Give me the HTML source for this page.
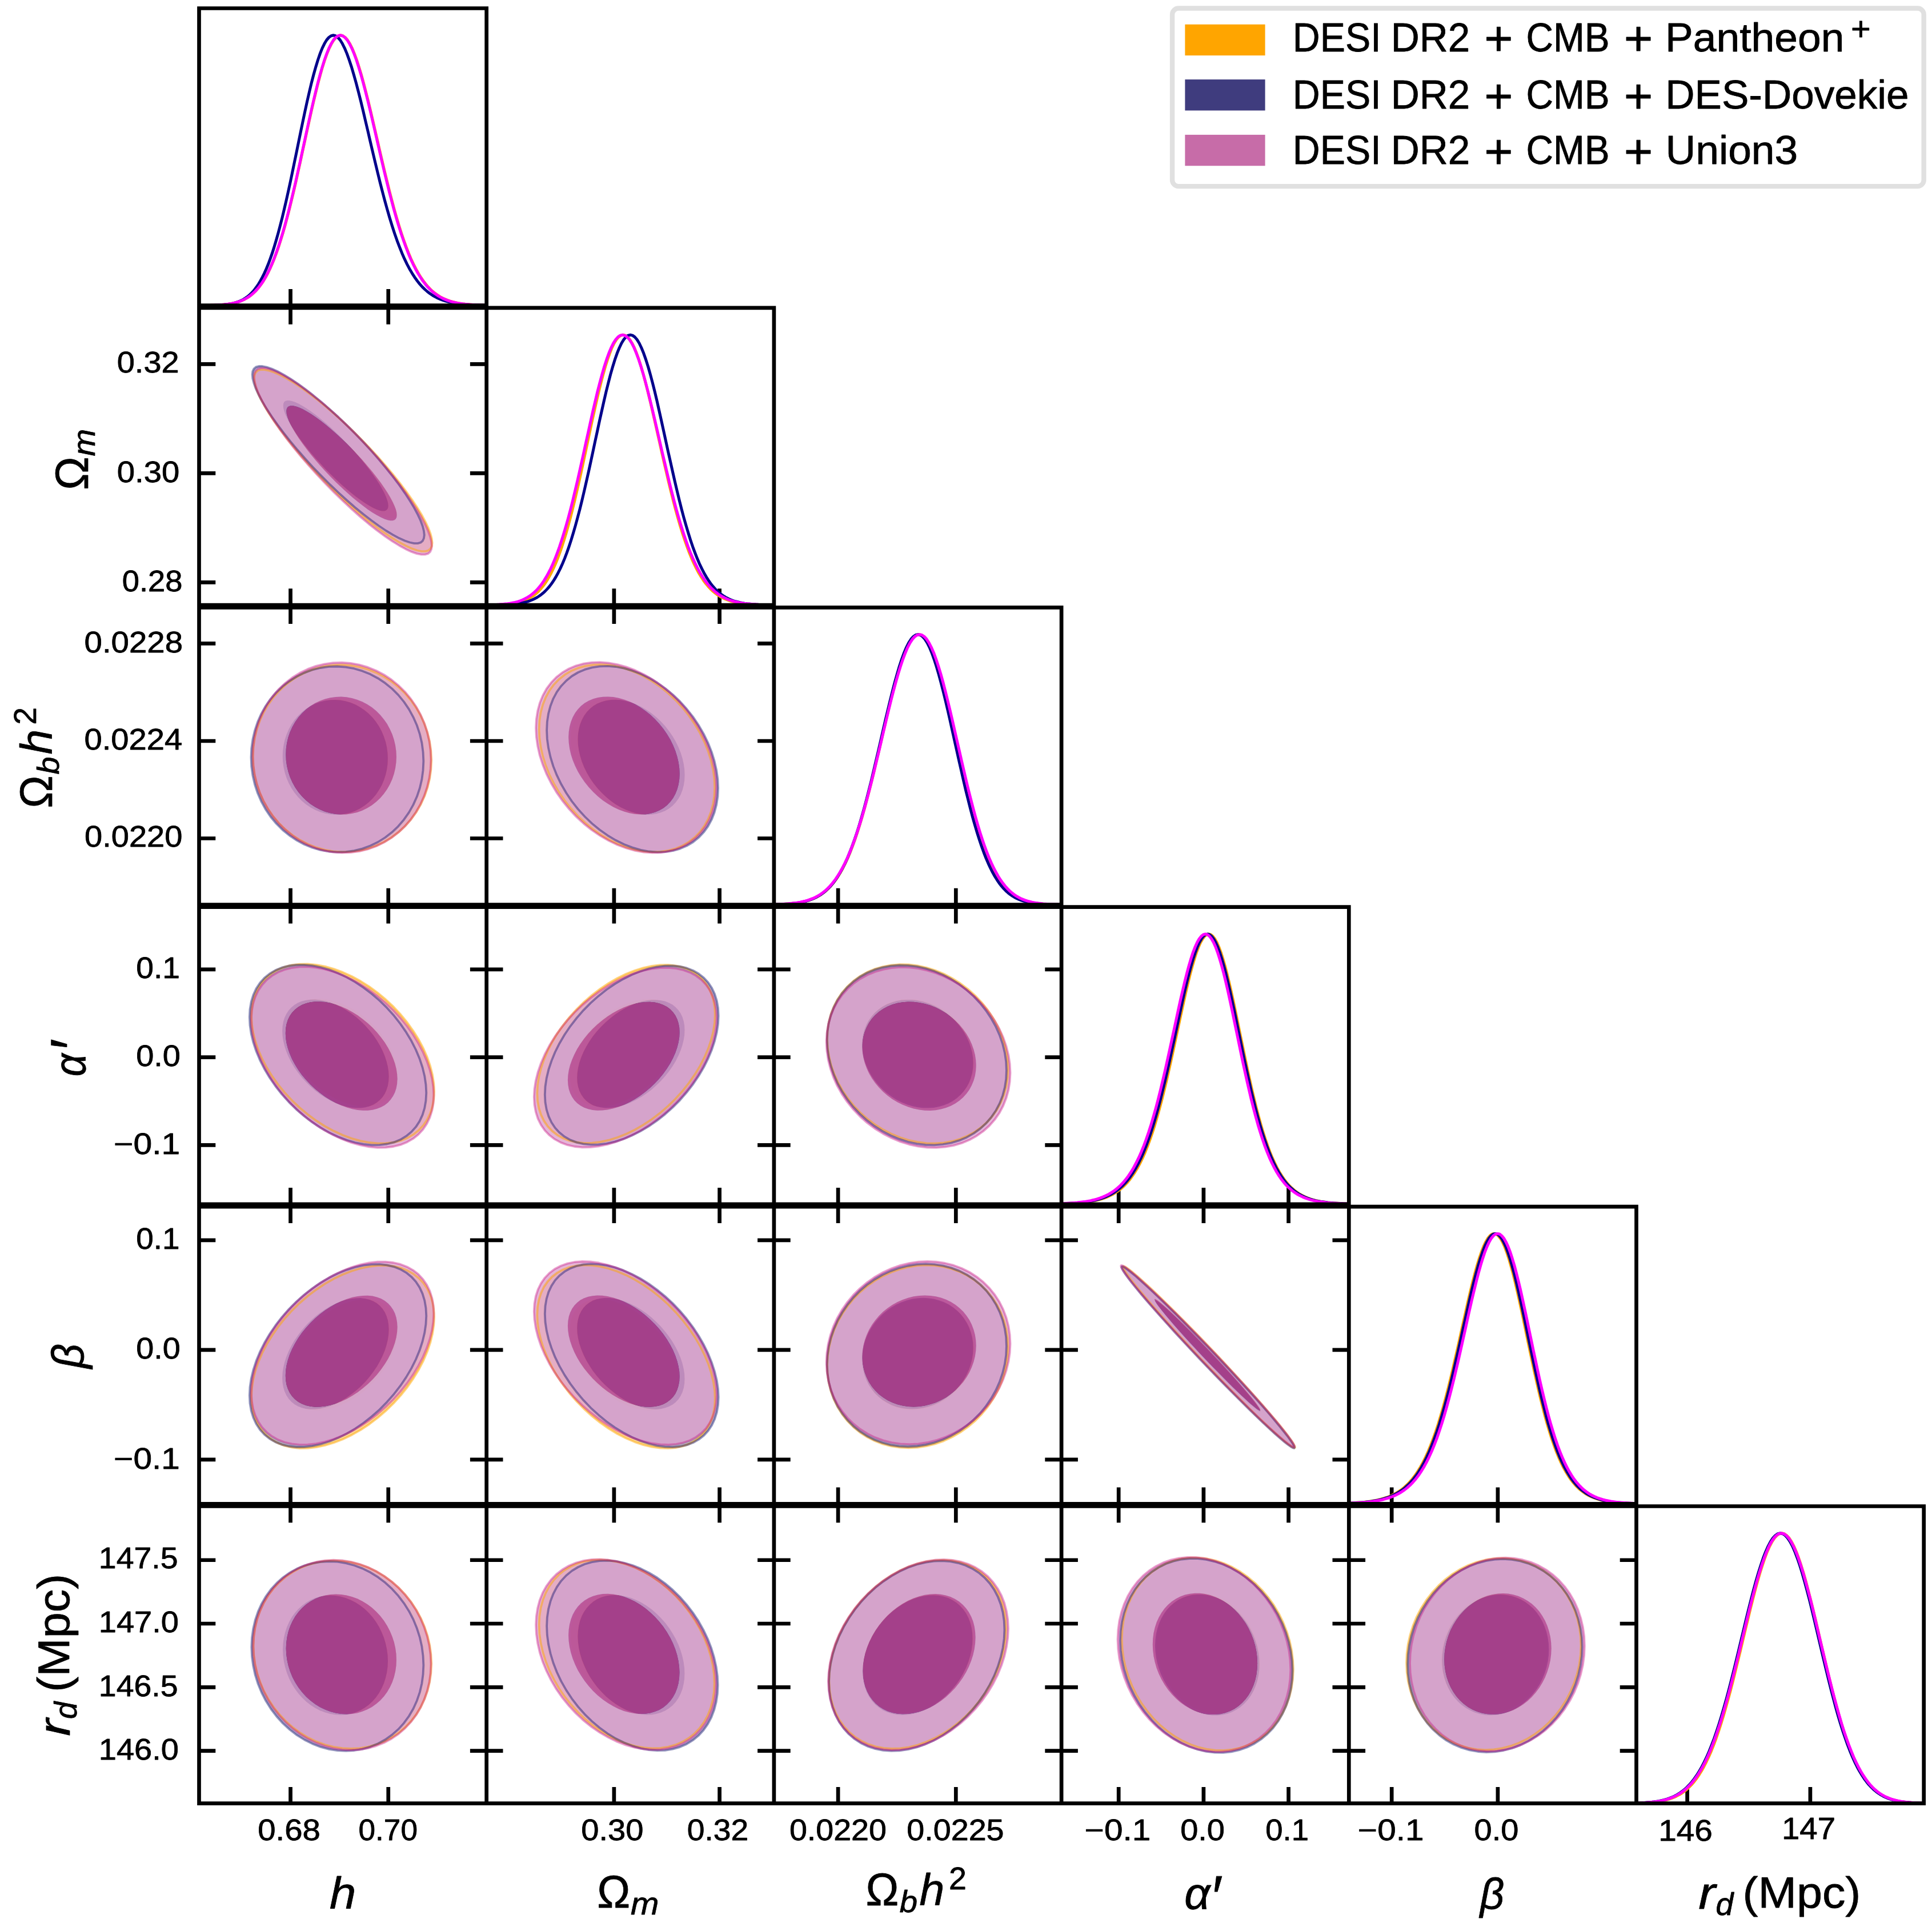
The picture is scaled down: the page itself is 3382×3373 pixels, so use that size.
<!DOCTYPE html>
<html><head><meta charset="utf-8"><title>Triangle plot</title>
<style>html,body{margin:0;padding:0;background:#fff}svg{display:block}</style></head>
<body>
<svg width="3382" height="3373" viewBox="0 0 3382 3373" font-family="Liberation Sans, sans-serif" fill="#000" stroke="#000" stroke-width="0.8" stroke-linejoin="round">
<rect width="3382" height="3373" fill="#fff" stroke="none"/>
<defs>
<clipPath id="c00"><rect x="348.5" y="14.5" width="503.2" height="520.2"/></clipPath>
<clipPath id="c10"><rect x="348.5" y="538.9" width="503.2" height="520.2"/></clipPath>
<clipPath id="c11"><rect x="851.7" y="538.9" width="503.2" height="520.2"/></clipPath>
<clipPath id="c20"><rect x="348.5" y="1063.3" width="503.2" height="520.2"/></clipPath>
<clipPath id="c21"><rect x="851.7" y="1063.3" width="503.2" height="520.2"/></clipPath>
<clipPath id="c22"><rect x="1354.9" y="1063.3" width="503.2" height="520.2"/></clipPath>
<clipPath id="c30"><rect x="348.5" y="1587.7" width="503.2" height="520.2"/></clipPath>
<clipPath id="c31"><rect x="851.7" y="1587.7" width="503.2" height="520.2"/></clipPath>
<clipPath id="c32"><rect x="1354.9" y="1587.7" width="503.2" height="520.2"/></clipPath>
<clipPath id="c33"><rect x="1858.1" y="1587.7" width="503.2" height="520.2"/></clipPath>
<clipPath id="c40"><rect x="348.5" y="2112.1" width="503.2" height="520.2"/></clipPath>
<clipPath id="c41"><rect x="851.7" y="2112.1" width="503.2" height="520.2"/></clipPath>
<clipPath id="c42"><rect x="1354.9" y="2112.1" width="503.2" height="520.2"/></clipPath>
<clipPath id="c43"><rect x="1858.1" y="2112.1" width="503.2" height="520.2"/></clipPath>
<clipPath id="c44"><rect x="2361.3" y="2112.1" width="503.2" height="520.2"/></clipPath>
<clipPath id="c50"><rect x="348.5" y="2636.5" width="503.2" height="520.2"/></clipPath>
<clipPath id="c51"><rect x="851.7" y="2636.5" width="503.2" height="520.2"/></clipPath>
<clipPath id="c52"><rect x="1354.9" y="2636.5" width="503.2" height="520.2"/></clipPath>
<clipPath id="c53"><rect x="1858.1" y="2636.5" width="503.2" height="520.2"/></clipPath>
<clipPath id="c54"><rect x="2361.3" y="2636.5" width="503.2" height="520.2"/></clipPath>
<clipPath id="c55"><rect x="2864.5" y="2636.5" width="503.2" height="520.2"/></clipPath>
</defs>
<g clip-path="url(#c10)">
<path d="M756.6,950.2 755.8,956.1 753.6,960.6 749.9,963.6 744.7,965.1 738.2,965.1 730.3,963.5 721.2,960.4 710.9,955.8 699.6,949.8 687.3,942.4 674.2,933.7 660.4,923.8 645.9,912.7 631.1,900.6 616.0,887.6 600.7,873.8 585.4,859.4 570.3,844.4 555.5,829.1 541.1,813.5 527.2,797.9 514.1,782.3 501.8,767.0 490.5,752.1 480.2,737.7 471.1,723.9 463.2,710.9 456.7,698.9 451.5,687.9 447.8,678.0 445.6,669.3 444.8,662.0 445.6,656.1 447.8,651.6 451.5,648.5 456.7,647.0 463.2,647.1 471.1,648.7 480.2,651.7 490.5,656.3 501.8,662.3 514.1,669.7 527.2,678.4 541.1,688.4 555.5,699.4 570.3,711.5 585.4,724.6 600.7,738.3 616.0,752.8 631.1,767.8 645.9,783.1 660.4,798.6 674.2,814.3 687.3,829.8 699.6,845.1 710.9,860.1 721.2,874.5 730.3,888.2 738.2,901.2 744.7,913.3 749.9,924.3 753.6,934.2 755.8,942.8Z M695.2,898.3 694.8,901.9 693.4,904.7 691.1,906.5 687.9,907.5 683.8,907.4 678.9,906.5 673.3,904.6 666.9,901.8 659.8,898.1 652.2,893.5 644.1,888.1 635.5,882.0 626.5,875.2 617.3,867.8 607.9,859.8 598.4,851.3 589.0,842.4 579.6,833.2 570.4,823.8 561.4,814.2 552.8,804.6 544.7,795.0 537.0,785.6 530.0,776.4 523.6,767.5 518.0,759.1 513.1,751.1 509.0,743.7 505.8,736.9 503.5,730.8 502.1,725.5 501.7,721.0 502.1,717.3 503.5,714.6 505.8,712.7 509.0,711.8 513.1,711.8 518.0,712.8 523.6,714.7 530.0,717.5 537.0,721.2 544.7,725.7 552.8,731.1 561.4,737.2 570.4,744.0 579.6,751.5 589.0,759.5 598.4,768.0 607.9,776.8 617.3,786.0 626.5,795.5 635.5,805.0 644.1,814.7 652.2,824.2 659.8,833.6 666.9,842.8 673.3,851.7 678.9,860.2 683.8,868.1 687.9,875.6 691.1,882.3 693.4,888.4 694.8,893.7Z" fill-rule="evenodd" stroke="none" fill="#FFDB99" fill-opacity="1.0"/>
<path d="M695.2,898.3 694.8,901.9 693.4,904.7 691.1,906.5 687.9,907.5 683.8,907.4 678.9,906.5 673.3,904.6 666.9,901.8 659.8,898.1 652.2,893.5 644.1,888.1 635.5,882.0 626.5,875.2 617.3,867.8 607.9,859.8 598.4,851.3 589.0,842.4 579.6,833.2 570.4,823.8 561.4,814.2 552.8,804.6 544.7,795.0 537.0,785.6 530.0,776.4 523.6,767.5 518.0,759.1 513.1,751.1 509.0,743.7 505.8,736.9 503.5,730.8 502.1,725.5 501.7,721.0 502.1,717.3 503.5,714.6 505.8,712.7 509.0,711.8 513.1,711.8 518.0,712.8 523.6,714.7 530.0,717.5 537.0,721.2 544.7,725.7 552.8,731.1 561.4,737.2 570.4,744.0 579.6,751.5 589.0,759.5 598.4,768.0 607.9,776.8 617.3,786.0 626.5,795.5 635.5,805.0 644.1,814.7 652.2,824.2 659.8,833.6 666.9,842.8 673.3,851.7 678.9,860.2 683.8,868.1 687.9,875.6 691.1,882.3 693.4,888.4 694.8,893.7Z" stroke="none" fill="#FFA500" fill-opacity="1.0"/>
<path d="M742.8,936.5 742.0,942.3 739.9,946.7 736.3,949.7 731.3,951.1 725.0,951.1 717.4,949.5 708.6,946.5 698.7,942.1 687.7,936.2 675.8,929.0 663.2,920.5 649.8,910.8 635.9,900.0 621.5,888.2 606.9,875.5 592.2,862.1 577.4,848.0 562.8,833.4 548.4,818.5 534.5,803.3 521.2,788.1 508.5,772.9 496.6,758.0 485.7,743.4 475.7,729.3 466.9,715.9 459.3,703.3 453.0,691.5 448.0,680.8 444.5,671.1 442.3,662.7 441.6,655.6 442.3,649.8 444.5,645.4 448.0,642.4 453.0,641.0 459.3,641.0 466.9,642.5 475.7,645.6 485.7,650.0 496.6,655.9 508.5,663.1 521.2,671.6 534.5,681.3 548.4,692.1 562.8,703.9 577.4,716.6 592.2,730.0 606.9,744.1 621.5,758.7 635.9,773.6 649.8,788.8 663.2,804.0 675.8,819.2 687.7,834.1 698.7,848.7 708.6,862.8 717.4,876.2 725.0,888.8 731.3,900.6 736.3,911.3 739.9,921.0 742.0,929.4Z M679.7,885.3 679.3,888.9 677.9,891.6 675.7,893.5 672.7,894.4 668.8,894.4 664.2,893.4 658.8,891.5 652.7,888.7 646.1,885.1 638.8,880.6 631.1,875.3 622.9,869.2 614.4,862.5 605.6,855.1 596.7,847.2 587.7,838.8 578.7,830.0 569.7,820.9 561.0,811.6 552.5,802.2 544.3,792.7 536.6,783.2 529.3,773.9 522.6,764.8 516.6,756.0 511.2,747.6 506.5,739.8 502.7,732.4 499.6,725.7 497.4,719.7 496.1,714.4 495.7,710.0 496.1,706.4 497.4,703.6 499.6,701.8 502.7,700.9 506.5,700.9 511.2,701.9 516.6,703.7 522.6,706.5 529.3,710.2 536.6,714.7 544.3,720.0 552.5,726.0 561.0,732.8 569.7,740.1 578.7,748.0 587.7,756.4 596.7,765.2 605.6,774.3 614.4,783.6 622.9,793.1 631.1,802.6 638.8,812.1 646.1,821.4 652.7,830.5 658.8,839.2 664.2,847.6 668.8,855.5 672.7,862.8 675.7,869.5 677.9,875.6 679.3,880.8Z" fill-rule="evenodd" stroke="none" fill="#A3A3C6" fill-opacity="0.85"/>
<path d="M679.7,885.3 679.3,888.9 677.9,891.6 675.7,893.5 672.7,894.4 668.8,894.4 664.2,893.4 658.8,891.5 652.7,888.7 646.1,885.1 638.8,880.6 631.1,875.3 622.9,869.2 614.4,862.5 605.6,855.1 596.7,847.2 587.7,838.8 578.7,830.0 569.7,820.9 561.0,811.6 552.5,802.2 544.3,792.7 536.6,783.2 529.3,773.9 522.6,764.8 516.6,756.0 511.2,747.6 506.5,739.8 502.7,732.4 499.6,725.7 497.4,719.7 496.1,714.4 495.7,710.0 496.1,706.4 497.4,703.6 499.6,701.8 502.7,700.9 506.5,700.9 511.2,701.9 516.6,703.7 522.6,706.5 529.3,710.2 536.6,714.7 544.3,720.0 552.5,726.0 561.0,732.8 569.7,740.1 578.7,748.0 587.7,756.4 596.7,765.2 605.6,774.3 614.4,783.6 622.9,793.1 631.1,802.6 638.8,812.1 646.1,821.4 652.7,830.5 658.8,839.2 664.2,847.6 668.8,855.5 672.7,862.8 675.7,869.5 677.9,875.6 679.3,880.8Z" stroke="none" fill="#191970" fill-opacity="0.85"/>
<path d="M755.9,955.4 755.1,961.5 752.9,966.1 749.2,969.2 744.0,970.7 737.5,970.7 729.6,969.1 720.5,965.9 710.3,961.2 699.0,955.0 686.7,947.4 673.6,938.5 659.8,928.3 645.4,916.9 630.6,904.5 615.5,891.1 600.3,876.9 585.0,862.1 569.9,846.7 555.1,831.0 540.7,815.0 526.9,799.0 513.8,783.0 501.5,767.3 490.2,751.9 480.0,737.1 470.9,723.0 463.0,709.7 456.5,697.3 451.3,686.0 447.6,675.8 445.4,667.0 444.6,659.4 445.4,653.3 447.6,648.7 451.3,645.6 456.5,644.1 463.0,644.1 470.9,645.7 480.0,648.9 490.2,653.6 501.5,659.8 513.8,667.4 526.9,676.3 540.7,686.5 555.1,697.9 569.9,710.3 585.0,723.7 600.3,737.8 615.5,752.7 630.6,768.0 645.4,783.8 659.8,799.8 673.6,815.8 686.7,831.8 699.0,847.5 710.3,862.8 720.5,877.7 729.6,891.8 737.5,905.1 744.0,917.5 749.2,928.8 752.9,939.0 755.1,947.8Z M694.6,901.7 694.2,905.5 692.8,908.3 690.5,910.2 687.3,911.2 683.2,911.2 678.3,910.2 672.7,908.2 666.3,905.3 659.3,901.5 651.7,896.9 643.5,891.4 635.0,885.1 626.0,878.1 616.8,870.4 607.5,862.2 598.0,853.5 588.5,844.4 579.1,834.9 569.9,825.2 561.0,815.4 552.4,805.5 544.3,795.7 536.7,786.0 529.7,776.6 523.3,767.5 517.7,758.8 512.8,750.6 508.7,743.0 505.5,736.0 503.2,729.8 501.8,724.3 501.4,719.7 501.8,715.9 503.2,713.1 505.5,711.2 508.7,710.2 512.8,710.2 517.7,711.2 523.3,713.2 529.7,716.1 536.7,719.9 544.3,724.5 552.4,730.1 561.0,736.3 569.9,743.3 579.1,751.0 588.5,759.2 598.0,767.9 607.5,777.0 616.8,786.5 626.0,796.2 635.0,806.0 643.5,815.9 651.7,825.7 659.3,835.4 666.3,844.8 672.7,853.9 678.3,862.6 683.2,870.8 687.3,878.4 690.5,885.4 692.8,891.6 694.2,897.1Z" fill-rule="evenodd" stroke="none" fill="#DFA1CE" fill-opacity="0.8"/>
<path d="M694.6,901.7 694.2,905.5 692.8,908.3 690.5,910.2 687.3,911.2 683.2,911.2 678.3,910.2 672.7,908.2 666.3,905.3 659.3,901.5 651.7,896.9 643.5,891.4 635.0,885.1 626.0,878.1 616.8,870.4 607.5,862.2 598.0,853.5 588.5,844.4 579.1,834.9 569.9,825.2 561.0,815.4 552.4,805.5 544.3,795.7 536.7,786.0 529.7,776.6 523.3,767.5 517.7,758.8 512.8,750.6 508.7,743.0 505.5,736.0 503.2,729.8 501.8,724.3 501.4,719.7 501.8,715.9 503.2,713.1 505.5,711.2 508.7,710.2 512.8,710.2 517.7,711.2 523.3,713.2 529.7,716.1 536.7,719.9 544.3,724.5 552.4,730.1 561.0,736.3 569.9,743.3 579.1,751.0 588.5,759.2 598.0,767.9 607.5,777.0 616.8,786.5 626.0,796.2 635.0,806.0 643.5,815.9 651.7,825.7 659.3,835.4 666.3,844.8 672.7,853.9 678.3,862.6 683.2,870.8 687.3,878.4 690.5,885.4 692.8,891.6 694.2,897.1Z" stroke="none" fill="#BF4595" fill-opacity="0.8"/>
<path d="M756.6,950.2 755.8,956.1 753.6,960.6 749.9,963.6 744.7,965.1 738.2,965.1 730.3,963.5 721.2,960.4 710.9,955.8 699.6,949.8 687.3,942.4 674.2,933.7 660.4,923.8 645.9,912.7 631.1,900.6 616.0,887.6 600.7,873.8 585.4,859.4 570.3,844.4 555.5,829.1 541.1,813.5 527.2,797.9 514.1,782.3 501.8,767.0 490.5,752.1 480.2,737.7 471.1,723.9 463.2,710.9 456.7,698.9 451.5,687.9 447.8,678.0 445.6,669.3 444.8,662.0 445.6,656.1 447.8,651.6 451.5,648.5 456.7,647.0 463.2,647.1 471.1,648.7 480.2,651.7 490.5,656.3 501.8,662.3 514.1,669.7 527.2,678.4 541.1,688.4 555.5,699.4 570.3,711.5 585.4,724.6 600.7,738.3 616.0,752.8 631.1,767.8 645.9,783.1 660.4,798.6 674.2,814.3 687.3,829.8 699.6,845.1 710.9,860.1 721.2,874.5 730.3,888.2 738.2,901.2 744.7,913.3 749.9,924.3 753.6,934.2 755.8,942.8Z" fill="none" stroke="#FFA500" stroke-opacity="0.5" stroke-width="3.8"/>
<path d="M742.8,936.5 742.0,942.3 739.9,946.7 736.3,949.7 731.3,951.1 725.0,951.1 717.4,949.5 708.6,946.5 698.7,942.1 687.7,936.2 675.8,929.0 663.2,920.5 649.8,910.8 635.9,900.0 621.5,888.2 606.9,875.5 592.2,862.1 577.4,848.0 562.8,833.4 548.4,818.5 534.5,803.3 521.2,788.1 508.5,772.9 496.6,758.0 485.7,743.4 475.7,729.3 466.9,715.9 459.3,703.3 453.0,691.5 448.0,680.8 444.5,671.1 442.3,662.7 441.6,655.6 442.3,649.8 444.5,645.4 448.0,642.4 453.0,641.0 459.3,641.0 466.9,642.5 475.7,645.6 485.7,650.0 496.6,655.9 508.5,663.1 521.2,671.6 534.5,681.3 548.4,692.1 562.8,703.9 577.4,716.6 592.2,730.0 606.9,744.1 621.5,758.7 635.9,773.6 649.8,788.8 663.2,804.0 675.8,819.2 687.7,834.1 698.7,848.7 708.6,862.8 717.4,876.2 725.0,888.8 731.3,900.6 736.3,911.3 739.9,921.0 742.0,929.4Z" fill="none" stroke="#191970" stroke-opacity="0.45" stroke-width="3.8"/>
<path d="M755.9,955.4 755.1,961.5 752.9,966.1 749.2,969.2 744.0,970.7 737.5,970.7 729.6,969.1 720.5,965.9 710.3,961.2 699.0,955.0 686.7,947.4 673.6,938.5 659.8,928.3 645.4,916.9 630.6,904.5 615.5,891.1 600.3,876.9 585.0,862.1 569.9,846.7 555.1,831.0 540.7,815.0 526.9,799.0 513.8,783.0 501.5,767.3 490.2,751.9 480.0,737.1 470.9,723.0 463.0,709.7 456.5,697.3 451.3,686.0 447.6,675.8 445.4,667.0 444.6,659.4 445.4,653.3 447.6,648.7 451.3,645.6 456.5,644.1 463.0,644.1 470.9,645.7 480.0,648.9 490.2,653.6 501.5,659.8 513.8,667.4 526.9,676.3 540.7,686.5 555.1,697.9 569.9,710.3 585.0,723.7 600.3,737.8 615.5,752.7 630.6,768.0 645.4,783.8 659.8,799.8 673.6,815.8 686.7,831.8 699.0,847.5 710.3,862.8 720.5,877.7 729.6,891.8 737.5,905.1 744.0,917.5 749.2,928.8 752.9,939.0 755.1,947.8Z" fill="none" stroke="#C71585" stroke-opacity="0.4" stroke-width="3.8"/>
</g>
<g clip-path="url(#c20)">
<path d="M755.2,1330.8 754.4,1346.9 752.2,1362.7 748.4,1378.3 743.3,1393.3 736.7,1407.7 728.8,1421.3 719.7,1434.0 709.4,1445.7 698.1,1456.3 685.7,1465.6 672.6,1473.6 658.7,1480.2 644.3,1485.3 629.4,1488.9 614.3,1490.9 599.0,1491.4 583.6,1490.3 568.5,1487.6 553.6,1483.4 539.2,1477.7 525.3,1470.5 512.2,1462.0 499.8,1452.1 488.5,1441.1 478.2,1429.0 469.1,1415.9 461.2,1401.9 454.6,1387.2 449.5,1372.0 445.7,1356.3 443.5,1340.4 442.7,1324.3 443.5,1308.2 445.7,1292.4 449.5,1276.9 454.6,1261.8 461.2,1247.4 469.1,1233.8 478.2,1221.1 488.5,1209.4 499.8,1198.8 512.2,1189.5 525.3,1181.5 539.2,1174.9 553.6,1169.8 568.5,1166.2 583.6,1164.2 599.0,1163.7 614.3,1164.8 629.4,1167.5 644.3,1171.7 658.7,1177.4 672.6,1184.6 685.7,1193.1 698.1,1203.0 709.4,1214.0 719.7,1226.2 728.8,1239.3 736.7,1253.2 743.3,1267.9 748.4,1283.1 752.2,1298.8 754.4,1314.8Z M694.5,1326.0 694.0,1336.0 692.6,1345.8 690.3,1355.4 687.1,1364.7 683.0,1373.6 678.1,1382.0 672.5,1389.9 666.1,1397.1 659.0,1403.7 651.4,1409.4 643.2,1414.4 634.6,1418.5 625.7,1421.6 616.5,1423.9 607.1,1425.1 597.6,1425.4 588.1,1424.7 578.7,1423.1 569.4,1420.5 560.5,1416.9 551.9,1412.5 543.7,1407.2 536.1,1401.1 529.1,1394.3 522.7,1386.8 517.0,1378.7 512.1,1370.0 508.1,1360.9 504.9,1351.5 502.5,1341.8 501.1,1331.9 500.7,1322.0 501.1,1312.1 502.5,1302.2 504.9,1292.6 508.1,1283.3 512.1,1274.4 517.0,1266.0 522.7,1258.1 529.1,1250.9 536.1,1244.4 543.7,1238.6 551.9,1233.6 560.5,1229.6 569.4,1226.4 578.7,1224.2 588.1,1222.9 597.6,1222.6 607.1,1223.3 616.5,1225.0 625.7,1227.6 634.6,1231.1 643.2,1235.6 651.4,1240.8 659.0,1246.9 666.1,1253.8 672.5,1261.3 678.1,1269.4 683.0,1278.0 687.1,1287.1 690.3,1296.5 692.6,1306.2 694.0,1316.1Z" fill-rule="evenodd" stroke="none" fill="#FFDB99" fill-opacity="1.0"/>
<path d="M694.5,1326.0 694.0,1336.0 692.6,1345.8 690.3,1355.4 687.1,1364.7 683.0,1373.6 678.1,1382.0 672.5,1389.9 666.1,1397.1 659.0,1403.7 651.4,1409.4 643.2,1414.4 634.6,1418.5 625.7,1421.6 616.5,1423.9 607.1,1425.1 597.6,1425.4 588.1,1424.7 578.7,1423.1 569.4,1420.5 560.5,1416.9 551.9,1412.5 543.7,1407.2 536.1,1401.1 529.1,1394.3 522.7,1386.8 517.0,1378.7 512.1,1370.0 508.1,1360.9 504.9,1351.5 502.5,1341.8 501.1,1331.9 500.7,1322.0 501.1,1312.1 502.5,1302.2 504.9,1292.6 508.1,1283.3 512.1,1274.4 517.0,1266.0 522.7,1258.1 529.1,1250.9 536.1,1244.4 543.7,1238.6 551.9,1233.6 560.5,1229.6 569.4,1226.4 578.7,1224.2 588.1,1222.9 597.6,1222.6 607.1,1223.3 616.5,1225.0 625.7,1227.6 634.6,1231.1 643.2,1235.6 651.4,1240.8 659.0,1246.9 666.1,1253.8 672.5,1261.3 678.1,1269.4 683.0,1278.0 687.1,1287.1 690.3,1296.5 692.6,1306.2 694.0,1316.1Z" stroke="none" fill="#FFA500" fill-opacity="1.0"/>
<path d="M741.4,1332.3 740.6,1348.2 738.5,1364.0 734.9,1379.4 729.9,1394.3 723.5,1408.6 715.9,1422.1 707.1,1434.7 697.2,1446.3 686.2,1456.8 674.3,1466.0 661.6,1474.0 648.2,1480.5 634.2,1485.6 619.9,1489.2 605.2,1491.2 590.4,1491.6 575.6,1490.5 561.0,1487.9 546.6,1483.7 532.6,1478.0 519.3,1470.9 506.6,1462.4 494.7,1452.7 483.7,1441.7 473.7,1429.7 464.9,1416.7 457.3,1402.8 451.0,1388.3 446.0,1373.1 442.4,1357.6 440.2,1341.8 439.5,1325.8 440.2,1309.9 442.4,1294.2 446.0,1278.8 451.0,1263.8 457.3,1249.6 464.9,1236.0 473.7,1223.4 483.7,1211.8 494.7,1201.3 506.6,1192.1 519.3,1184.1 532.6,1177.6 546.6,1172.5 561.0,1169.0 575.6,1166.9 590.4,1166.5 605.2,1167.6 619.9,1170.2 634.2,1174.4 648.2,1180.1 661.6,1187.2 674.3,1195.7 686.2,1205.4 697.2,1216.4 707.1,1228.4 715.9,1241.4 723.5,1255.3 729.9,1269.8 734.9,1285.0 738.5,1300.5 740.6,1316.4Z M678.9,1327.5 678.5,1337.4 677.2,1347.1 675.0,1356.6 671.9,1365.9 668.1,1374.7 663.4,1383.1 658.0,1390.9 652.0,1398.1 645.3,1404.6 638.0,1410.3 630.2,1415.2 622.1,1419.2 613.6,1422.4 604.8,1424.6 595.8,1425.8 586.8,1426.1 577.8,1425.4 568.8,1423.8 560.1,1421.2 551.6,1417.7 543.4,1413.3 535.6,1408.1 528.4,1402.0 521.7,1395.2 515.6,1387.8 510.2,1379.7 505.6,1371.2 501.7,1362.2 498.6,1352.8 496.5,1343.2 495.1,1333.4 494.7,1323.5 495.1,1313.7 496.5,1303.9 498.6,1294.4 501.7,1285.2 505.6,1276.3 510.2,1267.9 515.6,1260.1 521.7,1252.9 528.4,1246.5 535.6,1240.7 543.4,1235.8 551.6,1231.8 560.1,1228.6 568.8,1226.4 577.8,1225.2 586.8,1224.9 595.8,1225.6 604.8,1227.2 613.6,1229.8 622.1,1233.3 630.2,1237.7 638.0,1243.0 645.3,1249.0 652.0,1255.8 658.0,1263.2 663.4,1271.3 668.1,1279.9 671.9,1288.9 675.0,1298.2 677.2,1307.9 678.5,1317.7Z" fill-rule="evenodd" stroke="none" fill="#A3A3C6" fill-opacity="0.85"/>
<path d="M678.9,1327.5 678.5,1337.4 677.2,1347.1 675.0,1356.6 671.9,1365.9 668.1,1374.7 663.4,1383.1 658.0,1390.9 652.0,1398.1 645.3,1404.6 638.0,1410.3 630.2,1415.2 622.1,1419.2 613.6,1422.4 604.8,1424.6 595.8,1425.8 586.8,1426.1 577.8,1425.4 568.8,1423.8 560.1,1421.2 551.6,1417.7 543.4,1413.3 535.6,1408.1 528.4,1402.0 521.7,1395.2 515.6,1387.8 510.2,1379.7 505.6,1371.2 501.7,1362.2 498.6,1352.8 496.5,1343.2 495.1,1333.4 494.7,1323.5 495.1,1313.7 496.5,1303.9 498.6,1294.4 501.7,1285.2 505.6,1276.3 510.2,1267.9 515.6,1260.1 521.7,1252.9 528.4,1246.5 535.6,1240.7 543.4,1235.8 551.6,1231.8 560.1,1228.6 568.8,1226.4 577.8,1225.2 586.8,1224.9 595.8,1225.6 604.8,1227.2 613.6,1229.8 622.1,1233.3 630.2,1237.7 638.0,1243.0 645.3,1249.0 652.0,1255.8 658.0,1263.2 663.4,1271.3 668.1,1279.9 671.9,1288.9 675.0,1298.2 677.2,1307.9 678.5,1317.7Z" stroke="none" fill="#191970" fill-opacity="0.85"/>
<path d="M754.5,1329.5 753.7,1345.9 751.5,1362.0 747.8,1377.7 742.6,1393.0 736.1,1407.6 728.2,1421.5 719.1,1434.4 708.8,1446.3 697.4,1457.0 685.2,1466.5 672.0,1474.6 658.2,1481.3 643.8,1486.5 628.9,1490.2 613.8,1492.2 598.5,1492.7 583.2,1491.6 568.1,1488.9 553.2,1484.6 538.8,1478.8 525.0,1471.5 511.8,1462.8 499.6,1452.8 488.2,1441.6 477.9,1429.3 468.8,1416.0 460.9,1401.8 454.4,1386.9 449.2,1371.4 445.5,1355.4 443.3,1339.2 442.5,1322.9 443.3,1306.6 445.5,1290.5 449.2,1274.7 454.4,1259.4 460.9,1244.8 468.8,1230.9 477.9,1218.0 488.2,1206.1 499.6,1195.4 511.8,1185.9 525.0,1177.8 538.8,1171.1 553.2,1165.9 568.1,1162.3 583.2,1160.2 598.5,1159.7 613.8,1160.8 628.9,1163.6 643.8,1167.9 658.2,1173.7 672.0,1180.9 685.2,1189.6 697.4,1199.6 708.8,1210.8 719.1,1223.2 728.2,1236.5 736.1,1250.7 742.6,1265.6 747.8,1281.1 751.5,1297.0 753.7,1313.2Z M693.9,1324.7 693.4,1334.8 692.0,1344.8 689.7,1354.6 686.5,1364.0 682.4,1373.1 677.6,1381.6 671.9,1389.6 665.5,1397.0 658.5,1403.6 650.9,1409.5 642.7,1414.5 634.1,1418.7 625.2,1421.9 616.0,1424.1 606.6,1425.4 597.1,1425.7 587.6,1425.0 578.2,1423.3 569.0,1420.7 560.1,1417.1 551.5,1412.6 543.4,1407.2 535.8,1401.0 528.7,1394.1 522.3,1386.4 516.7,1378.2 511.8,1369.4 507.7,1360.2 504.5,1350.6 502.2,1340.8 500.8,1330.7 500.4,1320.6 500.8,1310.5 502.2,1300.6 504.5,1290.8 507.7,1281.3 511.8,1272.3 516.7,1263.7 522.3,1255.7 528.7,1248.4 535.8,1241.7 543.4,1235.9 551.5,1230.8 560.1,1226.7 569.0,1223.5 578.2,1221.2 587.6,1219.9 597.1,1219.6 606.6,1220.3 616.0,1222.0 625.2,1224.7 634.1,1228.3 642.7,1232.8 650.9,1238.1 658.5,1244.3 665.5,1251.3 671.9,1258.9 677.6,1267.1 682.4,1275.9 686.5,1285.1 689.7,1294.7 692.0,1304.6 693.4,1314.6Z" fill-rule="evenodd" stroke="none" fill="#DFA1CE" fill-opacity="0.8"/>
<path d="M693.9,1324.7 693.4,1334.8 692.0,1344.8 689.7,1354.6 686.5,1364.0 682.4,1373.1 677.6,1381.6 671.9,1389.6 665.5,1397.0 658.5,1403.6 650.9,1409.5 642.7,1414.5 634.1,1418.7 625.2,1421.9 616.0,1424.1 606.6,1425.4 597.1,1425.7 587.6,1425.0 578.2,1423.3 569.0,1420.7 560.1,1417.1 551.5,1412.6 543.4,1407.2 535.8,1401.0 528.7,1394.1 522.3,1386.4 516.7,1378.2 511.8,1369.4 507.7,1360.2 504.5,1350.6 502.2,1340.8 500.8,1330.7 500.4,1320.6 500.8,1310.5 502.2,1300.6 504.5,1290.8 507.7,1281.3 511.8,1272.3 516.7,1263.7 522.3,1255.7 528.7,1248.4 535.8,1241.7 543.4,1235.9 551.5,1230.8 560.1,1226.7 569.0,1223.5 578.2,1221.2 587.6,1219.9 597.1,1219.6 606.6,1220.3 616.0,1222.0 625.2,1224.7 634.1,1228.3 642.7,1232.8 650.9,1238.1 658.5,1244.3 665.5,1251.3 671.9,1258.9 677.6,1267.1 682.4,1275.9 686.5,1285.1 689.7,1294.7 692.0,1304.6 693.4,1314.6Z" stroke="none" fill="#BF4595" fill-opacity="0.8"/>
<path d="M755.2,1330.8 754.4,1346.9 752.2,1362.7 748.4,1378.3 743.3,1393.3 736.7,1407.7 728.8,1421.3 719.7,1434.0 709.4,1445.7 698.1,1456.3 685.7,1465.6 672.6,1473.6 658.7,1480.2 644.3,1485.3 629.4,1488.9 614.3,1490.9 599.0,1491.4 583.6,1490.3 568.5,1487.6 553.6,1483.4 539.2,1477.7 525.3,1470.5 512.2,1462.0 499.8,1452.1 488.5,1441.1 478.2,1429.0 469.1,1415.9 461.2,1401.9 454.6,1387.2 449.5,1372.0 445.7,1356.3 443.5,1340.4 442.7,1324.3 443.5,1308.2 445.7,1292.4 449.5,1276.9 454.6,1261.8 461.2,1247.4 469.1,1233.8 478.2,1221.1 488.5,1209.4 499.8,1198.8 512.2,1189.5 525.3,1181.5 539.2,1174.9 553.6,1169.8 568.5,1166.2 583.6,1164.2 599.0,1163.7 614.3,1164.8 629.4,1167.5 644.3,1171.7 658.7,1177.4 672.6,1184.6 685.7,1193.1 698.1,1203.0 709.4,1214.0 719.7,1226.2 728.8,1239.3 736.7,1253.2 743.3,1267.9 748.4,1283.1 752.2,1298.8 754.4,1314.8Z" fill="none" stroke="#FFA500" stroke-opacity="0.5" stroke-width="3.8"/>
<path d="M741.4,1332.3 740.6,1348.2 738.5,1364.0 734.9,1379.4 729.9,1394.3 723.5,1408.6 715.9,1422.1 707.1,1434.7 697.2,1446.3 686.2,1456.8 674.3,1466.0 661.6,1474.0 648.2,1480.5 634.2,1485.6 619.9,1489.2 605.2,1491.2 590.4,1491.6 575.6,1490.5 561.0,1487.9 546.6,1483.7 532.6,1478.0 519.3,1470.9 506.6,1462.4 494.7,1452.7 483.7,1441.7 473.7,1429.7 464.9,1416.7 457.3,1402.8 451.0,1388.3 446.0,1373.1 442.4,1357.6 440.2,1341.8 439.5,1325.8 440.2,1309.9 442.4,1294.2 446.0,1278.8 451.0,1263.8 457.3,1249.6 464.9,1236.0 473.7,1223.4 483.7,1211.8 494.7,1201.3 506.6,1192.1 519.3,1184.1 532.6,1177.6 546.6,1172.5 561.0,1169.0 575.6,1166.9 590.4,1166.5 605.2,1167.6 619.9,1170.2 634.2,1174.4 648.2,1180.1 661.6,1187.2 674.3,1195.7 686.2,1205.4 697.2,1216.4 707.1,1228.4 715.9,1241.4 723.5,1255.3 729.9,1269.8 734.9,1285.0 738.5,1300.5 740.6,1316.4Z" fill="none" stroke="#191970" stroke-opacity="0.45" stroke-width="3.8"/>
<path d="M754.5,1329.5 753.7,1345.9 751.5,1362.0 747.8,1377.7 742.6,1393.0 736.1,1407.6 728.2,1421.5 719.1,1434.4 708.8,1446.3 697.4,1457.0 685.2,1466.5 672.0,1474.6 658.2,1481.3 643.8,1486.5 628.9,1490.2 613.8,1492.2 598.5,1492.7 583.2,1491.6 568.1,1488.9 553.2,1484.6 538.8,1478.8 525.0,1471.5 511.8,1462.8 499.6,1452.8 488.2,1441.6 477.9,1429.3 468.8,1416.0 460.9,1401.8 454.4,1386.9 449.2,1371.4 445.5,1355.4 443.3,1339.2 442.5,1322.9 443.3,1306.6 445.5,1290.5 449.2,1274.7 454.4,1259.4 460.9,1244.8 468.8,1230.9 477.9,1218.0 488.2,1206.1 499.6,1195.4 511.8,1185.9 525.0,1177.8 538.8,1171.1 553.2,1165.9 568.1,1162.3 583.2,1160.2 598.5,1159.7 613.8,1160.8 628.9,1163.6 643.8,1167.9 658.2,1173.7 672.0,1180.9 685.2,1189.6 697.4,1199.6 708.8,1210.8 719.1,1223.2 728.2,1236.5 736.1,1250.7 742.6,1265.6 747.8,1281.1 751.5,1297.0 753.7,1313.2Z" fill="none" stroke="#C71585" stroke-opacity="0.4" stroke-width="3.8"/>
</g>
<g clip-path="url(#c21)">
<path d="M1251.2,1378.2 1250.5,1393.2 1248.3,1407.6 1244.6,1421.3 1239.5,1434.0 1233.1,1445.7 1225.3,1456.3 1216.3,1465.6 1206.2,1473.6 1195.0,1480.2 1182.9,1485.3 1169.9,1488.9 1156.3,1490.9 1142.0,1491.4 1127.4,1490.3 1112.5,1487.6 1097.4,1483.4 1082.3,1477.6 1067.4,1470.4 1052.7,1461.9 1038.5,1452.0 1024.9,1440.9 1011.9,1428.8 999.8,1415.6 988.6,1401.6 978.5,1386.9 969.5,1371.7 961.7,1356.0 955.3,1340.0 950.2,1323.9 946.5,1307.8 944.3,1291.9 943.6,1276.4 944.3,1261.3 946.5,1246.9 950.2,1233.2 955.3,1220.5 961.7,1208.8 969.5,1198.2 978.5,1188.9 988.6,1180.9 999.8,1174.3 1011.9,1169.2 1024.9,1165.6 1038.5,1163.6 1052.7,1163.1 1067.4,1164.2 1082.3,1166.9 1097.4,1171.2 1112.5,1176.9 1127.4,1184.1 1142.0,1192.7 1156.3,1202.5 1169.9,1213.6 1182.9,1225.8 1195.0,1238.9 1206.2,1252.9 1216.3,1267.6 1225.3,1282.9 1233.1,1298.6 1239.5,1314.5 1244.6,1330.7 1248.3,1346.7 1250.5,1362.6Z M1188.2,1355.3 1187.7,1364.6 1186.4,1373.6 1184.1,1382.0 1181.0,1389.9 1177.0,1397.1 1172.2,1403.6 1166.7,1409.4 1160.5,1414.4 1153.6,1418.4 1146.1,1421.6 1138.1,1423.8 1129.7,1425.1 1121.0,1425.4 1112.0,1424.7 1102.8,1423.0 1093.5,1420.4 1084.2,1416.8 1075.0,1412.4 1066.0,1407.1 1057.3,1401.0 1048.9,1394.1 1040.9,1386.6 1033.4,1378.5 1026.5,1369.9 1020.3,1360.8 1014.8,1351.3 1010.0,1341.6 1006.0,1331.7 1002.9,1321.8 1000.6,1311.8 999.3,1302.0 998.8,1292.4 999.3,1283.1 1000.6,1274.2 1002.9,1265.7 1006.0,1257.9 1010.0,1250.6 1014.8,1244.1 1020.3,1238.3 1026.5,1233.4 1033.4,1229.3 1040.9,1226.1 1048.9,1223.9 1057.3,1222.7 1066.0,1222.4 1075.0,1223.1 1084.2,1224.7 1093.5,1227.4 1102.8,1230.9 1112.0,1235.4 1121.0,1240.6 1129.7,1246.7 1138.1,1253.6 1146.1,1261.1 1153.6,1269.2 1160.5,1277.9 1166.7,1287.0 1172.2,1296.4 1177.0,1306.1 1181.0,1316.0 1184.1,1326.0 1186.4,1335.9 1187.7,1345.7Z" fill-rule="evenodd" stroke="none" fill="#FFDB99" fill-opacity="1.0"/>
<path d="M1188.2,1355.3 1187.7,1364.6 1186.4,1373.6 1184.1,1382.0 1181.0,1389.9 1177.0,1397.1 1172.2,1403.6 1166.7,1409.4 1160.5,1414.4 1153.6,1418.4 1146.1,1421.6 1138.1,1423.8 1129.7,1425.1 1121.0,1425.4 1112.0,1424.7 1102.8,1423.0 1093.5,1420.4 1084.2,1416.8 1075.0,1412.4 1066.0,1407.1 1057.3,1401.0 1048.9,1394.1 1040.9,1386.6 1033.4,1378.5 1026.5,1369.9 1020.3,1360.8 1014.8,1351.3 1010.0,1341.6 1006.0,1331.7 1002.9,1321.8 1000.6,1311.8 999.3,1302.0 998.8,1292.4 999.3,1283.1 1000.6,1274.2 1002.9,1265.7 1006.0,1257.9 1010.0,1250.6 1014.8,1244.1 1020.3,1238.3 1026.5,1233.4 1033.4,1229.3 1040.9,1226.1 1048.9,1223.9 1057.3,1222.7 1066.0,1222.4 1075.0,1223.1 1084.2,1224.7 1093.5,1227.4 1102.8,1230.9 1112.0,1235.4 1121.0,1240.6 1129.7,1246.7 1138.1,1253.6 1146.1,1261.1 1153.6,1269.2 1160.5,1277.9 1166.7,1287.0 1172.2,1296.4 1177.0,1306.1 1181.0,1316.0 1184.1,1326.0 1186.4,1335.9 1187.7,1345.7Z" stroke="none" fill="#FFA500" fill-opacity="1.0"/>
<path d="M1257.1,1379.3 1256.4,1394.2 1254.2,1408.5 1250.6,1422.0 1245.7,1434.7 1239.4,1446.3 1231.8,1456.8 1223.0,1466.1 1213.2,1474.0 1202.2,1480.5 1190.4,1485.6 1177.8,1489.2 1164.5,1491.2 1150.6,1491.6 1136.4,1490.5 1121.8,1487.9 1107.1,1483.6 1092.4,1478.0 1077.8,1470.8 1063.6,1462.3 1049.7,1452.5 1036.4,1441.6 1023.8,1429.5 1011.9,1416.5 1001.0,1402.6 991.2,1388.0 982.4,1372.8 974.8,1357.2 968.5,1341.4 963.6,1325.4 960.0,1309.4 957.8,1293.7 957.1,1278.3 957.8,1263.3 960.0,1249.0 963.6,1235.5 968.5,1222.8 974.8,1211.2 982.4,1200.7 991.2,1191.5 1001.0,1183.5 1011.9,1177.0 1023.8,1171.9 1036.4,1168.4 1049.7,1166.3 1063.6,1165.9 1077.8,1167.0 1092.4,1169.7 1107.1,1173.9 1121.8,1179.6 1136.4,1186.7 1150.6,1195.2 1164.5,1205.0 1177.8,1216.0 1190.4,1228.0 1202.2,1241.1 1213.2,1254.9 1223.0,1269.5 1231.8,1284.7 1239.4,1300.3 1245.7,1316.1 1250.6,1332.1 1254.2,1348.1 1256.4,1363.8Z M1198.7,1356.6 1198.3,1365.8 1196.9,1374.7 1194.7,1383.0 1191.6,1390.9 1187.7,1398.0 1182.9,1404.5 1177.5,1410.3 1171.3,1415.2 1164.5,1419.2 1157.1,1422.3 1149.2,1424.5 1140.9,1425.8 1132.3,1426.1 1123.4,1425.4 1114.3,1423.7 1105.1,1421.1 1095.9,1417.6 1086.8,1413.2 1077.9,1407.9 1069.3,1401.9 1061.0,1395.1 1053.1,1387.6 1045.7,1379.6 1038.9,1371.0 1032.7,1362.0 1027.2,1352.6 1022.5,1343.0 1018.6,1333.2 1015.5,1323.3 1013.3,1313.4 1011.9,1303.7 1011.5,1294.1 1011.9,1284.9 1013.3,1276.1 1015.5,1267.7 1018.6,1259.9 1022.5,1252.7 1027.2,1246.2 1032.7,1240.5 1038.9,1235.6 1045.7,1231.5 1053.1,1228.4 1061.0,1226.2 1069.3,1224.9 1077.9,1224.7 1086.8,1225.3 1095.9,1227.0 1105.1,1229.6 1114.3,1233.1 1123.4,1237.5 1132.3,1242.8 1140.9,1248.8 1149.2,1255.6 1157.1,1263.1 1164.5,1271.1 1171.3,1279.7 1177.5,1288.8 1182.9,1298.1 1187.7,1307.8 1191.6,1317.6 1194.7,1327.4 1196.9,1337.3 1198.3,1347.1Z" fill-rule="evenodd" stroke="none" fill="#A3A3C6" fill-opacity="0.85"/>
<path d="M1198.7,1356.6 1198.3,1365.8 1196.9,1374.7 1194.7,1383.0 1191.6,1390.9 1187.7,1398.0 1182.9,1404.5 1177.5,1410.3 1171.3,1415.2 1164.5,1419.2 1157.1,1422.3 1149.2,1424.5 1140.9,1425.8 1132.3,1426.1 1123.4,1425.4 1114.3,1423.7 1105.1,1421.1 1095.9,1417.6 1086.8,1413.2 1077.9,1407.9 1069.3,1401.9 1061.0,1395.1 1053.1,1387.6 1045.7,1379.6 1038.9,1371.0 1032.7,1362.0 1027.2,1352.6 1022.5,1343.0 1018.6,1333.2 1015.5,1323.3 1013.3,1313.4 1011.9,1303.7 1011.5,1294.1 1011.9,1284.9 1013.3,1276.1 1015.5,1267.7 1018.6,1259.9 1022.5,1252.7 1027.2,1246.2 1032.7,1240.5 1038.9,1235.6 1045.7,1231.5 1053.1,1228.4 1061.0,1226.2 1069.3,1224.9 1077.9,1224.7 1086.8,1225.3 1095.9,1227.0 1105.1,1229.6 1114.3,1233.1 1123.4,1237.5 1132.3,1242.8 1140.9,1248.8 1149.2,1255.6 1157.1,1263.1 1164.5,1271.1 1171.3,1279.7 1177.5,1288.8 1182.9,1298.1 1187.7,1307.8 1191.6,1317.6 1194.7,1327.4 1196.9,1337.3 1198.3,1347.1Z" stroke="none" fill="#191970" fill-opacity="0.85"/>
<path d="M1254.1,1377.6 1253.3,1392.9 1251.1,1407.6 1247.3,1421.5 1242.1,1434.4 1235.4,1446.3 1227.5,1457.0 1218.2,1466.5 1207.8,1474.6 1196.3,1481.3 1183.9,1486.5 1170.6,1490.2 1156.6,1492.3 1142.0,1492.7 1126.9,1491.6 1111.6,1488.8 1096.1,1484.5 1080.6,1478.7 1065.3,1471.4 1050.3,1462.7 1035.7,1452.7 1021.6,1441.4 1008.3,1429.1 995.9,1415.7 984.4,1401.5 974.0,1386.6 964.8,1371.0 956.8,1355.1 950.2,1338.8 944.9,1322.5 941.2,1306.1 938.9,1290.0 938.1,1274.2 938.9,1258.9 941.2,1244.2 944.9,1230.4 950.2,1217.4 956.8,1205.5 964.8,1194.8 974.0,1185.3 984.4,1177.2 995.9,1170.5 1008.3,1165.3 1021.6,1161.6 1035.7,1159.6 1050.3,1159.1 1065.3,1160.3 1080.6,1163.0 1096.1,1167.3 1111.6,1173.1 1126.9,1180.4 1142.0,1189.1 1156.6,1199.2 1170.6,1210.4 1183.9,1222.8 1196.3,1236.1 1207.8,1250.3 1218.2,1265.3 1227.5,1280.8 1235.4,1296.8 1242.1,1313.0 1247.3,1329.4 1251.1,1345.7 1253.3,1361.8Z M1189.7,1354.5 1189.2,1364.0 1187.8,1373.0 1185.5,1381.6 1182.3,1389.6 1178.2,1396.9 1173.3,1403.6 1167.6,1409.5 1161.2,1414.5 1154.1,1418.6 1146.5,1421.8 1138.3,1424.1 1129.7,1425.4 1120.7,1425.6 1111.4,1424.9 1102.0,1423.2 1092.4,1420.6 1082.9,1417.0 1073.5,1412.5 1064.2,1407.1 1055.2,1400.9 1046.6,1393.9 1038.4,1386.3 1030.7,1378.0 1023.7,1369.3 1017.3,1360.0 1011.6,1350.4 1006.7,1340.5 1002.6,1330.5 999.4,1320.4 997.1,1310.3 995.7,1300.3 995.2,1290.5 995.7,1281.1 997.1,1272.0 999.4,1263.5 1002.6,1255.5 1006.7,1248.1 1011.6,1241.5 1017.3,1235.6 1023.7,1230.6 1030.7,1226.4 1038.4,1223.2 1046.6,1221.0 1055.2,1219.7 1064.2,1219.4 1073.5,1220.1 1082.9,1221.8 1092.4,1224.5 1102.0,1228.1 1111.4,1232.6 1120.7,1238.0 1129.7,1244.2 1138.3,1251.1 1146.5,1258.7 1154.1,1267.0 1161.2,1275.8 1167.6,1285.0 1173.3,1294.6 1178.2,1304.5 1182.3,1314.5 1185.5,1324.7 1187.8,1334.8 1189.2,1344.7Z" fill-rule="evenodd" stroke="none" fill="#DFA1CE" fill-opacity="0.8"/>
<path d="M1189.7,1354.5 1189.2,1364.0 1187.8,1373.0 1185.5,1381.6 1182.3,1389.6 1178.2,1396.9 1173.3,1403.6 1167.6,1409.5 1161.2,1414.5 1154.1,1418.6 1146.5,1421.8 1138.3,1424.1 1129.7,1425.4 1120.7,1425.6 1111.4,1424.9 1102.0,1423.2 1092.4,1420.6 1082.9,1417.0 1073.5,1412.5 1064.2,1407.1 1055.2,1400.9 1046.6,1393.9 1038.4,1386.3 1030.7,1378.0 1023.7,1369.3 1017.3,1360.0 1011.6,1350.4 1006.7,1340.5 1002.6,1330.5 999.4,1320.4 997.1,1310.3 995.7,1300.3 995.2,1290.5 995.7,1281.1 997.1,1272.0 999.4,1263.5 1002.6,1255.5 1006.7,1248.1 1011.6,1241.5 1017.3,1235.6 1023.7,1230.6 1030.7,1226.4 1038.4,1223.2 1046.6,1221.0 1055.2,1219.7 1064.2,1219.4 1073.5,1220.1 1082.9,1221.8 1092.4,1224.5 1102.0,1228.1 1111.4,1232.6 1120.7,1238.0 1129.7,1244.2 1138.3,1251.1 1146.5,1258.7 1154.1,1267.0 1161.2,1275.8 1167.6,1285.0 1173.3,1294.6 1178.2,1304.5 1182.3,1314.5 1185.5,1324.7 1187.8,1334.8 1189.2,1344.7Z" stroke="none" fill="#BF4595" fill-opacity="0.8"/>
<path d="M1251.2,1378.2 1250.5,1393.2 1248.3,1407.6 1244.6,1421.3 1239.5,1434.0 1233.1,1445.7 1225.3,1456.3 1216.3,1465.6 1206.2,1473.6 1195.0,1480.2 1182.9,1485.3 1169.9,1488.9 1156.3,1490.9 1142.0,1491.4 1127.4,1490.3 1112.5,1487.6 1097.4,1483.4 1082.3,1477.6 1067.4,1470.4 1052.7,1461.9 1038.5,1452.0 1024.9,1440.9 1011.9,1428.8 999.8,1415.6 988.6,1401.6 978.5,1386.9 969.5,1371.7 961.7,1356.0 955.3,1340.0 950.2,1323.9 946.5,1307.8 944.3,1291.9 943.6,1276.4 944.3,1261.3 946.5,1246.9 950.2,1233.2 955.3,1220.5 961.7,1208.8 969.5,1198.2 978.5,1188.9 988.6,1180.9 999.8,1174.3 1011.9,1169.2 1024.9,1165.6 1038.5,1163.6 1052.7,1163.1 1067.4,1164.2 1082.3,1166.9 1097.4,1171.2 1112.5,1176.9 1127.4,1184.1 1142.0,1192.7 1156.3,1202.5 1169.9,1213.6 1182.9,1225.8 1195.0,1238.9 1206.2,1252.9 1216.3,1267.6 1225.3,1282.9 1233.1,1298.6 1239.5,1314.5 1244.6,1330.7 1248.3,1346.7 1250.5,1362.6Z" fill="none" stroke="#FFA500" stroke-opacity="0.5" stroke-width="3.8"/>
<path d="M1257.1,1379.3 1256.4,1394.2 1254.2,1408.5 1250.6,1422.0 1245.7,1434.7 1239.4,1446.3 1231.8,1456.8 1223.0,1466.1 1213.2,1474.0 1202.2,1480.5 1190.4,1485.6 1177.8,1489.2 1164.5,1491.2 1150.6,1491.6 1136.4,1490.5 1121.8,1487.9 1107.1,1483.6 1092.4,1478.0 1077.8,1470.8 1063.6,1462.3 1049.7,1452.5 1036.4,1441.6 1023.8,1429.5 1011.9,1416.5 1001.0,1402.6 991.2,1388.0 982.4,1372.8 974.8,1357.2 968.5,1341.4 963.6,1325.4 960.0,1309.4 957.8,1293.7 957.1,1278.3 957.8,1263.3 960.0,1249.0 963.6,1235.5 968.5,1222.8 974.8,1211.2 982.4,1200.7 991.2,1191.5 1001.0,1183.5 1011.9,1177.0 1023.8,1171.9 1036.4,1168.4 1049.7,1166.3 1063.6,1165.9 1077.8,1167.0 1092.4,1169.7 1107.1,1173.9 1121.8,1179.6 1136.4,1186.7 1150.6,1195.2 1164.5,1205.0 1177.8,1216.0 1190.4,1228.0 1202.2,1241.1 1213.2,1254.9 1223.0,1269.5 1231.8,1284.7 1239.4,1300.3 1245.7,1316.1 1250.6,1332.1 1254.2,1348.1 1256.4,1363.8Z" fill="none" stroke="#191970" stroke-opacity="0.45" stroke-width="3.8"/>
<path d="M1254.1,1377.6 1253.3,1392.9 1251.1,1407.6 1247.3,1421.5 1242.1,1434.4 1235.4,1446.3 1227.5,1457.0 1218.2,1466.5 1207.8,1474.6 1196.3,1481.3 1183.9,1486.5 1170.6,1490.2 1156.6,1492.3 1142.0,1492.7 1126.9,1491.6 1111.6,1488.8 1096.1,1484.5 1080.6,1478.7 1065.3,1471.4 1050.3,1462.7 1035.7,1452.7 1021.6,1441.4 1008.3,1429.1 995.9,1415.7 984.4,1401.5 974.0,1386.6 964.8,1371.0 956.8,1355.1 950.2,1338.8 944.9,1322.5 941.2,1306.1 938.9,1290.0 938.1,1274.2 938.9,1258.9 941.2,1244.2 944.9,1230.4 950.2,1217.4 956.8,1205.5 964.8,1194.8 974.0,1185.3 984.4,1177.2 995.9,1170.5 1008.3,1165.3 1021.6,1161.6 1035.7,1159.6 1050.3,1159.1 1065.3,1160.3 1080.6,1163.0 1096.1,1167.3 1111.6,1173.1 1126.9,1180.4 1142.0,1189.1 1156.6,1199.2 1170.6,1210.4 1183.9,1222.8 1196.3,1236.1 1207.8,1250.3 1218.2,1265.3 1227.5,1280.8 1235.4,1296.8 1242.1,1313.0 1247.3,1329.4 1251.1,1345.7 1253.3,1361.8Z" fill="none" stroke="#C71585" stroke-opacity="0.4" stroke-width="3.8"/>
</g>
<g clip-path="url(#c30)">
<path d="M760.1,1910.4 759.3,1924.1 757.0,1936.9 753.2,1948.9 747.9,1959.9 741.2,1969.8 733.1,1978.5 723.7,1985.9 713.2,1991.9 701.6,1996.5 689.0,1999.6 675.5,2001.2 661.3,2001.4 646.5,2000.0 631.3,1997.1 615.7,1992.8 600.1,1987.0 584.4,1979.8 568.8,1971.4 553.6,1961.7 538.8,1950.9 524.6,1939.0 511.2,1926.3 498.5,1912.8 486.9,1898.6 476.4,1883.9 467.0,1868.8 458.9,1853.4 452.2,1838.0 446.9,1822.7 443.1,1807.5 440.8,1792.7 440.0,1778.4 440.8,1764.8 443.1,1751.9 446.9,1739.9 452.2,1728.9 458.9,1719.0 467.0,1710.4 476.4,1703.0 486.9,1697.0 498.5,1692.4 511.2,1689.2 524.6,1687.6 538.8,1687.5 553.6,1688.8 568.8,1691.7 584.4,1696.1 600.1,1701.9 615.7,1709.0 631.3,1717.5 646.5,1727.1 661.3,1738.0 675.5,1749.8 689.0,1762.5 701.6,1776.1 713.2,1790.3 723.7,1805.0 733.1,1820.1 741.2,1835.4 747.9,1850.8 753.2,1866.2 757.0,1881.3 759.3,1896.1Z M696.2,1882.1 695.7,1890.4 694.3,1898.1 692.0,1905.3 688.7,1911.9 684.6,1917.9 679.7,1923.1 673.9,1927.5 667.5,1931.2 660.3,1933.9 652.6,1935.8 644.3,1936.8 635.6,1936.9 626.6,1936.1 617.3,1934.3 607.7,1931.7 598.1,1928.2 588.5,1923.9 579.0,1918.8 569.7,1913.0 560.6,1906.5 551.9,1899.4 543.6,1891.7 535.9,1883.6 528.8,1875.0 522.3,1866.2 516.6,1857.1 511.6,1847.9 507.5,1838.6 504.3,1829.3 501.9,1820.2 500.5,1811.3 500.1,1802.7 500.5,1794.5 501.9,1786.7 504.3,1779.5 507.5,1772.9 511.6,1767.0 516.6,1761.7 522.3,1757.3 528.8,1753.7 535.9,1750.9 543.6,1749.0 551.9,1748.0 560.6,1748.0 569.7,1748.8 579.0,1750.5 588.5,1753.2 598.1,1756.6 607.7,1760.9 617.3,1766.0 626.6,1771.8 635.6,1778.4 644.3,1785.5 652.6,1793.1 660.3,1801.3 667.5,1809.8 673.9,1818.7 679.7,1827.8 684.6,1837.0 688.7,1846.3 692.0,1855.5 694.3,1864.6 695.7,1873.5Z" fill-rule="evenodd" stroke="none" fill="#FFDB99" fill-opacity="1.0"/>
<path d="M696.2,1882.1 695.7,1890.4 694.3,1898.1 692.0,1905.3 688.7,1911.9 684.6,1917.9 679.7,1923.1 673.9,1927.5 667.5,1931.2 660.3,1933.9 652.6,1935.8 644.3,1936.8 635.6,1936.9 626.6,1936.1 617.3,1934.3 607.7,1931.7 598.1,1928.2 588.5,1923.9 579.0,1918.8 569.7,1913.0 560.6,1906.5 551.9,1899.4 543.6,1891.7 535.9,1883.6 528.8,1875.0 522.3,1866.2 516.6,1857.1 511.6,1847.9 507.5,1838.6 504.3,1829.3 501.9,1820.2 500.5,1811.3 500.1,1802.7 500.5,1794.5 501.9,1786.7 504.3,1779.5 507.5,1772.9 511.6,1767.0 516.6,1761.7 522.3,1757.3 528.8,1753.7 535.9,1750.9 543.6,1749.0 551.9,1748.0 560.6,1748.0 569.7,1748.8 579.0,1750.5 588.5,1753.2 598.1,1756.6 607.7,1760.9 617.3,1766.0 626.6,1771.8 635.6,1778.4 644.3,1785.5 652.6,1793.1 660.3,1801.3 667.5,1809.8 673.9,1818.7 679.7,1827.8 684.6,1837.0 688.7,1846.3 692.0,1855.5 694.3,1864.6 695.7,1873.5Z" stroke="none" fill="#FFA500" fill-opacity="1.0"/>
<path d="M746.3,1912.9 745.5,1926.6 743.3,1939.5 739.6,1951.6 734.5,1962.6 728.0,1972.6 720.2,1981.3 711.1,1988.7 700.9,1994.8 689.7,1999.4 677.5,2002.5 664.5,2004.2 650.7,2004.3 636.4,2002.9 621.7,2000.0 606.7,1995.6 591.5,1989.8 576.3,1982.6 561.3,1974.1 546.6,1964.4 532.3,1953.5 518.6,1941.7 505.5,1928.8 493.3,1915.2 482.1,1901.0 471.9,1886.2 462.8,1871.0 455.0,1855.6 448.5,1840.1 443.4,1824.7 439.7,1809.5 437.5,1794.6 436.8,1780.2 437.5,1766.5 439.7,1753.5 443.4,1741.5 448.5,1730.4 455.0,1720.5 462.8,1711.8 471.9,1704.4 482.1,1698.3 493.3,1693.7 505.5,1690.5 518.6,1688.9 532.3,1688.8 546.6,1690.2 561.3,1693.1 576.3,1697.4 591.5,1703.2 606.7,1710.4 621.7,1718.9 636.4,1728.7 650.7,1739.5 664.5,1751.4 677.5,1764.2 689.7,1777.8 700.9,1792.1 711.1,1806.9 720.2,1822.1 728.0,1837.5 734.5,1853.0 739.6,1868.4 743.3,1883.6 745.5,1898.5Z M680.7,1884.5 680.2,1892.7 678.9,1900.5 676.6,1907.8 673.6,1914.4 669.6,1920.4 664.9,1925.6 659.5,1930.1 653.3,1933.7 646.5,1936.5 639.2,1938.4 631.3,1939.4 623.1,1939.5 614.4,1938.7 605.6,1936.9 596.5,1934.3 587.4,1930.8 578.2,1926.5 569.2,1921.3 560.3,1915.5 551.7,1908.9 543.4,1901.8 535.5,1894.1 528.2,1885.9 521.4,1877.3 515.2,1868.4 509.8,1859.3 505.1,1850.0 501.2,1840.7 498.1,1831.4 495.9,1822.2 494.5,1813.3 494.1,1804.6 494.5,1796.4 495.9,1788.6 498.1,1781.3 501.2,1774.7 505.1,1768.7 509.8,1763.4 515.2,1759.0 521.4,1755.3 528.2,1752.6 535.5,1750.7 543.4,1749.7 551.7,1749.6 560.3,1750.4 569.2,1752.2 578.2,1754.8 587.4,1758.3 596.5,1762.6 605.6,1767.7 614.4,1773.6 623.1,1780.1 631.3,1787.3 639.2,1795.0 646.5,1803.2 653.3,1811.8 659.5,1820.7 664.9,1829.8 669.6,1839.1 673.6,1848.4 676.6,1857.7 678.9,1866.9 680.2,1875.8Z" fill-rule="evenodd" stroke="none" fill="#A3A3C6" fill-opacity="0.85"/>
<path d="M680.7,1884.5 680.2,1892.7 678.9,1900.5 676.6,1907.8 673.6,1914.4 669.6,1920.4 664.9,1925.6 659.5,1930.1 653.3,1933.7 646.5,1936.5 639.2,1938.4 631.3,1939.4 623.1,1939.5 614.4,1938.7 605.6,1936.9 596.5,1934.3 587.4,1930.8 578.2,1926.5 569.2,1921.3 560.3,1915.5 551.7,1908.9 543.4,1901.8 535.5,1894.1 528.2,1885.9 521.4,1877.3 515.2,1868.4 509.8,1859.3 505.1,1850.0 501.2,1840.7 498.1,1831.4 495.9,1822.2 494.5,1813.3 494.1,1804.6 494.5,1796.4 495.9,1788.6 498.1,1781.3 501.2,1774.7 505.1,1768.7 509.8,1763.4 515.2,1759.0 521.4,1755.3 528.2,1752.6 535.5,1750.7 543.4,1749.7 551.7,1749.6 560.3,1750.4 569.2,1752.2 578.2,1754.8 587.4,1758.3 596.5,1762.6 605.6,1767.7 614.4,1773.6 623.1,1780.1 631.3,1787.3 639.2,1795.0 646.5,1803.2 653.3,1811.8 659.5,1820.7 664.9,1829.8 669.6,1839.1 673.6,1848.4 676.6,1857.7 678.9,1866.9 680.2,1875.8Z" stroke="none" fill="#191970" fill-opacity="0.85"/>
<path d="M759.4,1917.1 758.6,1930.8 756.3,1943.8 752.5,1955.9 747.2,1967.0 740.5,1977.0 732.4,1985.7 723.1,1993.2 712.6,1999.2 701.0,2003.9 688.4,2007.0 674.9,2008.7 660.7,2008.8 646.0,2007.4 630.8,2004.5 615.3,2000.1 599.6,1994.3 583.9,1987.1 568.4,1978.6 553.2,1968.8 538.5,1957.9 524.3,1946.0 510.8,1933.1 498.2,1919.4 486.6,1905.1 476.1,1890.3 466.8,1875.1 458.7,1859.6 452.0,1844.1 446.7,1828.6 442.9,1813.3 440.6,1798.4 439.8,1784.0 440.6,1770.2 442.9,1757.2 446.7,1745.1 452.0,1734.0 458.7,1724.1 466.8,1715.3 476.1,1707.9 486.6,1701.8 498.2,1697.2 510.8,1694.0 524.3,1692.3 538.5,1692.2 553.2,1693.6 568.4,1696.5 583.9,1700.9 599.6,1706.7 615.3,1713.9 630.8,1722.5 646.0,1732.2 660.7,1743.1 674.9,1755.1 688.4,1767.9 701.0,1781.6 712.6,1795.9 723.1,1810.7 732.4,1826.0 740.5,1841.4 747.2,1857.0 752.5,1872.5 756.3,1887.7 758.6,1902.6Z M695.6,1888.6 695.1,1896.9 693.7,1904.7 691.4,1912.0 688.1,1918.6 684.0,1924.6 679.1,1929.9 673.4,1934.4 666.9,1938.0 659.8,1940.8 652.1,1942.7 643.8,1943.7 635.1,1943.8 626.1,1943.0 616.8,1941.2 607.3,1938.6 597.7,1935.1 588.1,1930.7 578.6,1925.6 569.2,1919.7 560.2,1913.1 551.5,1906.0 543.3,1898.2 535.6,1890.0 528.4,1881.4 522.0,1872.5 516.3,1863.3 511.3,1854.0 507.2,1844.6 504.0,1835.3 501.6,1826.1 500.2,1817.2 499.8,1808.5 500.2,1800.2 501.6,1792.4 504.0,1785.1 507.2,1778.4 511.3,1772.4 516.3,1767.2 522.0,1762.7 528.4,1759.0 535.6,1756.2 543.3,1754.3 551.5,1753.3 560.2,1753.3 569.2,1754.1 578.6,1755.8 588.1,1758.5 597.7,1762.0 607.3,1766.3 616.8,1771.5 626.1,1777.3 635.1,1783.9 643.8,1791.1 652.1,1798.8 659.8,1807.0 666.9,1815.7 673.4,1824.6 679.1,1833.7 684.0,1843.1 688.1,1852.4 691.4,1861.7 693.7,1870.9 695.1,1879.9Z" fill-rule="evenodd" stroke="none" fill="#DFA1CE" fill-opacity="0.8"/>
<path d="M695.6,1888.6 695.1,1896.9 693.7,1904.7 691.4,1912.0 688.1,1918.6 684.0,1924.6 679.1,1929.9 673.4,1934.4 666.9,1938.0 659.8,1940.8 652.1,1942.7 643.8,1943.7 635.1,1943.8 626.1,1943.0 616.8,1941.2 607.3,1938.6 597.7,1935.1 588.1,1930.7 578.6,1925.6 569.2,1919.7 560.2,1913.1 551.5,1906.0 543.3,1898.2 535.6,1890.0 528.4,1881.4 522.0,1872.5 516.3,1863.3 511.3,1854.0 507.2,1844.6 504.0,1835.3 501.6,1826.1 500.2,1817.2 499.8,1808.5 500.2,1800.2 501.6,1792.4 504.0,1785.1 507.2,1778.4 511.3,1772.4 516.3,1767.2 522.0,1762.7 528.4,1759.0 535.6,1756.2 543.3,1754.3 551.5,1753.3 560.2,1753.3 569.2,1754.1 578.6,1755.8 588.1,1758.5 597.7,1762.0 607.3,1766.3 616.8,1771.5 626.1,1777.3 635.1,1783.9 643.8,1791.1 652.1,1798.8 659.8,1807.0 666.9,1815.7 673.4,1824.6 679.1,1833.7 684.0,1843.1 688.1,1852.4 691.4,1861.7 693.7,1870.9 695.1,1879.9Z" stroke="none" fill="#BF4595" fill-opacity="0.8"/>
<path d="M760.1,1910.4 759.3,1924.1 757.0,1936.9 753.2,1948.9 747.9,1959.9 741.2,1969.8 733.1,1978.5 723.7,1985.9 713.2,1991.9 701.6,1996.5 689.0,1999.6 675.5,2001.2 661.3,2001.4 646.5,2000.0 631.3,1997.1 615.7,1992.8 600.1,1987.0 584.4,1979.8 568.8,1971.4 553.6,1961.7 538.8,1950.9 524.6,1939.0 511.2,1926.3 498.5,1912.8 486.9,1898.6 476.4,1883.9 467.0,1868.8 458.9,1853.4 452.2,1838.0 446.9,1822.7 443.1,1807.5 440.8,1792.7 440.0,1778.4 440.8,1764.8 443.1,1751.9 446.9,1739.9 452.2,1728.9 458.9,1719.0 467.0,1710.4 476.4,1703.0 486.9,1697.0 498.5,1692.4 511.2,1689.2 524.6,1687.6 538.8,1687.5 553.6,1688.8 568.8,1691.7 584.4,1696.1 600.1,1701.9 615.7,1709.0 631.3,1717.5 646.5,1727.1 661.3,1738.0 675.5,1749.8 689.0,1762.5 701.6,1776.1 713.2,1790.3 723.7,1805.0 733.1,1820.1 741.2,1835.4 747.9,1850.8 753.2,1866.2 757.0,1881.3 759.3,1896.1Z" fill="none" stroke="#FFA500" stroke-opacity="0.5" stroke-width="3.8"/>
<path d="M746.3,1912.9 745.5,1926.6 743.3,1939.5 739.6,1951.6 734.5,1962.6 728.0,1972.6 720.2,1981.3 711.1,1988.7 700.9,1994.8 689.7,1999.4 677.5,2002.5 664.5,2004.2 650.7,2004.3 636.4,2002.9 621.7,2000.0 606.7,1995.6 591.5,1989.8 576.3,1982.6 561.3,1974.1 546.6,1964.4 532.3,1953.5 518.6,1941.7 505.5,1928.8 493.3,1915.2 482.1,1901.0 471.9,1886.2 462.8,1871.0 455.0,1855.6 448.5,1840.1 443.4,1824.7 439.7,1809.5 437.5,1794.6 436.8,1780.2 437.5,1766.5 439.7,1753.5 443.4,1741.5 448.5,1730.4 455.0,1720.5 462.8,1711.8 471.9,1704.4 482.1,1698.3 493.3,1693.7 505.5,1690.5 518.6,1688.9 532.3,1688.8 546.6,1690.2 561.3,1693.1 576.3,1697.4 591.5,1703.2 606.7,1710.4 621.7,1718.9 636.4,1728.7 650.7,1739.5 664.5,1751.4 677.5,1764.2 689.7,1777.8 700.9,1792.1 711.1,1806.9 720.2,1822.1 728.0,1837.5 734.5,1853.0 739.6,1868.4 743.3,1883.6 745.5,1898.5Z" fill="none" stroke="#191970" stroke-opacity="0.45" stroke-width="3.8"/>
<path d="M759.4,1917.1 758.6,1930.8 756.3,1943.8 752.5,1955.9 747.2,1967.0 740.5,1977.0 732.4,1985.7 723.1,1993.2 712.6,1999.2 701.0,2003.9 688.4,2007.0 674.9,2008.7 660.7,2008.8 646.0,2007.4 630.8,2004.5 615.3,2000.1 599.6,1994.3 583.9,1987.1 568.4,1978.6 553.2,1968.8 538.5,1957.9 524.3,1946.0 510.8,1933.1 498.2,1919.4 486.6,1905.1 476.1,1890.3 466.8,1875.1 458.7,1859.6 452.0,1844.1 446.7,1828.6 442.9,1813.3 440.6,1798.4 439.8,1784.0 440.6,1770.2 442.9,1757.2 446.7,1745.1 452.0,1734.0 458.7,1724.1 466.8,1715.3 476.1,1707.9 486.6,1701.8 498.2,1697.2 510.8,1694.0 524.3,1692.3 538.5,1692.2 553.2,1693.6 568.4,1696.5 583.9,1700.9 599.6,1706.7 615.3,1713.9 630.8,1722.5 646.0,1732.2 660.7,1743.1 674.9,1755.1 688.4,1767.9 701.0,1781.6 712.6,1795.9 723.1,1810.7 732.4,1826.0 740.5,1841.4 747.2,1857.0 752.5,1872.5 756.3,1887.7 758.6,1902.6Z" fill="none" stroke="#C71585" stroke-opacity="0.4" stroke-width="3.8"/>
</g>
<g clip-path="url(#c31)">
<path d="M1251.8,1776.3 1251.1,1790.3 1248.8,1804.9 1245.1,1819.9 1240.0,1835.1 1233.4,1850.4 1225.6,1865.7 1216.5,1880.7 1206.2,1895.4 1194.9,1909.7 1182.6,1923.3 1169.5,1936.1 1155.7,1948.1 1141.3,1959.0 1126.4,1968.9 1111.3,1977.6 1096.0,1985.0 1080.8,1991.0 1065.7,1995.7 1050.8,1998.9 1036.4,2000.6 1022.6,2000.8 1009.5,1999.5 997.2,1996.7 985.9,1992.5 975.6,1986.8 966.5,1979.8 958.7,1971.5 952.1,1961.9 947.0,1951.3 943.3,1939.6 941.0,1927.0 940.3,1913.6 941.0,1899.5 943.3,1884.9 947.0,1869.9 952.1,1854.7 958.7,1839.4 966.5,1824.2 975.6,1809.1 985.9,1794.4 997.2,1780.2 1009.5,1766.6 1022.6,1753.7 1036.4,1741.8 1050.8,1730.8 1065.7,1720.9 1080.8,1712.2 1096.0,1704.8 1111.3,1698.8 1126.4,1694.1 1141.3,1690.9 1155.7,1689.2 1169.5,1689.0 1182.6,1690.3 1194.9,1693.1 1206.2,1697.3 1216.5,1703.0 1225.6,1710.0 1233.4,1718.4 1240.0,1727.9 1245.1,1738.6 1248.8,1750.3 1251.1,1762.9Z M1188.1,1801.2 1187.7,1809.7 1186.3,1818.5 1184.0,1827.6 1180.9,1836.8 1176.9,1846.0 1172.1,1855.2 1166.5,1864.3 1160.2,1873.2 1153.3,1881.8 1145.8,1890.0 1137.7,1897.7 1129.3,1905.0 1120.5,1911.6 1111.4,1917.6 1102.2,1922.8 1092.8,1927.3 1083.5,1930.9 1074.2,1933.7 1065.2,1935.7 1056.4,1936.7 1047.9,1936.8 1039.9,1936.0 1032.4,1934.4 1025.4,1931.8 1019.2,1928.4 1013.6,1924.1 1008.8,1919.1 1004.8,1913.3 1001.6,1906.9 999.4,1899.8 998.0,1892.2 997.5,1884.1 998.0,1875.6 999.4,1866.8 1001.6,1857.8 1004.8,1848.6 1008.8,1839.4 1013.6,1830.1 1019.2,1821.1 1025.4,1812.2 1032.4,1803.6 1039.9,1795.4 1047.9,1787.6 1056.4,1780.4 1065.2,1773.8 1074.2,1767.8 1083.5,1762.6 1092.8,1758.1 1102.2,1754.4 1111.4,1751.6 1120.5,1749.7 1129.3,1748.7 1137.7,1748.5 1145.8,1749.3 1153.3,1751.0 1160.2,1753.6 1166.5,1757.0 1172.1,1761.2 1176.9,1766.2 1180.9,1772.0 1184.0,1778.5 1186.3,1785.5 1187.7,1793.1Z" fill-rule="evenodd" stroke="none" fill="#FFDB99" fill-opacity="1.0"/>
<path d="M1188.1,1801.2 1187.7,1809.7 1186.3,1818.5 1184.0,1827.6 1180.9,1836.8 1176.9,1846.0 1172.1,1855.2 1166.5,1864.3 1160.2,1873.2 1153.3,1881.8 1145.8,1890.0 1137.7,1897.7 1129.3,1905.0 1120.5,1911.6 1111.4,1917.6 1102.2,1922.8 1092.8,1927.3 1083.5,1930.9 1074.2,1933.7 1065.2,1935.7 1056.4,1936.7 1047.9,1936.8 1039.9,1936.0 1032.4,1934.4 1025.4,1931.8 1019.2,1928.4 1013.6,1924.1 1008.8,1919.1 1004.8,1913.3 1001.6,1906.9 999.4,1899.8 998.0,1892.2 997.5,1884.1 998.0,1875.6 999.4,1866.8 1001.6,1857.8 1004.8,1848.6 1008.8,1839.4 1013.6,1830.1 1019.2,1821.1 1025.4,1812.2 1032.4,1803.6 1039.9,1795.4 1047.9,1787.6 1056.4,1780.4 1065.2,1773.8 1074.2,1767.8 1083.5,1762.6 1092.8,1758.1 1102.2,1754.4 1111.4,1751.6 1120.5,1749.7 1129.3,1748.7 1137.7,1748.5 1145.8,1749.3 1153.3,1751.0 1160.2,1753.6 1166.5,1757.0 1172.1,1761.2 1176.9,1766.2 1180.9,1772.0 1184.0,1778.5 1186.3,1785.5 1187.7,1793.1Z" stroke="none" fill="#FFA500" fill-opacity="1.0"/>
<path d="M1257.7,1778.0 1257.0,1792.2 1254.8,1806.8 1251.1,1821.9 1246.1,1837.2 1239.7,1852.6 1232.1,1867.9 1223.2,1883.0 1213.2,1897.8 1202.1,1912.1 1190.2,1925.8 1177.4,1938.7 1163.9,1950.7 1149.8,1961.8 1135.4,1971.7 1120.6,1980.4 1105.7,1987.8 1090.9,1993.9 1076.1,1998.6 1061.6,2001.8 1047.6,2003.5 1034.1,2003.7 1021.3,2002.4 1009.4,1999.6 998.3,1995.4 988.3,1989.7 979.4,1982.6 971.7,1974.3 965.4,1964.7 960.3,1953.9 956.7,1942.2 954.5,1929.5 953.8,1916.0 954.5,1901.9 956.7,1887.2 960.3,1872.2 965.4,1856.9 971.7,1841.5 979.4,1826.2 988.3,1811.0 998.3,1796.3 1009.4,1782.0 1021.3,1768.3 1034.1,1755.4 1047.6,1743.4 1061.6,1732.3 1076.1,1722.4 1090.9,1713.7 1105.7,1706.2 1120.6,1700.2 1135.4,1695.5 1149.8,1692.3 1163.9,1690.6 1177.4,1690.3 1190.2,1691.6 1202.1,1694.4 1213.2,1698.7 1223.2,1704.4 1232.1,1711.4 1239.7,1719.8 1246.1,1729.4 1251.1,1740.1 1254.8,1751.9 1257.0,1764.6Z M1198.6,1803.1 1198.2,1811.7 1196.8,1820.5 1194.6,1829.6 1191.5,1838.8 1187.5,1848.1 1182.8,1857.4 1177.3,1866.5 1171.0,1875.5 1164.2,1884.1 1156.8,1892.3 1148.8,1900.1 1140.5,1907.4 1131.8,1914.1 1122.8,1920.1 1113.7,1925.3 1104.4,1929.8 1095.2,1933.5 1086.0,1936.3 1077.1,1938.3 1068.4,1939.3 1060.0,1939.4 1052.1,1938.6 1044.6,1937.0 1037.8,1934.4 1031.6,1930.9 1026.1,1926.7 1021.3,1921.6 1017.4,1915.8 1014.2,1909.3 1012.0,1902.2 1010.6,1894.6 1010.2,1886.5 1010.6,1877.9 1012.0,1869.1 1014.2,1860.0 1017.4,1850.7 1021.3,1841.5 1026.1,1832.2 1031.6,1823.1 1037.8,1814.1 1044.6,1805.5 1052.1,1797.2 1060.0,1789.4 1068.4,1782.2 1077.1,1775.5 1086.0,1769.5 1095.2,1764.3 1104.4,1759.8 1113.7,1756.1 1122.8,1753.3 1131.8,1751.3 1140.5,1750.3 1148.8,1750.2 1156.8,1750.9 1164.2,1752.6 1171.0,1755.2 1177.3,1758.6 1182.8,1762.9 1187.5,1768.0 1191.5,1773.8 1194.6,1780.2 1196.8,1787.3 1198.2,1795.0Z" fill-rule="evenodd" stroke="none" fill="#A3A3C6" fill-opacity="0.85"/>
<path d="M1198.6,1803.1 1198.2,1811.7 1196.8,1820.5 1194.6,1829.6 1191.5,1838.8 1187.5,1848.1 1182.8,1857.4 1177.3,1866.5 1171.0,1875.5 1164.2,1884.1 1156.8,1892.3 1148.8,1900.1 1140.5,1907.4 1131.8,1914.1 1122.8,1920.1 1113.7,1925.3 1104.4,1929.8 1095.2,1933.5 1086.0,1936.3 1077.1,1938.3 1068.4,1939.3 1060.0,1939.4 1052.1,1938.6 1044.6,1937.0 1037.8,1934.4 1031.6,1930.9 1026.1,1926.7 1021.3,1921.6 1017.4,1915.8 1014.2,1909.3 1012.0,1902.2 1010.6,1894.6 1010.2,1886.5 1010.6,1877.9 1012.0,1869.1 1014.2,1860.0 1017.4,1850.7 1021.3,1841.5 1026.1,1832.2 1031.6,1823.1 1037.8,1814.1 1044.6,1805.5 1052.1,1797.2 1060.0,1789.4 1068.4,1782.2 1077.1,1775.5 1086.0,1769.5 1095.2,1764.3 1104.4,1759.8 1113.7,1756.1 1122.8,1753.3 1131.8,1751.3 1140.5,1750.3 1148.8,1750.2 1156.8,1750.9 1164.2,1752.6 1171.0,1755.2 1177.3,1758.6 1182.8,1762.9 1187.5,1768.0 1191.5,1773.8 1194.6,1780.2 1196.8,1787.3 1198.2,1795.0Z" stroke="none" fill="#191970" fill-opacity="0.85"/>
<path d="M1254.7,1781.8 1253.9,1796.0 1251.6,1810.7 1247.8,1825.8 1242.5,1841.1 1235.8,1856.6 1227.7,1872.0 1218.4,1887.1 1207.9,1902.0 1196.2,1916.3 1183.6,1930.0 1170.2,1943.0 1156.0,1955.1 1141.2,1966.1 1126.0,1976.1 1110.4,1984.8 1094.8,1992.3 1079.1,1998.4 1063.6,2003.1 1048.3,2006.3 1033.6,2008.0 1019.4,2008.3 1005.9,2007.0 993.3,2004.2 981.7,1999.9 971.1,1994.2 961.8,1987.1 953.7,1978.7 947.0,1969.0 941.7,1958.3 937.9,1946.5 935.6,1933.8 934.8,1920.2 935.6,1906.1 937.9,1891.4 941.7,1876.3 947.0,1860.9 953.7,1845.5 961.8,1830.1 971.1,1814.9 981.7,1800.1 993.3,1785.7 1005.9,1772.0 1019.4,1759.0 1033.6,1747.0 1048.3,1735.9 1063.6,1726.0 1079.1,1717.2 1094.8,1709.7 1110.4,1703.6 1126.0,1698.9 1141.2,1695.7 1156.0,1694.0 1170.2,1693.8 1183.6,1695.1 1196.2,1697.9 1207.9,1702.2 1218.4,1707.9 1227.7,1715.0 1235.8,1723.4 1242.5,1733.0 1247.8,1743.8 1251.6,1755.6 1253.9,1768.3Z M1189.6,1807.0 1189.2,1815.5 1187.7,1824.4 1185.4,1833.5 1182.2,1842.8 1178.1,1852.1 1173.1,1861.4 1167.4,1870.6 1161.0,1879.5 1153.8,1888.2 1146.1,1896.5 1137.9,1904.3 1129.2,1911.6 1120.2,1918.3 1110.9,1924.3 1101.4,1929.6 1091.8,1934.1 1082.2,1937.8 1072.7,1940.6 1063.4,1942.6 1054.3,1943.6 1045.6,1943.7 1037.4,1942.9 1029.7,1941.2 1022.6,1938.7 1016.1,1935.2 1010.4,1930.9 1005.5,1925.9 1001.4,1920.0 998.1,1913.5 995.8,1906.4 994.4,1898.7 993.9,1890.6 994.4,1882.0 995.8,1873.1 998.1,1864.0 1001.4,1854.7 1005.5,1845.4 1010.4,1836.1 1016.1,1827.0 1022.6,1818.0 1029.7,1809.3 1037.4,1801.1 1045.6,1793.2 1054.3,1785.9 1063.4,1779.3 1072.7,1773.3 1082.2,1768.0 1091.8,1763.5 1101.4,1759.8 1110.9,1756.9 1120.2,1755.0 1129.2,1754.0 1137.9,1753.8 1146.1,1754.6 1153.8,1756.3 1161.0,1758.9 1167.4,1762.3 1173.1,1766.6 1178.1,1771.7 1182.2,1777.5 1185.4,1784.0 1187.7,1791.1 1189.2,1798.8Z" fill-rule="evenodd" stroke="none" fill="#DFA1CE" fill-opacity="0.8"/>
<path d="M1189.6,1807.0 1189.2,1815.5 1187.7,1824.4 1185.4,1833.5 1182.2,1842.8 1178.1,1852.1 1173.1,1861.4 1167.4,1870.6 1161.0,1879.5 1153.8,1888.2 1146.1,1896.5 1137.9,1904.3 1129.2,1911.6 1120.2,1918.3 1110.9,1924.3 1101.4,1929.6 1091.8,1934.1 1082.2,1937.8 1072.7,1940.6 1063.4,1942.6 1054.3,1943.6 1045.6,1943.7 1037.4,1942.9 1029.7,1941.2 1022.6,1938.7 1016.1,1935.2 1010.4,1930.9 1005.5,1925.9 1001.4,1920.0 998.1,1913.5 995.8,1906.4 994.4,1898.7 993.9,1890.6 994.4,1882.0 995.8,1873.1 998.1,1864.0 1001.4,1854.7 1005.5,1845.4 1010.4,1836.1 1016.1,1827.0 1022.6,1818.0 1029.7,1809.3 1037.4,1801.1 1045.6,1793.2 1054.3,1785.9 1063.4,1779.3 1072.7,1773.3 1082.2,1768.0 1091.8,1763.5 1101.4,1759.8 1110.9,1756.9 1120.2,1755.0 1129.2,1754.0 1137.9,1753.8 1146.1,1754.6 1153.8,1756.3 1161.0,1758.9 1167.4,1762.3 1173.1,1766.6 1178.1,1771.7 1182.2,1777.5 1185.4,1784.0 1187.7,1791.1 1189.2,1798.8Z" stroke="none" fill="#BF4595" fill-opacity="0.8"/>
<path d="M1251.8,1776.3 1251.1,1790.3 1248.8,1804.9 1245.1,1819.9 1240.0,1835.1 1233.4,1850.4 1225.6,1865.7 1216.5,1880.7 1206.2,1895.4 1194.9,1909.7 1182.6,1923.3 1169.5,1936.1 1155.7,1948.1 1141.3,1959.0 1126.4,1968.9 1111.3,1977.6 1096.0,1985.0 1080.8,1991.0 1065.7,1995.7 1050.8,1998.9 1036.4,2000.6 1022.6,2000.8 1009.5,1999.5 997.2,1996.7 985.9,1992.5 975.6,1986.8 966.5,1979.8 958.7,1971.5 952.1,1961.9 947.0,1951.3 943.3,1939.6 941.0,1927.0 940.3,1913.6 941.0,1899.5 943.3,1884.9 947.0,1869.9 952.1,1854.7 958.7,1839.4 966.5,1824.2 975.6,1809.1 985.9,1794.4 997.2,1780.2 1009.5,1766.6 1022.6,1753.7 1036.4,1741.8 1050.8,1730.8 1065.7,1720.9 1080.8,1712.2 1096.0,1704.8 1111.3,1698.8 1126.4,1694.1 1141.3,1690.9 1155.7,1689.2 1169.5,1689.0 1182.6,1690.3 1194.9,1693.1 1206.2,1697.3 1216.5,1703.0 1225.6,1710.0 1233.4,1718.4 1240.0,1727.9 1245.1,1738.6 1248.8,1750.3 1251.1,1762.9Z" fill="none" stroke="#FFA500" stroke-opacity="0.5" stroke-width="3.8"/>
<path d="M1257.7,1778.0 1257.0,1792.2 1254.8,1806.8 1251.1,1821.9 1246.1,1837.2 1239.7,1852.6 1232.1,1867.9 1223.2,1883.0 1213.2,1897.8 1202.1,1912.1 1190.2,1925.8 1177.4,1938.7 1163.9,1950.7 1149.8,1961.8 1135.4,1971.7 1120.6,1980.4 1105.7,1987.8 1090.9,1993.9 1076.1,1998.6 1061.6,2001.8 1047.6,2003.5 1034.1,2003.7 1021.3,2002.4 1009.4,1999.6 998.3,1995.4 988.3,1989.7 979.4,1982.6 971.7,1974.3 965.4,1964.7 960.3,1953.9 956.7,1942.2 954.5,1929.5 953.8,1916.0 954.5,1901.9 956.7,1887.2 960.3,1872.2 965.4,1856.9 971.7,1841.5 979.4,1826.2 988.3,1811.0 998.3,1796.3 1009.4,1782.0 1021.3,1768.3 1034.1,1755.4 1047.6,1743.4 1061.6,1732.3 1076.1,1722.4 1090.9,1713.7 1105.7,1706.2 1120.6,1700.2 1135.4,1695.5 1149.8,1692.3 1163.9,1690.6 1177.4,1690.3 1190.2,1691.6 1202.1,1694.4 1213.2,1698.7 1223.2,1704.4 1232.1,1711.4 1239.7,1719.8 1246.1,1729.4 1251.1,1740.1 1254.8,1751.9 1257.0,1764.6Z" fill="none" stroke="#191970" stroke-opacity="0.45" stroke-width="3.8"/>
<path d="M1254.7,1781.8 1253.9,1796.0 1251.6,1810.7 1247.8,1825.8 1242.5,1841.1 1235.8,1856.6 1227.7,1872.0 1218.4,1887.1 1207.9,1902.0 1196.2,1916.3 1183.6,1930.0 1170.2,1943.0 1156.0,1955.1 1141.2,1966.1 1126.0,1976.1 1110.4,1984.8 1094.8,1992.3 1079.1,1998.4 1063.6,2003.1 1048.3,2006.3 1033.6,2008.0 1019.4,2008.3 1005.9,2007.0 993.3,2004.2 981.7,1999.9 971.1,1994.2 961.8,1987.1 953.7,1978.7 947.0,1969.0 941.7,1958.3 937.9,1946.5 935.6,1933.8 934.8,1920.2 935.6,1906.1 937.9,1891.4 941.7,1876.3 947.0,1860.9 953.7,1845.5 961.8,1830.1 971.1,1814.9 981.7,1800.1 993.3,1785.7 1005.9,1772.0 1019.4,1759.0 1033.6,1747.0 1048.3,1735.9 1063.6,1726.0 1079.1,1717.2 1094.8,1709.7 1110.4,1703.6 1126.0,1698.9 1141.2,1695.7 1156.0,1694.0 1170.2,1693.8 1183.6,1695.1 1196.2,1697.9 1207.9,1702.2 1218.4,1707.9 1227.7,1715.0 1235.8,1723.4 1242.5,1733.0 1247.8,1743.8 1251.6,1755.6 1253.9,1768.3Z" fill="none" stroke="#C71585" stroke-opacity="0.4" stroke-width="3.8"/>
</g>
<g clip-path="url(#c32)">
<path d="M1764.6,1871.5 1763.8,1886.5 1761.6,1901.1 1757.8,1915.1 1752.5,1928.5 1745.9,1941.1 1737.9,1952.8 1728.7,1963.4 1718.2,1972.8 1706.7,1981.1 1694.2,1988.0 1680.9,1993.6 1666.8,1997.7 1652.2,2000.3 1637.1,2001.5 1621.8,2001.1 1606.3,1999.2 1590.7,1995.9 1575.4,1991.1 1560.3,1984.8 1545.7,1977.3 1531.6,1968.4 1518.3,1958.4 1505.8,1947.3 1494.3,1935.2 1483.9,1922.2 1474.6,1908.5 1466.6,1894.1 1460.0,1879.3 1454.7,1864.2 1451.0,1848.8 1448.7,1833.4 1447.9,1818.2 1448.7,1803.2 1451.0,1788.6 1454.7,1774.5 1460.0,1761.1 1466.6,1748.5 1474.6,1736.9 1483.9,1726.3 1494.3,1716.8 1505.8,1708.6 1518.3,1701.6 1531.6,1696.1 1545.7,1692.0 1560.3,1689.3 1575.4,1688.2 1590.7,1688.5 1606.3,1690.4 1621.8,1693.8 1637.1,1698.6 1652.2,1704.8 1666.8,1712.4 1680.9,1721.2 1694.2,1731.2 1706.7,1742.4 1718.2,1754.5 1728.7,1767.5 1737.9,1781.2 1745.9,1795.5 1752.5,1810.3 1757.8,1825.5 1761.6,1840.8 1763.8,1856.2Z M1705.8,1858.7 1705.4,1867.7 1704.0,1876.5 1701.6,1885.0 1698.4,1893.1 1694.3,1900.6 1689.3,1907.7 1683.6,1914.1 1677.1,1919.8 1670.0,1924.7 1662.3,1928.9 1654.0,1932.2 1645.3,1934.7 1636.3,1936.3 1626.9,1937.0 1617.4,1936.8 1607.8,1935.7 1598.2,1933.6 1588.7,1930.7 1579.3,1927.0 1570.3,1922.4 1561.6,1917.1 1553.3,1911.1 1545.6,1904.4 1538.5,1897.1 1532.0,1889.2 1526.3,1881.0 1521.3,1872.3 1517.2,1863.4 1514.0,1854.3 1511.6,1845.0 1510.2,1835.8 1509.8,1826.6 1510.2,1817.5 1511.6,1808.7 1514.0,1800.3 1517.2,1792.2 1521.3,1784.6 1526.3,1777.6 1532.0,1771.2 1538.5,1765.5 1545.6,1760.5 1553.3,1756.3 1561.6,1753.0 1570.3,1750.5 1579.3,1748.9 1588.7,1748.2 1598.2,1748.5 1607.8,1749.6 1617.4,1751.6 1626.9,1754.5 1636.3,1758.2 1645.3,1762.8 1654.0,1768.1 1662.3,1774.2 1670.0,1780.9 1677.1,1788.2 1683.6,1796.0 1689.3,1804.3 1694.3,1812.9 1698.4,1821.8 1701.6,1831.0 1704.0,1840.2 1705.4,1849.5Z" fill-rule="evenodd" stroke="none" fill="#FFDB99" fill-opacity="1.0"/>
<path d="M1705.8,1858.7 1705.4,1867.7 1704.0,1876.5 1701.6,1885.0 1698.4,1893.1 1694.3,1900.6 1689.3,1907.7 1683.6,1914.1 1677.1,1919.8 1670.0,1924.7 1662.3,1928.9 1654.0,1932.2 1645.3,1934.7 1636.3,1936.3 1626.9,1937.0 1617.4,1936.8 1607.8,1935.7 1598.2,1933.6 1588.7,1930.7 1579.3,1927.0 1570.3,1922.4 1561.6,1917.1 1553.3,1911.1 1545.6,1904.4 1538.5,1897.1 1532.0,1889.2 1526.3,1881.0 1521.3,1872.3 1517.2,1863.4 1514.0,1854.3 1511.6,1845.0 1510.2,1835.8 1509.8,1826.6 1510.2,1817.5 1511.6,1808.7 1514.0,1800.3 1517.2,1792.2 1521.3,1784.6 1526.3,1777.6 1532.0,1771.2 1538.5,1765.5 1545.6,1760.5 1553.3,1756.3 1561.6,1753.0 1570.3,1750.5 1579.3,1748.9 1588.7,1748.2 1598.2,1748.5 1607.8,1749.6 1617.4,1751.6 1626.9,1754.5 1636.3,1758.2 1645.3,1762.8 1654.0,1768.1 1662.3,1774.2 1670.0,1780.9 1677.1,1788.2 1683.6,1796.0 1689.3,1804.3 1694.3,1812.9 1698.4,1821.8 1701.6,1831.0 1704.0,1840.2 1705.4,1849.5Z" stroke="none" fill="#FFA500" fill-opacity="1.0"/>
<path d="M1761.9,1873.7 1761.2,1888.8 1758.9,1903.5 1755.2,1917.6 1750.0,1931.1 1743.4,1943.7 1735.4,1955.4 1726.3,1966.1 1715.9,1975.6 1704.5,1983.9 1692.1,1990.9 1678.9,1996.4 1664.9,2000.6 1650.4,2003.2 1635.5,2004.4 1620.2,2004.0 1604.8,2002.1 1589.4,1998.8 1574.2,1993.9 1559.2,1987.7 1544.7,1980.1 1530.7,1971.2 1517.5,1961.1 1505.1,1949.9 1493.7,1937.8 1483.4,1924.7 1474.2,1910.9 1466.2,1896.5 1459.7,1881.6 1454.5,1866.4 1450.7,1851.0 1448.5,1835.5 1447.7,1820.2 1448.5,1805.1 1450.7,1790.4 1454.5,1776.3 1459.7,1762.8 1466.2,1750.2 1474.2,1738.4 1483.4,1727.8 1493.7,1718.3 1505.1,1710.0 1517.5,1703.0 1530.7,1697.4 1544.7,1693.3 1559.2,1690.6 1574.2,1689.5 1589.4,1689.9 1604.8,1691.7 1620.2,1695.1 1635.5,1699.9 1650.4,1706.2 1664.9,1713.8 1678.9,1722.7 1692.1,1732.8 1704.5,1743.9 1715.9,1756.1 1726.3,1769.2 1735.4,1783.0 1743.4,1797.4 1750.0,1812.3 1755.2,1827.5 1758.9,1842.9 1761.2,1858.4Z M1703.6,1860.9 1703.2,1870.0 1701.8,1878.8 1699.4,1887.3 1696.2,1895.4 1692.1,1903.1 1687.2,1910.1 1681.5,1916.5 1675.1,1922.3 1668.1,1927.3 1660.4,1931.5 1652.2,1934.8 1643.6,1937.3 1634.6,1938.9 1625.3,1939.6 1615.9,1939.4 1606.3,1938.3 1596.8,1936.2 1587.4,1933.3 1578.1,1929.6 1569.1,1925.0 1560.5,1919.6 1552.3,1913.5 1544.6,1906.8 1537.6,1899.5 1531.1,1891.6 1525.5,1883.3 1520.5,1874.6 1516.5,1865.6 1513.2,1856.5 1510.9,1847.2 1509.5,1837.9 1509.1,1828.6 1509.5,1819.5 1510.9,1810.7 1513.2,1802.2 1516.5,1794.1 1520.5,1786.4 1525.5,1779.4 1531.1,1772.9 1537.6,1767.2 1544.6,1762.2 1552.3,1758.0 1560.5,1754.7 1569.1,1752.2 1578.1,1750.6 1587.4,1749.9 1596.8,1750.1 1606.3,1751.2 1615.9,1753.3 1625.3,1756.2 1634.6,1759.9 1643.6,1764.5 1652.2,1769.9 1660.4,1775.9 1668.1,1782.7 1675.1,1790.0 1681.5,1797.9 1687.2,1806.2 1692.1,1814.9 1696.2,1823.9 1699.4,1833.0 1701.8,1842.3 1703.2,1851.6Z" fill-rule="evenodd" stroke="none" fill="#A3A3C6" fill-opacity="0.85"/>
<path d="M1703.6,1860.9 1703.2,1870.0 1701.8,1878.8 1699.4,1887.3 1696.2,1895.4 1692.1,1903.1 1687.2,1910.1 1681.5,1916.5 1675.1,1922.3 1668.1,1927.3 1660.4,1931.5 1652.2,1934.8 1643.6,1937.3 1634.6,1938.9 1625.3,1939.6 1615.9,1939.4 1606.3,1938.3 1596.8,1936.2 1587.4,1933.3 1578.1,1929.6 1569.1,1925.0 1560.5,1919.6 1552.3,1913.5 1544.6,1906.8 1537.6,1899.5 1531.1,1891.6 1525.5,1883.3 1520.5,1874.6 1516.5,1865.6 1513.2,1856.5 1510.9,1847.2 1509.5,1837.9 1509.1,1828.6 1509.5,1819.5 1510.9,1810.7 1513.2,1802.2 1516.5,1794.1 1520.5,1786.4 1525.5,1779.4 1531.1,1772.9 1537.6,1767.2 1544.6,1762.2 1552.3,1758.0 1560.5,1754.7 1569.1,1752.2 1578.1,1750.6 1587.4,1749.9 1596.8,1750.1 1606.3,1751.2 1615.9,1753.3 1625.3,1756.2 1634.6,1759.9 1643.6,1764.5 1652.2,1769.9 1660.4,1775.9 1668.1,1782.7 1675.1,1790.0 1681.5,1797.9 1687.2,1806.2 1692.1,1814.9 1696.2,1823.9 1699.4,1833.0 1701.8,1842.3 1703.2,1851.6Z" stroke="none" fill="#191970" fill-opacity="0.85"/>
<path d="M1768.5,1877.8 1767.7,1892.9 1765.4,1907.7 1761.5,1921.8 1756.2,1935.3 1749.5,1948.0 1741.3,1959.8 1731.9,1970.5 1721.3,1980.0 1709.6,1988.3 1697.0,1995.3 1683.4,2000.9 1669.1,2005.1 1654.3,2007.7 1638.9,2008.9 1623.3,2008.5 1607.6,2006.7 1591.8,2003.3 1576.2,1998.4 1560.8,1992.1 1546.0,1984.5 1531.7,1975.6 1518.2,1965.5 1505.5,1954.3 1493.8,1942.0 1483.2,1928.9 1473.8,1915.1 1465.6,1900.6 1458.9,1885.7 1453.6,1870.4 1449.7,1855.0 1447.4,1839.4 1446.6,1824.1 1447.4,1808.9 1449.7,1794.2 1453.6,1780.0 1458.9,1766.5 1465.6,1753.8 1473.8,1742.1 1483.2,1731.4 1493.8,1721.8 1505.5,1713.5 1518.2,1706.5 1531.7,1700.9 1546.0,1696.8 1560.8,1694.1 1576.2,1692.9 1591.8,1693.3 1607.6,1695.2 1623.3,1698.6 1638.9,1703.4 1654.3,1709.7 1669.1,1717.3 1683.4,1726.2 1697.0,1736.4 1709.6,1747.6 1721.3,1759.8 1731.9,1772.9 1741.3,1786.7 1749.5,1801.2 1756.2,1816.1 1761.5,1831.4 1765.4,1846.9 1767.7,1862.4Z M1708.7,1864.9 1708.2,1874.0 1706.8,1882.9 1704.4,1891.5 1701.1,1899.6 1697.0,1907.2 1691.9,1914.3 1686.1,1920.8 1679.5,1926.5 1672.3,1931.5 1664.4,1935.7 1656.1,1939.1 1647.2,1941.6 1638.0,1943.2 1628.5,1943.9 1618.9,1943.7 1609.1,1942.6 1599.3,1940.5 1589.7,1937.6 1580.2,1933.8 1571.0,1929.2 1562.1,1923.9 1553.7,1917.8 1545.9,1911.0 1538.6,1903.6 1532.1,1895.7 1526.3,1887.4 1521.2,1878.7 1517.1,1869.7 1513.8,1860.5 1511.4,1851.2 1509.9,1841.8 1509.5,1832.5 1509.9,1823.4 1511.4,1814.5 1513.8,1806.0 1517.1,1797.9 1521.2,1790.2 1526.3,1783.1 1532.1,1776.7 1538.6,1770.9 1545.9,1765.9 1553.7,1761.7 1562.1,1758.3 1571.0,1755.8 1580.2,1754.2 1589.7,1753.5 1599.3,1753.7 1609.1,1754.9 1618.9,1756.9 1628.5,1759.8 1638.0,1763.6 1647.2,1768.2 1656.1,1773.6 1664.4,1779.7 1672.3,1786.5 1679.5,1793.8 1686.1,1801.7 1691.9,1810.1 1697.0,1818.8 1701.1,1827.8 1704.4,1837.0 1706.8,1846.3 1708.2,1855.6Z" fill-rule="evenodd" stroke="none" fill="#DFA1CE" fill-opacity="0.8"/>
<path d="M1708.7,1864.9 1708.2,1874.0 1706.8,1882.9 1704.4,1891.5 1701.1,1899.6 1697.0,1907.2 1691.9,1914.3 1686.1,1920.8 1679.5,1926.5 1672.3,1931.5 1664.4,1935.7 1656.1,1939.1 1647.2,1941.6 1638.0,1943.2 1628.5,1943.9 1618.9,1943.7 1609.1,1942.6 1599.3,1940.5 1589.7,1937.6 1580.2,1933.8 1571.0,1929.2 1562.1,1923.9 1553.7,1917.8 1545.9,1911.0 1538.6,1903.6 1532.1,1895.7 1526.3,1887.4 1521.2,1878.7 1517.1,1869.7 1513.8,1860.5 1511.4,1851.2 1509.9,1841.8 1509.5,1832.5 1509.9,1823.4 1511.4,1814.5 1513.8,1806.0 1517.1,1797.9 1521.2,1790.2 1526.3,1783.1 1532.1,1776.7 1538.6,1770.9 1545.9,1765.9 1553.7,1761.7 1562.1,1758.3 1571.0,1755.8 1580.2,1754.2 1589.7,1753.5 1599.3,1753.7 1609.1,1754.9 1618.9,1756.9 1628.5,1759.8 1638.0,1763.6 1647.2,1768.2 1656.1,1773.6 1664.4,1779.7 1672.3,1786.5 1679.5,1793.8 1686.1,1801.7 1691.9,1810.1 1697.0,1818.8 1701.1,1827.8 1704.4,1837.0 1706.8,1846.3 1708.2,1855.6Z" stroke="none" fill="#BF4595" fill-opacity="0.8"/>
<path d="M1764.6,1871.5 1763.8,1886.5 1761.6,1901.1 1757.8,1915.1 1752.5,1928.5 1745.9,1941.1 1737.9,1952.8 1728.7,1963.4 1718.2,1972.8 1706.7,1981.1 1694.2,1988.0 1680.9,1993.6 1666.8,1997.7 1652.2,2000.3 1637.1,2001.5 1621.8,2001.1 1606.3,1999.2 1590.7,1995.9 1575.4,1991.1 1560.3,1984.8 1545.7,1977.3 1531.6,1968.4 1518.3,1958.4 1505.8,1947.3 1494.3,1935.2 1483.9,1922.2 1474.6,1908.5 1466.6,1894.1 1460.0,1879.3 1454.7,1864.2 1451.0,1848.8 1448.7,1833.4 1447.9,1818.2 1448.7,1803.2 1451.0,1788.6 1454.7,1774.5 1460.0,1761.1 1466.6,1748.5 1474.6,1736.9 1483.9,1726.3 1494.3,1716.8 1505.8,1708.6 1518.3,1701.6 1531.6,1696.1 1545.7,1692.0 1560.3,1689.3 1575.4,1688.2 1590.7,1688.5 1606.3,1690.4 1621.8,1693.8 1637.1,1698.6 1652.2,1704.8 1666.8,1712.4 1680.9,1721.2 1694.2,1731.2 1706.7,1742.4 1718.2,1754.5 1728.7,1767.5 1737.9,1781.2 1745.9,1795.5 1752.5,1810.3 1757.8,1825.5 1761.6,1840.8 1763.8,1856.2Z" fill="none" stroke="#FFA500" stroke-opacity="0.5" stroke-width="3.8"/>
<path d="M1761.9,1873.7 1761.2,1888.8 1758.9,1903.5 1755.2,1917.6 1750.0,1931.1 1743.4,1943.7 1735.4,1955.4 1726.3,1966.1 1715.9,1975.6 1704.5,1983.9 1692.1,1990.9 1678.9,1996.4 1664.9,2000.6 1650.4,2003.2 1635.5,2004.4 1620.2,2004.0 1604.8,2002.1 1589.4,1998.8 1574.2,1993.9 1559.2,1987.7 1544.7,1980.1 1530.7,1971.2 1517.5,1961.1 1505.1,1949.9 1493.7,1937.8 1483.4,1924.7 1474.2,1910.9 1466.2,1896.5 1459.7,1881.6 1454.5,1866.4 1450.7,1851.0 1448.5,1835.5 1447.7,1820.2 1448.5,1805.1 1450.7,1790.4 1454.5,1776.3 1459.7,1762.8 1466.2,1750.2 1474.2,1738.4 1483.4,1727.8 1493.7,1718.3 1505.1,1710.0 1517.5,1703.0 1530.7,1697.4 1544.7,1693.3 1559.2,1690.6 1574.2,1689.5 1589.4,1689.9 1604.8,1691.7 1620.2,1695.1 1635.5,1699.9 1650.4,1706.2 1664.9,1713.8 1678.9,1722.7 1692.1,1732.8 1704.5,1743.9 1715.9,1756.1 1726.3,1769.2 1735.4,1783.0 1743.4,1797.4 1750.0,1812.3 1755.2,1827.5 1758.9,1842.9 1761.2,1858.4Z" fill="none" stroke="#191970" stroke-opacity="0.45" stroke-width="3.8"/>
<path d="M1768.5,1877.8 1767.7,1892.9 1765.4,1907.7 1761.5,1921.8 1756.2,1935.3 1749.5,1948.0 1741.3,1959.8 1731.9,1970.5 1721.3,1980.0 1709.6,1988.3 1697.0,1995.3 1683.4,2000.9 1669.1,2005.1 1654.3,2007.7 1638.9,2008.9 1623.3,2008.5 1607.6,2006.7 1591.8,2003.3 1576.2,1998.4 1560.8,1992.1 1546.0,1984.5 1531.7,1975.6 1518.2,1965.5 1505.5,1954.3 1493.8,1942.0 1483.2,1928.9 1473.8,1915.1 1465.6,1900.6 1458.9,1885.7 1453.6,1870.4 1449.7,1855.0 1447.4,1839.4 1446.6,1824.1 1447.4,1808.9 1449.7,1794.2 1453.6,1780.0 1458.9,1766.5 1465.6,1753.8 1473.8,1742.1 1483.2,1731.4 1493.8,1721.8 1505.5,1713.5 1518.2,1706.5 1531.7,1700.9 1546.0,1696.8 1560.8,1694.1 1576.2,1692.9 1591.8,1693.3 1607.6,1695.2 1623.3,1698.6 1638.9,1703.4 1654.3,1709.7 1669.1,1717.3 1683.4,1726.2 1697.0,1736.4 1709.6,1747.6 1721.3,1759.8 1731.9,1772.9 1741.3,1786.7 1749.5,1801.2 1756.2,1816.1 1761.5,1831.4 1765.4,1846.9 1767.7,1862.4Z" fill="none" stroke="#C71585" stroke-opacity="0.4" stroke-width="3.8"/>
</g>
<g clip-path="url(#c40)">
<path d="M760.1,2305.4 759.3,2319.8 757.0,2334.8 753.2,2350.2 747.9,2365.8 741.2,2381.6 733.1,2397.2 723.7,2412.6 713.2,2427.7 701.6,2442.3 689.0,2456.2 675.5,2469.3 661.3,2481.6 646.5,2492.8 631.3,2502.9 615.7,2511.7 600.1,2519.2 584.4,2525.3 568.8,2530.0 553.6,2533.2 538.8,2534.9 524.6,2535.0 511.2,2533.6 498.5,2530.7 486.9,2526.2 476.4,2520.3 467.0,2513.0 458.9,2504.4 452.2,2494.6 446.9,2483.5 443.1,2471.5 440.8,2458.5 440.0,2444.7 440.8,2430.2 443.1,2415.2 446.9,2399.8 452.2,2384.2 458.9,2368.5 467.0,2352.8 476.4,2337.4 486.9,2322.3 498.5,2307.7 511.2,2293.8 524.6,2280.7 538.8,2268.5 553.6,2257.3 568.8,2247.2 584.4,2238.3 600.1,2230.8 615.7,2224.7 631.3,2220.0 646.5,2216.8 661.3,2215.1 675.5,2215.0 689.0,2216.4 701.6,2219.4 713.2,2223.8 723.7,2229.7 733.1,2237.0 741.2,2245.6 747.9,2255.5 753.2,2266.5 757.0,2278.6 759.3,2291.6Z M696.2,2329.1 695.7,2337.9 694.3,2347.1 692.0,2356.4 688.7,2365.9 684.6,2375.5 679.7,2385.0 673.9,2394.4 667.5,2403.6 660.3,2412.5 652.6,2420.9 644.3,2428.9 635.6,2436.4 626.6,2443.2 617.3,2449.3 607.7,2454.7 598.1,2459.3 588.5,2463.0 579.0,2465.9 569.7,2467.8 560.6,2468.8 551.9,2468.9 543.6,2468.0 535.9,2466.3 528.8,2463.6 522.3,2460.0 516.6,2455.5 511.6,2450.3 507.5,2444.3 504.3,2437.6 501.9,2430.2 500.5,2422.3 500.1,2413.9 500.5,2405.1 501.9,2396.0 504.3,2386.6 507.5,2377.1 511.6,2367.6 516.6,2358.0 522.3,2348.6 528.8,2339.5 535.9,2330.6 543.6,2322.1 551.9,2314.1 560.6,2306.7 569.7,2299.9 579.0,2293.7 588.5,2288.4 598.1,2283.8 607.7,2280.0 617.3,2277.2 626.6,2275.3 635.6,2274.2 644.3,2274.2 652.6,2275.0 660.3,2276.8 667.5,2279.5 673.9,2283.1 679.7,2287.5 684.6,2292.8 688.7,2298.8 692.0,2305.5 694.3,2312.8 695.7,2320.7Z" fill-rule="evenodd" stroke="none" fill="#FFDB99" fill-opacity="1.0"/>
<path d="M696.2,2329.1 695.7,2337.9 694.3,2347.1 692.0,2356.4 688.7,2365.9 684.6,2375.5 679.7,2385.0 673.9,2394.4 667.5,2403.6 660.3,2412.5 652.6,2420.9 644.3,2428.9 635.6,2436.4 626.6,2443.2 617.3,2449.3 607.7,2454.7 598.1,2459.3 588.5,2463.0 579.0,2465.9 569.7,2467.8 560.6,2468.8 551.9,2468.9 543.6,2468.0 535.9,2466.3 528.8,2463.6 522.3,2460.0 516.6,2455.5 511.6,2450.3 507.5,2444.3 504.3,2437.6 501.9,2430.2 500.5,2422.3 500.1,2413.9 500.5,2405.1 501.9,2396.0 504.3,2386.6 507.5,2377.1 511.6,2367.6 516.6,2358.0 522.3,2348.6 528.8,2339.5 535.9,2330.6 543.6,2322.1 551.9,2314.1 560.6,2306.7 569.7,2299.9 579.0,2293.7 588.5,2288.4 598.1,2283.8 607.7,2280.0 617.3,2277.2 626.6,2275.3 635.6,2274.2 644.3,2274.2 652.6,2275.0 660.3,2276.8 667.5,2279.5 673.9,2283.1 679.7,2287.5 684.6,2292.8 688.7,2298.8 692.0,2305.5 694.3,2312.8 695.7,2320.7Z" stroke="none" fill="#FFA500" fill-opacity="1.0"/>
<path d="M746.3,2303.3 745.5,2317.8 743.3,2332.8 739.6,2348.1 734.5,2363.8 728.0,2379.5 720.2,2395.1 711.1,2410.6 700.9,2425.7 689.7,2440.2 677.5,2454.1 664.5,2467.3 650.7,2479.5 636.4,2490.7 621.7,2500.8 606.7,2509.6 591.5,2517.1 576.3,2523.3 561.3,2528.0 546.6,2531.2 532.3,2532.8 518.6,2533.0 505.5,2531.5 493.3,2528.6 482.1,2524.2 471.9,2518.3 462.8,2511.0 455.0,2502.4 448.5,2492.5 443.4,2481.5 439.7,2469.4 437.5,2456.4 436.8,2442.6 437.5,2428.1 439.7,2413.1 443.4,2397.8 448.5,2382.1 455.0,2366.4 462.8,2350.8 471.9,2335.3 482.1,2320.2 493.3,2305.7 505.5,2291.8 518.6,2278.6 532.3,2266.4 546.6,2255.2 561.3,2245.1 576.3,2236.3 591.5,2228.8 606.7,2222.6 621.7,2217.9 636.4,2214.7 650.7,2213.1 664.5,2212.9 677.5,2214.4 689.7,2217.3 700.9,2221.7 711.1,2227.6 720.2,2234.9 728.0,2243.5 734.5,2253.4 739.6,2264.4 743.3,2276.5 745.5,2289.5Z M680.7,2327.1 680.2,2335.9 678.9,2345.0 676.6,2354.4 673.6,2363.9 669.6,2373.4 664.9,2383.0 659.5,2392.4 653.3,2401.5 646.5,2410.4 639.2,2418.9 631.3,2426.9 623.1,2434.3 614.4,2441.1 605.6,2447.3 596.5,2452.6 587.4,2457.2 578.2,2460.9 569.2,2463.8 560.3,2465.7 551.7,2466.8 543.4,2466.8 535.5,2466.0 528.2,2464.2 521.4,2461.5 515.2,2457.9 509.8,2453.5 505.1,2448.2 501.2,2442.2 498.1,2435.5 495.9,2428.2 494.5,2420.3 494.1,2411.9 494.5,2403.1 495.9,2393.9 498.1,2384.6 501.2,2375.0 505.1,2365.5 509.8,2356.0 515.2,2346.6 521.4,2337.4 528.2,2328.5 535.5,2320.1 543.4,2312.1 551.7,2304.6 560.3,2297.8 569.2,2291.7 578.2,2286.3 587.4,2281.7 596.5,2278.0 605.6,2275.1 614.4,2273.2 623.1,2272.2 631.3,2272.1 639.2,2273.0 646.5,2274.7 653.3,2277.4 659.5,2281.0 664.9,2285.5 669.6,2290.7 673.6,2296.7 676.6,2303.4 678.9,2310.8 680.2,2318.7Z" fill-rule="evenodd" stroke="none" fill="#A3A3C6" fill-opacity="0.85"/>
<path d="M680.7,2327.1 680.2,2335.9 678.9,2345.0 676.6,2354.4 673.6,2363.9 669.6,2373.4 664.9,2383.0 659.5,2392.4 653.3,2401.5 646.5,2410.4 639.2,2418.9 631.3,2426.9 623.1,2434.3 614.4,2441.1 605.6,2447.3 596.5,2452.6 587.4,2457.2 578.2,2460.9 569.2,2463.8 560.3,2465.7 551.7,2466.8 543.4,2466.8 535.5,2466.0 528.2,2464.2 521.4,2461.5 515.2,2457.9 509.8,2453.5 505.1,2448.2 501.2,2442.2 498.1,2435.5 495.9,2428.2 494.5,2420.3 494.1,2411.9 494.5,2403.1 495.9,2393.9 498.1,2384.6 501.2,2375.0 505.1,2365.5 509.8,2356.0 515.2,2346.6 521.4,2337.4 528.2,2328.5 535.5,2320.1 543.4,2312.1 551.7,2304.6 560.3,2297.8 569.2,2291.7 578.2,2286.3 587.4,2281.7 596.5,2278.0 605.6,2275.1 614.4,2273.2 623.1,2272.2 631.3,2272.1 639.2,2273.0 646.5,2274.7 653.3,2277.4 659.5,2281.0 664.9,2285.5 669.6,2290.7 673.6,2296.7 676.6,2303.4 678.9,2310.8 680.2,2318.7Z" stroke="none" fill="#191970" fill-opacity="0.85"/>
<path d="M759.4,2299.0 758.6,2313.5 756.3,2328.5 752.5,2343.9 747.2,2359.5 740.5,2375.3 732.4,2390.9 723.1,2406.4 712.6,2421.5 701.0,2436.0 688.4,2450.0 674.9,2463.1 660.7,2475.4 646.0,2486.6 630.8,2496.7 615.3,2505.5 599.6,2513.0 583.9,2519.2 568.4,2523.9 553.2,2527.1 538.5,2528.7 524.3,2528.9 510.8,2527.4 498.2,2524.5 486.6,2520.1 476.1,2514.2 466.8,2506.9 458.7,2498.2 452.0,2488.4 446.7,2477.3 442.9,2465.2 440.6,2452.2 439.8,2438.4 440.6,2424.0 442.9,2408.9 446.7,2393.5 452.0,2377.9 458.7,2362.2 466.8,2346.5 476.1,2331.1 486.6,2316.0 498.2,2301.4 510.8,2287.5 524.3,2274.3 538.5,2262.1 553.2,2250.9 568.4,2240.8 583.9,2231.9 599.6,2224.4 615.3,2218.3 630.8,2213.6 646.0,2210.4 660.7,2208.7 674.9,2208.6 688.4,2210.0 701.0,2212.9 712.6,2217.4 723.1,2223.3 732.4,2230.6 740.5,2239.2 747.2,2249.1 752.5,2260.1 756.3,2272.2 758.6,2285.2Z M695.6,2322.8 695.1,2331.6 693.7,2340.7 691.4,2350.1 688.1,2359.6 684.0,2369.2 679.1,2378.7 673.4,2388.1 666.9,2397.3 659.8,2406.2 652.1,2414.7 643.8,2422.7 635.1,2430.1 626.1,2437.0 616.8,2443.1 607.3,2448.5 597.7,2453.0 588.1,2456.8 578.6,2459.6 569.2,2461.6 560.2,2462.6 551.5,2462.7 543.3,2461.8 535.6,2460.0 528.4,2457.3 522.0,2453.7 516.3,2449.3 511.3,2444.0 507.2,2438.0 504.0,2431.3 501.6,2424.0 500.2,2416.1 499.8,2407.7 500.2,2398.8 501.6,2389.7 504.0,2380.3 507.2,2370.8 511.3,2361.2 516.3,2351.7 522.0,2342.3 528.4,2333.1 535.6,2324.3 543.3,2315.8 551.5,2307.8 560.2,2300.3 569.2,2293.5 578.6,2287.4 588.1,2282.0 597.7,2277.4 607.3,2273.7 616.8,2270.8 626.1,2268.9 635.1,2267.9 643.8,2267.8 652.1,2268.6 659.8,2270.4 666.9,2273.1 673.4,2276.7 679.1,2281.2 684.0,2286.4 688.1,2292.4 691.4,2299.1 693.7,2306.5 695.1,2314.4Z" fill-rule="evenodd" stroke="none" fill="#DFA1CE" fill-opacity="0.8"/>
<path d="M695.6,2322.8 695.1,2331.6 693.7,2340.7 691.4,2350.1 688.1,2359.6 684.0,2369.2 679.1,2378.7 673.4,2388.1 666.9,2397.3 659.8,2406.2 652.1,2414.7 643.8,2422.7 635.1,2430.1 626.1,2437.0 616.8,2443.1 607.3,2448.5 597.7,2453.0 588.1,2456.8 578.6,2459.6 569.2,2461.6 560.2,2462.6 551.5,2462.7 543.3,2461.8 535.6,2460.0 528.4,2457.3 522.0,2453.7 516.3,2449.3 511.3,2444.0 507.2,2438.0 504.0,2431.3 501.6,2424.0 500.2,2416.1 499.8,2407.7 500.2,2398.8 501.6,2389.7 504.0,2380.3 507.2,2370.8 511.3,2361.2 516.3,2351.7 522.0,2342.3 528.4,2333.1 535.6,2324.3 543.3,2315.8 551.5,2307.8 560.2,2300.3 569.2,2293.5 578.6,2287.4 588.1,2282.0 597.7,2277.4 607.3,2273.7 616.8,2270.8 626.1,2268.9 635.1,2267.9 643.8,2267.8 652.1,2268.6 659.8,2270.4 666.9,2273.1 673.4,2276.7 679.1,2281.2 684.0,2286.4 688.1,2292.4 691.4,2299.1 693.7,2306.5 695.1,2314.4Z" stroke="none" fill="#BF4595" fill-opacity="0.8"/>
<path d="M760.1,2305.4 759.3,2319.8 757.0,2334.8 753.2,2350.2 747.9,2365.8 741.2,2381.6 733.1,2397.2 723.7,2412.6 713.2,2427.7 701.6,2442.3 689.0,2456.2 675.5,2469.3 661.3,2481.6 646.5,2492.8 631.3,2502.9 615.7,2511.7 600.1,2519.2 584.4,2525.3 568.8,2530.0 553.6,2533.2 538.8,2534.9 524.6,2535.0 511.2,2533.6 498.5,2530.7 486.9,2526.2 476.4,2520.3 467.0,2513.0 458.9,2504.4 452.2,2494.6 446.9,2483.5 443.1,2471.5 440.8,2458.5 440.0,2444.7 440.8,2430.2 443.1,2415.2 446.9,2399.8 452.2,2384.2 458.9,2368.5 467.0,2352.8 476.4,2337.4 486.9,2322.3 498.5,2307.7 511.2,2293.8 524.6,2280.7 538.8,2268.5 553.6,2257.3 568.8,2247.2 584.4,2238.3 600.1,2230.8 615.7,2224.7 631.3,2220.0 646.5,2216.8 661.3,2215.1 675.5,2215.0 689.0,2216.4 701.6,2219.4 713.2,2223.8 723.7,2229.7 733.1,2237.0 741.2,2245.6 747.9,2255.5 753.2,2266.5 757.0,2278.6 759.3,2291.6Z" fill="none" stroke="#FFA500" stroke-opacity="0.5" stroke-width="3.8"/>
<path d="M746.3,2303.3 745.5,2317.8 743.3,2332.8 739.6,2348.1 734.5,2363.8 728.0,2379.5 720.2,2395.1 711.1,2410.6 700.9,2425.7 689.7,2440.2 677.5,2454.1 664.5,2467.3 650.7,2479.5 636.4,2490.7 621.7,2500.8 606.7,2509.6 591.5,2517.1 576.3,2523.3 561.3,2528.0 546.6,2531.2 532.3,2532.8 518.6,2533.0 505.5,2531.5 493.3,2528.6 482.1,2524.2 471.9,2518.3 462.8,2511.0 455.0,2502.4 448.5,2492.5 443.4,2481.5 439.7,2469.4 437.5,2456.4 436.8,2442.6 437.5,2428.1 439.7,2413.1 443.4,2397.8 448.5,2382.1 455.0,2366.4 462.8,2350.8 471.9,2335.3 482.1,2320.2 493.3,2305.7 505.5,2291.8 518.6,2278.6 532.3,2266.4 546.6,2255.2 561.3,2245.1 576.3,2236.3 591.5,2228.8 606.7,2222.6 621.7,2217.9 636.4,2214.7 650.7,2213.1 664.5,2212.9 677.5,2214.4 689.7,2217.3 700.9,2221.7 711.1,2227.6 720.2,2234.9 728.0,2243.5 734.5,2253.4 739.6,2264.4 743.3,2276.5 745.5,2289.5Z" fill="none" stroke="#191970" stroke-opacity="0.45" stroke-width="3.8"/>
<path d="M759.4,2299.0 758.6,2313.5 756.3,2328.5 752.5,2343.9 747.2,2359.5 740.5,2375.3 732.4,2390.9 723.1,2406.4 712.6,2421.5 701.0,2436.0 688.4,2450.0 674.9,2463.1 660.7,2475.4 646.0,2486.6 630.8,2496.7 615.3,2505.5 599.6,2513.0 583.9,2519.2 568.4,2523.9 553.2,2527.1 538.5,2528.7 524.3,2528.9 510.8,2527.4 498.2,2524.5 486.6,2520.1 476.1,2514.2 466.8,2506.9 458.7,2498.2 452.0,2488.4 446.7,2477.3 442.9,2465.2 440.6,2452.2 439.8,2438.4 440.6,2424.0 442.9,2408.9 446.7,2393.5 452.0,2377.9 458.7,2362.2 466.8,2346.5 476.1,2331.1 486.6,2316.0 498.2,2301.4 510.8,2287.5 524.3,2274.3 538.5,2262.1 553.2,2250.9 568.4,2240.8 583.9,2231.9 599.6,2224.4 615.3,2218.3 630.8,2213.6 646.0,2210.4 660.7,2208.7 674.9,2208.6 688.4,2210.0 701.0,2212.9 712.6,2217.4 723.1,2223.3 732.4,2230.6 740.5,2239.2 747.2,2249.1 752.5,2260.1 756.3,2272.2 758.6,2285.2Z" fill="none" stroke="#C71585" stroke-opacity="0.4" stroke-width="3.8"/>
</g>
<g clip-path="url(#c41)">
<path d="M1251.8,2447.7 1251.1,2461.4 1248.8,2474.2 1245.1,2486.1 1240.0,2496.8 1233.4,2506.5 1225.6,2514.8 1216.5,2521.8 1206.2,2527.4 1194.9,2531.5 1182.6,2534.1 1169.5,2535.1 1155.7,2534.6 1141.3,2532.6 1126.4,2529.1 1111.3,2524.1 1096.0,2517.6 1080.8,2509.8 1065.7,2500.6 1050.8,2490.3 1036.4,2478.8 1022.6,2466.3 1009.5,2453.0 997.2,2438.9 985.9,2424.2 975.6,2409.0 966.5,2393.4 958.7,2377.7 952.1,2362.0 947.0,2346.4 943.3,2331.1 941.0,2316.1 940.3,2301.8 941.0,2288.1 943.3,2275.3 947.0,2263.5 952.1,2252.7 958.7,2243.1 966.5,2234.7 975.6,2227.8 985.9,2222.2 997.2,2218.1 1009.5,2215.5 1022.6,2214.4 1036.4,2214.9 1050.8,2216.9 1065.7,2220.5 1080.8,2225.5 1096.0,2231.9 1111.3,2239.8 1126.4,2248.9 1141.3,2259.3 1155.7,2270.7 1169.5,2283.2 1182.6,2296.6 1194.9,2310.7 1206.2,2325.4 1216.5,2340.6 1225.6,2356.1 1233.4,2371.8 1240.0,2387.5 1245.1,2403.1 1248.8,2418.5 1251.1,2433.4Z M1188.1,2415.8 1187.7,2424.1 1186.3,2431.9 1184.0,2439.1 1180.9,2445.6 1176.9,2451.5 1172.1,2456.6 1166.5,2460.8 1160.2,2464.2 1153.3,2466.7 1145.8,2468.3 1137.7,2468.9 1129.3,2468.6 1120.5,2467.4 1111.4,2465.2 1102.2,2462.2 1092.8,2458.3 1083.5,2453.5 1074.2,2447.9 1065.2,2441.6 1056.4,2434.7 1047.9,2427.1 1039.9,2419.0 1032.4,2410.4 1025.4,2401.4 1019.2,2392.2 1013.6,2382.8 1008.8,2373.2 1004.8,2363.6 1001.6,2354.2 999.4,2344.8 998.0,2335.8 997.5,2327.0 998.0,2318.7 999.4,2310.9 1001.6,2303.7 1004.8,2297.2 1008.8,2291.3 1013.6,2286.3 1019.2,2282.0 1025.4,2278.6 1032.4,2276.1 1039.9,2274.5 1047.9,2273.9 1056.4,2274.2 1065.2,2275.4 1074.2,2277.6 1083.5,2280.6 1092.8,2284.6 1102.2,2289.3 1111.4,2294.9 1120.5,2301.2 1129.3,2308.2 1137.7,2315.7 1145.8,2323.8 1153.3,2332.4 1160.2,2341.4 1166.5,2350.6 1172.1,2360.1 1176.9,2369.6 1180.9,2379.2 1184.0,2388.7 1186.3,2398.0 1187.7,2407.1Z" fill-rule="evenodd" stroke="none" fill="#FFDB99" fill-opacity="1.0"/>
<path d="M1188.1,2415.8 1187.7,2424.1 1186.3,2431.9 1184.0,2439.1 1180.9,2445.6 1176.9,2451.5 1172.1,2456.6 1166.5,2460.8 1160.2,2464.2 1153.3,2466.7 1145.8,2468.3 1137.7,2468.9 1129.3,2468.6 1120.5,2467.4 1111.4,2465.2 1102.2,2462.2 1092.8,2458.3 1083.5,2453.5 1074.2,2447.9 1065.2,2441.6 1056.4,2434.7 1047.9,2427.1 1039.9,2419.0 1032.4,2410.4 1025.4,2401.4 1019.2,2392.2 1013.6,2382.8 1008.8,2373.2 1004.8,2363.6 1001.6,2354.2 999.4,2344.8 998.0,2335.8 997.5,2327.0 998.0,2318.7 999.4,2310.9 1001.6,2303.7 1004.8,2297.2 1008.8,2291.3 1013.6,2286.3 1019.2,2282.0 1025.4,2278.6 1032.4,2276.1 1039.9,2274.5 1047.9,2273.9 1056.4,2274.2 1065.2,2275.4 1074.2,2277.6 1083.5,2280.6 1092.8,2284.6 1102.2,2289.3 1111.4,2294.9 1120.5,2301.2 1129.3,2308.2 1137.7,2315.7 1145.8,2323.8 1153.3,2332.4 1160.2,2341.4 1166.5,2350.6 1172.1,2360.1 1176.9,2369.6 1180.9,2379.2 1184.0,2388.7 1186.3,2398.0 1187.7,2407.1Z" stroke="none" fill="#FFA500" fill-opacity="1.0"/>
<path d="M1257.7,2445.7 1257.0,2459.3 1254.8,2472.1 1251.1,2484.0 1246.1,2494.8 1239.7,2504.4 1232.1,2512.7 1223.2,2519.7 1213.2,2525.3 1202.1,2529.4 1190.2,2532.0 1177.4,2533.1 1163.9,2532.6 1149.8,2530.6 1135.4,2527.0 1120.6,2522.0 1105.7,2515.5 1090.9,2507.7 1076.1,2498.5 1061.6,2488.2 1047.6,2476.7 1034.1,2464.3 1021.3,2450.9 1009.4,2436.8 998.3,2422.1 988.3,2406.9 979.4,2391.4 971.7,2375.7 965.4,2359.9 960.3,2344.3 956.7,2329.0 954.5,2314.1 953.8,2299.7 954.5,2286.1 956.7,2273.3 960.3,2261.4 965.4,2250.6 971.7,2241.0 979.4,2232.7 988.3,2225.7 998.3,2220.1 1009.4,2216.0 1021.3,2213.4 1034.1,2212.3 1047.6,2212.8 1061.6,2214.8 1076.1,2218.4 1090.9,2223.4 1105.7,2229.9 1120.6,2237.7 1135.4,2246.9 1149.8,2257.2 1163.9,2268.7 1177.4,2281.1 1190.2,2294.5 1202.1,2308.6 1213.2,2323.3 1223.2,2338.5 1232.1,2354.0 1239.7,2369.7 1246.1,2385.5 1251.1,2401.1 1254.8,2416.4 1257.0,2431.3Z M1198.6,2413.7 1198.2,2422.0 1196.8,2429.8 1194.6,2437.0 1191.5,2443.6 1187.5,2449.4 1182.8,2454.5 1177.3,2458.7 1171.0,2462.1 1164.2,2464.6 1156.8,2466.2 1148.8,2466.9 1140.5,2466.6 1131.8,2465.3 1122.8,2463.2 1113.7,2460.1 1104.4,2456.2 1095.2,2451.4 1086.0,2445.9 1077.1,2439.6 1068.4,2432.6 1060.0,2425.0 1052.1,2416.9 1044.6,2408.3 1037.8,2399.4 1031.6,2390.1 1026.1,2380.7 1021.3,2371.1 1017.4,2361.6 1014.2,2352.1 1012.0,2342.8 1010.6,2333.7 1010.2,2325.0 1010.6,2316.7 1012.0,2308.9 1014.2,2301.7 1017.4,2295.1 1021.3,2289.3 1026.1,2284.2 1031.6,2279.9 1037.8,2276.5 1044.6,2274.1 1052.1,2272.5 1060.0,2271.8 1068.4,2272.1 1077.1,2273.3 1086.0,2275.5 1095.2,2278.6 1104.4,2282.5 1113.7,2287.3 1122.8,2292.8 1131.8,2299.1 1140.5,2306.1 1148.8,2313.7 1156.8,2321.8 1164.2,2330.4 1171.0,2339.3 1177.3,2348.5 1182.8,2358.0 1187.5,2367.5 1191.5,2377.1 1194.6,2386.6 1196.8,2395.9 1198.2,2405.0Z" fill-rule="evenodd" stroke="none" fill="#A3A3C6" fill-opacity="0.85"/>
<path d="M1198.6,2413.7 1198.2,2422.0 1196.8,2429.8 1194.6,2437.0 1191.5,2443.6 1187.5,2449.4 1182.8,2454.5 1177.3,2458.7 1171.0,2462.1 1164.2,2464.6 1156.8,2466.2 1148.8,2466.9 1140.5,2466.6 1131.8,2465.3 1122.8,2463.2 1113.7,2460.1 1104.4,2456.2 1095.2,2451.4 1086.0,2445.9 1077.1,2439.6 1068.4,2432.6 1060.0,2425.0 1052.1,2416.9 1044.6,2408.3 1037.8,2399.4 1031.6,2390.1 1026.1,2380.7 1021.3,2371.1 1017.4,2361.6 1014.2,2352.1 1012.0,2342.8 1010.6,2333.7 1010.2,2325.0 1010.6,2316.7 1012.0,2308.9 1014.2,2301.7 1017.4,2295.1 1021.3,2289.3 1026.1,2284.2 1031.6,2279.9 1037.8,2276.5 1044.6,2274.1 1052.1,2272.5 1060.0,2271.8 1068.4,2272.1 1077.1,2273.3 1086.0,2275.5 1095.2,2278.6 1104.4,2282.5 1113.7,2287.3 1122.8,2292.8 1131.8,2299.1 1140.5,2306.1 1148.8,2313.7 1156.8,2321.8 1164.2,2330.4 1171.0,2339.3 1177.3,2348.5 1182.8,2358.0 1187.5,2367.5 1191.5,2377.1 1194.6,2386.6 1196.8,2395.9 1198.2,2405.0Z" stroke="none" fill="#191970" fill-opacity="0.85"/>
<path d="M1254.7,2441.5 1253.9,2455.2 1251.6,2468.0 1247.8,2479.9 1242.5,2490.6 1235.8,2500.3 1227.7,2508.6 1218.4,2515.6 1207.9,2521.2 1196.2,2525.3 1183.6,2527.9 1170.2,2529.0 1156.0,2528.5 1141.2,2526.5 1126.0,2522.9 1110.4,2517.9 1094.8,2511.4 1079.1,2503.6 1063.6,2494.4 1048.3,2484.1 1033.6,2472.6 1019.4,2460.1 1005.9,2446.7 993.3,2432.6 981.7,2417.9 971.1,2402.7 961.8,2387.2 953.7,2371.4 947.0,2355.7 941.7,2340.1 937.9,2324.7 935.6,2309.8 934.8,2295.4 935.6,2281.8 937.9,2268.9 941.7,2257.1 947.0,2246.3 953.7,2236.7 961.8,2228.3 971.1,2221.3 981.7,2215.7 993.3,2211.6 1005.9,2209.0 1019.4,2208.0 1033.6,2208.5 1048.3,2210.5 1063.6,2214.0 1079.1,2219.1 1094.8,2225.5 1110.4,2233.4 1126.0,2242.5 1141.2,2252.9 1156.0,2264.4 1170.2,2276.8 1183.6,2290.2 1196.2,2304.3 1207.9,2319.0 1218.4,2334.2 1227.7,2349.8 1235.8,2365.5 1242.5,2381.2 1247.8,2396.9 1251.6,2412.2 1253.9,2427.1Z M1189.6,2409.5 1189.2,2417.8 1187.7,2425.6 1185.4,2432.8 1182.2,2439.4 1178.1,2445.2 1173.1,2450.3 1167.4,2454.6 1161.0,2458.0 1153.8,2460.5 1146.1,2462.0 1137.9,2462.7 1129.2,2462.4 1120.2,2461.2 1110.9,2459.0 1101.4,2456.0 1091.8,2452.0 1082.2,2447.3 1072.7,2441.7 1063.4,2435.4 1054.3,2428.4 1045.6,2420.8 1037.4,2412.7 1029.7,2404.1 1022.6,2395.2 1016.1,2385.9 1010.4,2376.5 1005.5,2366.9 1001.4,2357.3 998.1,2347.8 995.8,2338.5 994.4,2329.4 993.9,2320.7 994.4,2312.4 995.8,2304.6 998.1,2297.4 1001.4,2290.8 1005.5,2285.0 1010.4,2279.9 1016.1,2275.6 1022.6,2272.2 1029.7,2269.7 1037.4,2268.2 1045.6,2267.5 1054.3,2267.8 1063.4,2269.0 1072.7,2271.2 1082.2,2274.2 1091.8,2278.2 1101.4,2283.0 1110.9,2288.5 1120.2,2294.8 1129.2,2301.8 1137.9,2309.4 1146.1,2317.5 1153.8,2326.1 1161.0,2335.0 1167.4,2344.3 1173.1,2353.7 1178.1,2363.3 1182.2,2372.9 1185.4,2382.4 1187.7,2391.7 1189.2,2400.8Z" fill-rule="evenodd" stroke="none" fill="#DFA1CE" fill-opacity="0.8"/>
<path d="M1189.6,2409.5 1189.2,2417.8 1187.7,2425.6 1185.4,2432.8 1182.2,2439.4 1178.1,2445.2 1173.1,2450.3 1167.4,2454.6 1161.0,2458.0 1153.8,2460.5 1146.1,2462.0 1137.9,2462.7 1129.2,2462.4 1120.2,2461.2 1110.9,2459.0 1101.4,2456.0 1091.8,2452.0 1082.2,2447.3 1072.7,2441.7 1063.4,2435.4 1054.3,2428.4 1045.6,2420.8 1037.4,2412.7 1029.7,2404.1 1022.6,2395.2 1016.1,2385.9 1010.4,2376.5 1005.5,2366.9 1001.4,2357.3 998.1,2347.8 995.8,2338.5 994.4,2329.4 993.9,2320.7 994.4,2312.4 995.8,2304.6 998.1,2297.4 1001.4,2290.8 1005.5,2285.0 1010.4,2279.9 1016.1,2275.6 1022.6,2272.2 1029.7,2269.7 1037.4,2268.2 1045.6,2267.5 1054.3,2267.8 1063.4,2269.0 1072.7,2271.2 1082.2,2274.2 1091.8,2278.2 1101.4,2283.0 1110.9,2288.5 1120.2,2294.8 1129.2,2301.8 1137.9,2309.4 1146.1,2317.5 1153.8,2326.1 1161.0,2335.0 1167.4,2344.3 1173.1,2353.7 1178.1,2363.3 1182.2,2372.9 1185.4,2382.4 1187.7,2391.7 1189.2,2400.8Z" stroke="none" fill="#BF4595" fill-opacity="0.8"/>
<path d="M1251.8,2447.7 1251.1,2461.4 1248.8,2474.2 1245.1,2486.1 1240.0,2496.8 1233.4,2506.5 1225.6,2514.8 1216.5,2521.8 1206.2,2527.4 1194.9,2531.5 1182.6,2534.1 1169.5,2535.1 1155.7,2534.6 1141.3,2532.6 1126.4,2529.1 1111.3,2524.1 1096.0,2517.6 1080.8,2509.8 1065.7,2500.6 1050.8,2490.3 1036.4,2478.8 1022.6,2466.3 1009.5,2453.0 997.2,2438.9 985.9,2424.2 975.6,2409.0 966.5,2393.4 958.7,2377.7 952.1,2362.0 947.0,2346.4 943.3,2331.1 941.0,2316.1 940.3,2301.8 941.0,2288.1 943.3,2275.3 947.0,2263.5 952.1,2252.7 958.7,2243.1 966.5,2234.7 975.6,2227.8 985.9,2222.2 997.2,2218.1 1009.5,2215.5 1022.6,2214.4 1036.4,2214.9 1050.8,2216.9 1065.7,2220.5 1080.8,2225.5 1096.0,2231.9 1111.3,2239.8 1126.4,2248.9 1141.3,2259.3 1155.7,2270.7 1169.5,2283.2 1182.6,2296.6 1194.9,2310.7 1206.2,2325.4 1216.5,2340.6 1225.6,2356.1 1233.4,2371.8 1240.0,2387.5 1245.1,2403.1 1248.8,2418.5 1251.1,2433.4Z" fill="none" stroke="#FFA500" stroke-opacity="0.5" stroke-width="3.8"/>
<path d="M1257.7,2445.7 1257.0,2459.3 1254.8,2472.1 1251.1,2484.0 1246.1,2494.8 1239.7,2504.4 1232.1,2512.7 1223.2,2519.7 1213.2,2525.3 1202.1,2529.4 1190.2,2532.0 1177.4,2533.1 1163.9,2532.6 1149.8,2530.6 1135.4,2527.0 1120.6,2522.0 1105.7,2515.5 1090.9,2507.7 1076.1,2498.5 1061.6,2488.2 1047.6,2476.7 1034.1,2464.3 1021.3,2450.9 1009.4,2436.8 998.3,2422.1 988.3,2406.9 979.4,2391.4 971.7,2375.7 965.4,2359.9 960.3,2344.3 956.7,2329.0 954.5,2314.1 953.8,2299.7 954.5,2286.1 956.7,2273.3 960.3,2261.4 965.4,2250.6 971.7,2241.0 979.4,2232.7 988.3,2225.7 998.3,2220.1 1009.4,2216.0 1021.3,2213.4 1034.1,2212.3 1047.6,2212.8 1061.6,2214.8 1076.1,2218.4 1090.9,2223.4 1105.7,2229.9 1120.6,2237.7 1135.4,2246.9 1149.8,2257.2 1163.9,2268.7 1177.4,2281.1 1190.2,2294.5 1202.1,2308.6 1213.2,2323.3 1223.2,2338.5 1232.1,2354.0 1239.7,2369.7 1246.1,2385.5 1251.1,2401.1 1254.8,2416.4 1257.0,2431.3Z" fill="none" stroke="#191970" stroke-opacity="0.45" stroke-width="3.8"/>
<path d="M1254.7,2441.5 1253.9,2455.2 1251.6,2468.0 1247.8,2479.9 1242.5,2490.6 1235.8,2500.3 1227.7,2508.6 1218.4,2515.6 1207.9,2521.2 1196.2,2525.3 1183.6,2527.9 1170.2,2529.0 1156.0,2528.5 1141.2,2526.5 1126.0,2522.9 1110.4,2517.9 1094.8,2511.4 1079.1,2503.6 1063.6,2494.4 1048.3,2484.1 1033.6,2472.6 1019.4,2460.1 1005.9,2446.7 993.3,2432.6 981.7,2417.9 971.1,2402.7 961.8,2387.2 953.7,2371.4 947.0,2355.7 941.7,2340.1 937.9,2324.7 935.6,2309.8 934.8,2295.4 935.6,2281.8 937.9,2268.9 941.7,2257.1 947.0,2246.3 953.7,2236.7 961.8,2228.3 971.1,2221.3 981.7,2215.7 993.3,2211.6 1005.9,2209.0 1019.4,2208.0 1033.6,2208.5 1048.3,2210.5 1063.6,2214.0 1079.1,2219.1 1094.8,2225.5 1110.4,2233.4 1126.0,2242.5 1141.2,2252.9 1156.0,2264.4 1170.2,2276.8 1183.6,2290.2 1196.2,2304.3 1207.9,2319.0 1218.4,2334.2 1227.7,2349.8 1235.8,2365.5 1242.5,2381.2 1247.8,2396.9 1251.6,2412.2 1253.9,2427.1Z" fill="none" stroke="#C71585" stroke-opacity="0.4" stroke-width="3.8"/>
</g>
<g clip-path="url(#c42)">
<path d="M1764.6,2358.4 1763.8,2374.1 1761.6,2389.7 1757.8,2405.3 1752.5,2420.5 1745.9,2435.3 1737.9,2449.5 1728.7,2463.0 1718.2,2475.6 1706.7,2487.3 1694.2,2497.8 1680.9,2507.2 1666.8,2515.3 1652.2,2522.1 1637.1,2527.4 1621.8,2531.2 1606.3,2533.6 1590.7,2534.4 1575.4,2533.6 1560.3,2531.3 1545.7,2527.6 1531.6,2522.3 1518.3,2515.6 1505.8,2507.6 1494.3,2498.2 1483.9,2487.7 1474.6,2476.1 1466.6,2463.5 1460.0,2450.1 1454.7,2435.9 1451.0,2421.1 1448.7,2405.9 1447.9,2390.4 1448.7,2374.7 1451.0,2359.0 1454.7,2343.5 1460.0,2328.2 1466.6,2313.4 1474.6,2299.2 1483.9,2285.8 1494.3,2273.1 1505.8,2261.5 1518.3,2250.9 1531.6,2241.5 1545.7,2233.4 1560.3,2226.7 1575.4,2221.4 1590.7,2217.5 1606.3,2215.2 1621.8,2214.4 1637.1,2215.1 1652.2,2217.4 1666.8,2221.2 1680.9,2226.4 1694.2,2233.1 1706.7,2241.2 1718.2,2250.5 1728.7,2261.0 1737.9,2272.6 1745.9,2285.2 1752.5,2298.7 1757.8,2312.9 1761.6,2327.6 1763.8,2342.8Z M1705.8,2361.5 1705.4,2371.0 1704.0,2380.6 1701.6,2390.0 1698.4,2399.3 1694.3,2408.3 1689.3,2417.0 1683.6,2425.2 1677.1,2432.9 1670.0,2439.9 1662.3,2446.4 1654.0,2452.1 1645.3,2457.0 1636.3,2461.1 1626.9,2464.4 1617.4,2466.7 1607.8,2468.1 1598.2,2468.6 1588.7,2468.2 1579.3,2466.8 1570.3,2464.5 1561.6,2461.3 1553.3,2457.2 1545.6,2452.3 1538.5,2446.6 1532.0,2440.2 1526.3,2433.2 1521.3,2425.5 1517.2,2417.3 1514.0,2408.7 1511.6,2399.7 1510.2,2390.4 1509.8,2380.9 1510.2,2371.4 1511.6,2361.9 1514.0,2352.4 1517.2,2343.1 1521.3,2334.1 1526.3,2325.5 1532.0,2317.3 1538.5,2309.6 1545.6,2302.5 1553.3,2296.0 1561.6,2290.3 1570.3,2285.4 1579.3,2281.3 1588.7,2278.1 1598.2,2275.7 1607.8,2274.3 1617.4,2273.8 1626.9,2274.3 1636.3,2275.6 1645.3,2277.9 1654.0,2281.1 1662.3,2285.2 1670.0,2290.1 1677.1,2295.8 1683.6,2302.2 1689.3,2309.3 1694.3,2316.9 1698.4,2325.1 1701.6,2333.8 1704.0,2342.7 1705.4,2352.0Z" fill-rule="evenodd" stroke="none" fill="#FFDB99" fill-opacity="1.0"/>
<path d="M1705.8,2361.5 1705.4,2371.0 1704.0,2380.6 1701.6,2390.0 1698.4,2399.3 1694.3,2408.3 1689.3,2417.0 1683.6,2425.2 1677.1,2432.9 1670.0,2439.9 1662.3,2446.4 1654.0,2452.1 1645.3,2457.0 1636.3,2461.1 1626.9,2464.4 1617.4,2466.7 1607.8,2468.1 1598.2,2468.6 1588.7,2468.2 1579.3,2466.8 1570.3,2464.5 1561.6,2461.3 1553.3,2457.2 1545.6,2452.3 1538.5,2446.6 1532.0,2440.2 1526.3,2433.2 1521.3,2425.5 1517.2,2417.3 1514.0,2408.7 1511.6,2399.7 1510.2,2390.4 1509.8,2380.9 1510.2,2371.4 1511.6,2361.9 1514.0,2352.4 1517.2,2343.1 1521.3,2334.1 1526.3,2325.5 1532.0,2317.3 1538.5,2309.6 1545.6,2302.5 1553.3,2296.0 1561.6,2290.3 1570.3,2285.4 1579.3,2281.3 1588.7,2278.1 1598.2,2275.7 1607.8,2274.3 1617.4,2273.8 1626.9,2274.3 1636.3,2275.6 1645.3,2277.9 1654.0,2281.1 1662.3,2285.2 1670.0,2290.1 1677.1,2295.8 1683.6,2302.2 1689.3,2309.3 1694.3,2316.9 1698.4,2325.1 1701.6,2333.8 1704.0,2342.7 1705.4,2352.0Z" stroke="none" fill="#FFA500" fill-opacity="1.0"/>
<path d="M1761.9,2356.3 1761.2,2372.0 1758.9,2387.7 1755.2,2403.2 1750.0,2418.4 1743.4,2433.2 1735.4,2447.4 1726.3,2460.9 1715.9,2473.6 1704.5,2485.2 1692.1,2495.8 1678.9,2505.1 1664.9,2513.2 1650.4,2520.0 1635.5,2525.3 1620.2,2529.2 1604.8,2531.5 1589.4,2532.3 1574.2,2531.6 1559.2,2529.3 1544.7,2525.5 1530.7,2520.2 1517.5,2513.5 1505.1,2505.5 1493.7,2496.2 1483.4,2485.7 1474.2,2474.0 1466.2,2461.5 1459.7,2448.0 1454.5,2433.8 1450.7,2419.0 1448.5,2403.8 1447.7,2388.3 1448.5,2372.6 1450.7,2356.9 1454.5,2341.4 1459.7,2326.2 1466.2,2311.4 1474.2,2297.2 1483.4,2283.7 1493.7,2271.1 1505.1,2259.4 1517.5,2248.8 1530.7,2239.5 1544.7,2231.4 1559.2,2224.6 1574.2,2219.3 1589.4,2215.5 1604.8,2213.1 1620.2,2212.3 1635.5,2213.1 1650.4,2215.3 1664.9,2219.1 1678.9,2224.4 1692.1,2231.1 1704.5,2239.1 1715.9,2248.4 1726.3,2258.9 1735.4,2270.6 1743.4,2283.2 1750.0,2296.6 1755.2,2310.8 1758.9,2325.6 1761.2,2340.8Z M1703.6,2359.4 1703.2,2368.9 1701.8,2378.5 1699.4,2388.0 1696.2,2397.2 1692.1,2406.2 1687.2,2414.9 1681.5,2423.1 1675.1,2430.8 1668.1,2437.9 1660.4,2444.3 1652.2,2450.0 1643.6,2455.0 1634.6,2459.1 1625.3,2462.3 1615.9,2464.6 1606.3,2466.1 1596.8,2466.5 1587.4,2466.1 1578.1,2464.7 1569.1,2462.4 1560.5,2459.2 1552.3,2455.1 1544.6,2450.2 1537.6,2444.6 1531.1,2438.2 1525.5,2431.1 1520.5,2423.4 1516.5,2415.2 1513.2,2406.6 1510.9,2397.6 1509.5,2388.3 1509.1,2378.9 1509.5,2369.3 1510.9,2359.8 1513.2,2350.3 1516.5,2341.1 1520.5,2332.0 1525.5,2323.4 1531.1,2315.2 1537.6,2307.5 1544.6,2300.4 1552.3,2294.0 1560.5,2288.3 1569.1,2283.3 1578.1,2279.2 1587.4,2276.0 1596.8,2273.6 1606.3,2272.2 1615.9,2271.7 1625.3,2272.2 1634.6,2273.6 1643.6,2275.9 1652.2,2279.1 1660.4,2283.1 1668.1,2288.0 1675.1,2293.7 1681.5,2300.1 1687.2,2307.2 1692.1,2314.9 1696.2,2323.1 1699.4,2331.7 1701.8,2340.7 1703.2,2349.9Z" fill-rule="evenodd" stroke="none" fill="#A3A3C6" fill-opacity="0.85"/>
<path d="M1703.6,2359.4 1703.2,2368.9 1701.8,2378.5 1699.4,2388.0 1696.2,2397.2 1692.1,2406.2 1687.2,2414.9 1681.5,2423.1 1675.1,2430.8 1668.1,2437.9 1660.4,2444.3 1652.2,2450.0 1643.6,2455.0 1634.6,2459.1 1625.3,2462.3 1615.9,2464.6 1606.3,2466.1 1596.8,2466.5 1587.4,2466.1 1578.1,2464.7 1569.1,2462.4 1560.5,2459.2 1552.3,2455.1 1544.6,2450.2 1537.6,2444.6 1531.1,2438.2 1525.5,2431.1 1520.5,2423.4 1516.5,2415.2 1513.2,2406.6 1510.9,2397.6 1509.5,2388.3 1509.1,2378.9 1509.5,2369.3 1510.9,2359.8 1513.2,2350.3 1516.5,2341.1 1520.5,2332.0 1525.5,2323.4 1531.1,2315.2 1537.6,2307.5 1544.6,2300.4 1552.3,2294.0 1560.5,2288.3 1569.1,2283.3 1578.1,2279.2 1587.4,2276.0 1596.8,2273.6 1606.3,2272.2 1615.9,2271.7 1625.3,2272.2 1634.6,2273.6 1643.6,2275.9 1652.2,2279.1 1660.4,2283.1 1668.1,2288.0 1675.1,2293.7 1681.5,2300.1 1687.2,2307.2 1692.1,2314.9 1696.2,2323.1 1699.4,2331.7 1701.8,2340.7 1703.2,2349.9Z" stroke="none" fill="#191970" fill-opacity="0.85"/>
<path d="M1768.5,2352.1 1767.7,2367.7 1765.4,2383.4 1761.5,2399.0 1756.2,2414.2 1749.5,2429.0 1741.3,2443.3 1731.9,2456.8 1721.3,2469.4 1709.6,2481.1 1697.0,2491.6 1683.4,2501.0 1669.1,2509.1 1654.3,2515.9 1638.9,2521.2 1623.3,2525.0 1607.6,2527.4 1591.8,2528.2 1576.2,2527.4 1560.8,2525.2 1546.0,2521.4 1531.7,2516.1 1518.2,2509.4 1505.5,2501.4 1493.8,2492.0 1483.2,2481.5 1473.8,2469.9 1465.6,2457.3 1458.9,2443.8 1453.6,2429.6 1449.7,2414.8 1447.4,2399.6 1446.6,2384.1 1447.4,2368.4 1449.7,2352.7 1453.6,2337.1 1458.9,2321.9 1465.6,2307.1 1473.8,2292.9 1483.2,2279.4 1493.8,2266.7 1505.5,2255.1 1518.2,2244.5 1531.7,2235.1 1546.0,2227.0 1560.8,2220.3 1576.2,2214.9 1591.8,2211.1 1607.6,2208.7 1623.3,2207.9 1638.9,2208.7 1654.3,2211.0 1669.1,2214.7 1683.4,2220.0 1697.0,2226.7 1709.6,2234.8 1721.3,2244.1 1731.9,2254.6 1741.3,2266.2 1749.5,2278.8 1756.2,2292.3 1761.5,2306.5 1765.4,2321.3 1767.7,2336.5Z M1708.7,2355.2 1708.2,2364.7 1706.8,2374.3 1704.4,2383.7 1701.1,2393.0 1697.0,2402.0 1691.9,2410.7 1686.1,2418.9 1679.5,2426.6 1672.3,2433.7 1664.4,2440.1 1656.1,2445.9 1647.2,2450.8 1638.0,2454.9 1628.5,2458.1 1618.9,2460.5 1609.1,2461.9 1599.3,2462.4 1589.7,2461.9 1580.2,2460.6 1571.0,2458.2 1562.1,2455.0 1553.7,2451.0 1545.9,2446.1 1538.6,2440.4 1532.1,2434.0 1526.3,2426.9 1521.2,2419.2 1517.1,2411.0 1513.8,2402.4 1511.4,2393.4 1509.9,2384.1 1509.5,2374.7 1509.9,2365.1 1511.4,2355.5 1513.8,2346.1 1517.1,2336.8 1521.2,2327.8 1526.3,2319.1 1532.1,2310.9 1538.6,2303.2 1545.9,2296.1 1553.7,2289.7 1562.1,2284.0 1571.0,2279.0 1580.2,2274.9 1589.7,2271.7 1599.3,2269.3 1609.1,2267.9 1618.9,2267.4 1628.5,2267.9 1638.0,2269.2 1647.2,2271.6 1656.1,2274.8 1664.4,2278.8 1672.3,2283.7 1679.5,2289.4 1686.1,2295.8 1691.9,2302.9 1697.0,2310.6 1701.1,2318.8 1704.4,2327.4 1706.8,2336.4 1708.2,2345.7Z" fill-rule="evenodd" stroke="none" fill="#DFA1CE" fill-opacity="0.8"/>
<path d="M1708.7,2355.2 1708.2,2364.7 1706.8,2374.3 1704.4,2383.7 1701.1,2393.0 1697.0,2402.0 1691.9,2410.7 1686.1,2418.9 1679.5,2426.6 1672.3,2433.7 1664.4,2440.1 1656.1,2445.9 1647.2,2450.8 1638.0,2454.9 1628.5,2458.1 1618.9,2460.5 1609.1,2461.9 1599.3,2462.4 1589.7,2461.9 1580.2,2460.6 1571.0,2458.2 1562.1,2455.0 1553.7,2451.0 1545.9,2446.1 1538.6,2440.4 1532.1,2434.0 1526.3,2426.9 1521.2,2419.2 1517.1,2411.0 1513.8,2402.4 1511.4,2393.4 1509.9,2384.1 1509.5,2374.7 1509.9,2365.1 1511.4,2355.5 1513.8,2346.1 1517.1,2336.8 1521.2,2327.8 1526.3,2319.1 1532.1,2310.9 1538.6,2303.2 1545.9,2296.1 1553.7,2289.7 1562.1,2284.0 1571.0,2279.0 1580.2,2274.9 1589.7,2271.7 1599.3,2269.3 1609.1,2267.9 1618.9,2267.4 1628.5,2267.9 1638.0,2269.2 1647.2,2271.6 1656.1,2274.8 1664.4,2278.8 1672.3,2283.7 1679.5,2289.4 1686.1,2295.8 1691.9,2302.9 1697.0,2310.6 1701.1,2318.8 1704.4,2327.4 1706.8,2336.4 1708.2,2345.7Z" stroke="none" fill="#BF4595" fill-opacity="0.8"/>
<path d="M1764.6,2358.4 1763.8,2374.1 1761.6,2389.7 1757.8,2405.3 1752.5,2420.5 1745.9,2435.3 1737.9,2449.5 1728.7,2463.0 1718.2,2475.6 1706.7,2487.3 1694.2,2497.8 1680.9,2507.2 1666.8,2515.3 1652.2,2522.1 1637.1,2527.4 1621.8,2531.2 1606.3,2533.6 1590.7,2534.4 1575.4,2533.6 1560.3,2531.3 1545.7,2527.6 1531.6,2522.3 1518.3,2515.6 1505.8,2507.6 1494.3,2498.2 1483.9,2487.7 1474.6,2476.1 1466.6,2463.5 1460.0,2450.1 1454.7,2435.9 1451.0,2421.1 1448.7,2405.9 1447.9,2390.4 1448.7,2374.7 1451.0,2359.0 1454.7,2343.5 1460.0,2328.2 1466.6,2313.4 1474.6,2299.2 1483.9,2285.8 1494.3,2273.1 1505.8,2261.5 1518.3,2250.9 1531.6,2241.5 1545.7,2233.4 1560.3,2226.7 1575.4,2221.4 1590.7,2217.5 1606.3,2215.2 1621.8,2214.4 1637.1,2215.1 1652.2,2217.4 1666.8,2221.2 1680.9,2226.4 1694.2,2233.1 1706.7,2241.2 1718.2,2250.5 1728.7,2261.0 1737.9,2272.6 1745.9,2285.2 1752.5,2298.7 1757.8,2312.9 1761.6,2327.6 1763.8,2342.8Z" fill="none" stroke="#FFA500" stroke-opacity="0.5" stroke-width="3.8"/>
<path d="M1761.9,2356.3 1761.2,2372.0 1758.9,2387.7 1755.2,2403.2 1750.0,2418.4 1743.4,2433.2 1735.4,2447.4 1726.3,2460.9 1715.9,2473.6 1704.5,2485.2 1692.1,2495.8 1678.9,2505.1 1664.9,2513.2 1650.4,2520.0 1635.5,2525.3 1620.2,2529.2 1604.8,2531.5 1589.4,2532.3 1574.2,2531.6 1559.2,2529.3 1544.7,2525.5 1530.7,2520.2 1517.5,2513.5 1505.1,2505.5 1493.7,2496.2 1483.4,2485.7 1474.2,2474.0 1466.2,2461.5 1459.7,2448.0 1454.5,2433.8 1450.7,2419.0 1448.5,2403.8 1447.7,2388.3 1448.5,2372.6 1450.7,2356.9 1454.5,2341.4 1459.7,2326.2 1466.2,2311.4 1474.2,2297.2 1483.4,2283.7 1493.7,2271.1 1505.1,2259.4 1517.5,2248.8 1530.7,2239.5 1544.7,2231.4 1559.2,2224.6 1574.2,2219.3 1589.4,2215.5 1604.8,2213.1 1620.2,2212.3 1635.5,2213.1 1650.4,2215.3 1664.9,2219.1 1678.9,2224.4 1692.1,2231.1 1704.5,2239.1 1715.9,2248.4 1726.3,2258.9 1735.4,2270.6 1743.4,2283.2 1750.0,2296.6 1755.2,2310.8 1758.9,2325.6 1761.2,2340.8Z" fill="none" stroke="#191970" stroke-opacity="0.45" stroke-width="3.8"/>
<path d="M1768.5,2352.1 1767.7,2367.7 1765.4,2383.4 1761.5,2399.0 1756.2,2414.2 1749.5,2429.0 1741.3,2443.3 1731.9,2456.8 1721.3,2469.4 1709.6,2481.1 1697.0,2491.6 1683.4,2501.0 1669.1,2509.1 1654.3,2515.9 1638.9,2521.2 1623.3,2525.0 1607.6,2527.4 1591.8,2528.2 1576.2,2527.4 1560.8,2525.2 1546.0,2521.4 1531.7,2516.1 1518.2,2509.4 1505.5,2501.4 1493.8,2492.0 1483.2,2481.5 1473.8,2469.9 1465.6,2457.3 1458.9,2443.8 1453.6,2429.6 1449.7,2414.8 1447.4,2399.6 1446.6,2384.1 1447.4,2368.4 1449.7,2352.7 1453.6,2337.1 1458.9,2321.9 1465.6,2307.1 1473.8,2292.9 1483.2,2279.4 1493.8,2266.7 1505.5,2255.1 1518.2,2244.5 1531.7,2235.1 1546.0,2227.0 1560.8,2220.3 1576.2,2214.9 1591.8,2211.1 1607.6,2208.7 1623.3,2207.9 1638.9,2208.7 1654.3,2211.0 1669.1,2214.7 1683.4,2220.0 1697.0,2226.7 1709.6,2234.8 1721.3,2244.1 1731.9,2254.6 1741.3,2266.2 1749.5,2278.8 1756.2,2292.3 1761.5,2306.5 1765.4,2321.3 1767.7,2336.5Z" fill="none" stroke="#C71585" stroke-opacity="0.4" stroke-width="3.8"/>
</g>
<g clip-path="url(#c43)">
<path d="M2267.0,2533.4 2266.2,2534.4 2264.1,2533.9 2260.5,2531.9 2255.5,2528.3 2249.2,2523.3 2241.6,2516.9 2232.8,2509.0 2222.8,2500.0 2211.9,2489.7 2200.0,2478.3 2187.3,2465.9 2174.0,2452.6 2160.0,2438.6 2145.7,2424.0 2131.1,2408.9 2116.3,2393.5 2101.5,2378.0 2086.9,2362.4 2072.6,2346.9 2058.6,2331.7 2045.3,2316.9 2032.6,2302.7 2020.7,2289.2 2009.8,2276.5 1999.8,2264.8 1991.0,2254.1 1983.4,2244.6 1977.1,2236.4 1972.1,2229.5 1968.5,2224.0 1966.4,2220.0 1965.6,2217.5 1966.4,2216.4 1968.5,2217.0 1972.1,2219.0 1977.1,2222.6 1983.4,2227.6 1991.0,2234.0 1999.8,2241.8 2009.8,2250.9 2020.7,2261.2 2032.6,2272.6 2045.3,2285.0 2058.6,2298.3 2072.6,2312.3 2086.9,2326.9 2101.5,2341.9 2116.3,2357.3 2131.1,2372.9 2145.7,2388.5 2160.0,2404.0 2174.0,2419.2 2187.3,2434.0 2200.0,2448.2 2211.9,2461.7 2222.8,2474.4 2232.8,2486.1 2241.6,2496.7 2249.2,2506.2 2255.5,2514.5 2260.5,2521.4 2264.1,2526.9 2266.2,2530.9Z M2207.6,2469.7 2207.2,2470.4 2205.9,2470.0 2203.7,2468.8 2200.6,2466.6 2196.8,2463.5 2192.1,2459.6 2186.8,2454.8 2180.7,2449.2 2174.0,2442.9 2166.8,2435.9 2159.0,2428.3 2150.9,2420.2 2142.4,2411.6 2133.6,2402.6 2124.7,2393.3 2115.7,2383.9 2106.7,2374.3 2097.8,2364.8 2089.0,2355.3 2080.5,2346.0 2072.4,2336.9 2064.6,2328.2 2057.4,2319.9 2050.7,2312.1 2044.6,2304.9 2039.3,2298.4 2034.6,2292.5 2030.8,2287.5 2027.7,2283.2 2025.5,2279.9 2024.2,2277.4 2023.8,2275.9 2024.2,2275.2 2025.5,2275.5 2027.7,2276.8 2030.8,2279.0 2034.6,2282.1 2039.3,2286.0 2044.6,2290.8 2050.7,2296.4 2057.4,2302.7 2064.6,2309.7 2072.4,2317.3 2080.5,2325.4 2089.0,2334.0 2097.8,2343.0 2106.7,2352.2 2115.7,2361.7 2124.7,2371.2 2133.6,2380.8 2142.4,2390.3 2150.9,2399.6 2159.0,2408.7 2166.8,2417.4 2174.0,2425.7 2180.7,2433.5 2186.8,2440.7 2192.1,2447.2 2196.8,2453.1 2200.6,2458.1 2203.7,2462.3 2205.9,2465.7 2207.2,2468.2Z" fill-rule="evenodd" stroke="none" fill="#FFDB99" fill-opacity="1.0"/>
<path d="M2207.6,2469.7 2207.2,2470.4 2205.9,2470.0 2203.7,2468.8 2200.6,2466.6 2196.8,2463.5 2192.1,2459.6 2186.8,2454.8 2180.7,2449.2 2174.0,2442.9 2166.8,2435.9 2159.0,2428.3 2150.9,2420.2 2142.4,2411.6 2133.6,2402.6 2124.7,2393.3 2115.7,2383.9 2106.7,2374.3 2097.8,2364.8 2089.0,2355.3 2080.5,2346.0 2072.4,2336.9 2064.6,2328.2 2057.4,2319.9 2050.7,2312.1 2044.6,2304.9 2039.3,2298.4 2034.6,2292.5 2030.8,2287.5 2027.7,2283.2 2025.5,2279.9 2024.2,2277.4 2023.8,2275.9 2024.2,2275.2 2025.5,2275.5 2027.7,2276.8 2030.8,2279.0 2034.6,2282.1 2039.3,2286.0 2044.6,2290.8 2050.7,2296.4 2057.4,2302.7 2064.6,2309.7 2072.4,2317.3 2080.5,2325.4 2089.0,2334.0 2097.8,2343.0 2106.7,2352.2 2115.7,2361.7 2124.7,2371.2 2133.6,2380.8 2142.4,2390.3 2150.9,2399.6 2159.0,2408.7 2166.8,2417.4 2174.0,2425.7 2180.7,2433.5 2186.8,2440.7 2192.1,2447.2 2196.8,2453.1 2200.6,2458.1 2203.7,2462.3 2205.9,2465.7 2207.2,2468.2Z" stroke="none" fill="#FFA500" fill-opacity="1.0"/>
<path d="M2266.1,2533.8 2265.4,2534.9 2263.2,2534.3 2259.6,2532.3 2254.6,2528.7 2248.2,2523.7 2240.6,2517.3 2231.7,2509.5 2221.8,2500.4 2210.7,2490.1 2198.8,2478.7 2186.1,2466.3 2172.6,2453.0 2158.6,2439.0 2144.2,2424.4 2129.5,2409.4 2114.7,2394.0 2099.8,2378.4 2085.1,2362.8 2070.7,2347.3 2056.7,2332.1 2043.3,2317.3 2030.5,2303.1 2018.6,2289.6 2007.6,2276.9 1997.6,2265.2 1988.8,2254.6 1981.1,2245.1 1974.8,2236.8 1969.8,2229.9 1966.2,2224.4 1964.0,2220.4 1963.2,2217.9 1964.0,2216.9 1966.2,2217.4 1969.8,2219.4 1974.8,2223.0 1981.1,2228.0 1988.8,2234.4 1997.6,2242.3 2007.6,2251.3 2018.6,2261.6 2030.5,2273.0 2043.3,2285.4 2056.7,2298.7 2070.7,2312.7 2085.1,2327.3 2099.8,2342.4 2114.7,2357.8 2129.5,2373.3 2144.2,2388.9 2158.6,2404.4 2172.6,2419.6 2186.1,2434.4 2198.8,2448.6 2210.7,2462.1 2221.8,2474.8 2231.7,2486.5 2240.6,2497.2 2248.2,2506.7 2254.6,2514.9 2259.6,2521.8 2263.2,2527.3 2265.4,2531.3Z M2206.5,2470.1 2206.0,2470.8 2204.7,2470.5 2202.5,2469.2 2199.4,2467.0 2195.6,2463.9 2190.9,2460.0 2185.5,2455.2 2179.4,2449.6 2172.7,2443.3 2165.4,2436.3 2157.6,2428.7 2149.4,2420.6 2140.9,2412.0 2132.1,2403.0 2123.1,2393.8 2114.1,2384.3 2105.0,2374.8 2096.1,2365.2 2087.3,2355.7 2078.7,2346.4 2070.5,2337.3 2062.7,2328.6 2055.5,2320.3 2048.7,2312.5 2042.7,2305.3 2037.3,2298.8 2032.6,2292.9 2028.7,2287.9 2025.7,2283.7 2023.5,2280.3 2022.1,2277.8 2021.7,2276.3 2022.1,2275.6 2023.5,2276.0 2025.7,2277.2 2028.7,2279.4 2032.6,2282.5 2037.3,2286.4 2042.7,2291.2 2048.7,2296.8 2055.5,2303.1 2062.7,2310.1 2070.5,2317.7 2078.7,2325.8 2087.3,2334.4 2096.1,2343.4 2105.0,2352.7 2114.1,2362.1 2123.1,2371.7 2132.1,2381.2 2140.9,2390.7 2149.4,2400.0 2157.6,2409.1 2165.4,2417.8 2172.7,2426.1 2179.4,2433.9 2185.5,2441.1 2190.9,2447.6 2195.6,2453.5 2199.4,2458.5 2202.5,2462.8 2204.7,2466.1 2206.0,2468.6Z" fill-rule="evenodd" stroke="none" fill="#A3A3C6" fill-opacity="0.85"/>
<path d="M2206.5,2470.1 2206.0,2470.8 2204.7,2470.5 2202.5,2469.2 2199.4,2467.0 2195.6,2463.9 2190.9,2460.0 2185.5,2455.2 2179.4,2449.6 2172.7,2443.3 2165.4,2436.3 2157.6,2428.7 2149.4,2420.6 2140.9,2412.0 2132.1,2403.0 2123.1,2393.8 2114.1,2384.3 2105.0,2374.8 2096.1,2365.2 2087.3,2355.7 2078.7,2346.4 2070.5,2337.3 2062.7,2328.6 2055.5,2320.3 2048.7,2312.5 2042.7,2305.3 2037.3,2298.8 2032.6,2292.9 2028.7,2287.9 2025.7,2283.7 2023.5,2280.3 2022.1,2277.8 2021.7,2276.3 2022.1,2275.6 2023.5,2276.0 2025.7,2277.2 2028.7,2279.4 2032.6,2282.5 2037.3,2286.4 2042.7,2291.2 2048.7,2296.8 2055.5,2303.1 2062.7,2310.1 2070.5,2317.7 2078.7,2325.8 2087.3,2334.4 2096.1,2343.4 2105.0,2352.7 2114.1,2362.1 2123.1,2371.7 2132.1,2381.2 2140.9,2390.7 2149.4,2400.0 2157.6,2409.1 2165.4,2417.8 2172.7,2426.1 2179.4,2433.9 2185.5,2441.1 2190.9,2447.6 2195.6,2453.5 2199.4,2458.5 2202.5,2462.8 2204.7,2466.1 2206.0,2468.6Z" stroke="none" fill="#191970" fill-opacity="0.85"/>
<path d="M2266.1,2532.1 2265.3,2533.1 2263.1,2532.6 2259.5,2530.5 2254.5,2527.0 2248.1,2521.9 2240.5,2515.5 2231.6,2507.7 2221.6,2498.6 2210.5,2488.3 2198.5,2476.9 2185.8,2464.5 2172.3,2451.2 2158.2,2437.2 2143.8,2422.6 2129.0,2407.5 2114.1,2392.1 2099.2,2376.5 2084.5,2360.9 2070.0,2345.4 2056.0,2330.2 2042.5,2315.4 2029.7,2301.2 2017.7,2287.7 2006.7,2275.0 1996.7,2263.2 1987.8,2252.6 1980.1,2243.1 1973.7,2234.8 1968.7,2227.9 1965.1,2222.4 1962.9,2218.4 1962.2,2215.8 1962.9,2214.8 1965.1,2215.4 1968.7,2217.4 1973.7,2221.0 1980.1,2226.0 1987.8,2232.4 1996.7,2240.2 2006.7,2249.4 2017.7,2259.7 2029.7,2271.1 2042.5,2283.5 2056.0,2296.7 2070.0,2310.7 2084.5,2325.3 2099.2,2340.4 2114.1,2355.8 2129.0,2371.4 2143.8,2387.0 2158.2,2402.5 2172.3,2417.7 2185.8,2432.5 2198.5,2446.7 2210.5,2460.3 2221.6,2473.0 2231.6,2484.7 2240.5,2495.4 2248.1,2504.9 2254.5,2513.1 2259.5,2520.0 2263.1,2525.5 2265.3,2529.5Z M2206.2,2468.3 2205.8,2469.0 2204.5,2468.6 2202.2,2467.4 2199.2,2465.2 2195.3,2462.1 2190.6,2458.2 2185.2,2453.4 2179.1,2447.8 2172.3,2441.5 2165.0,2434.5 2157.2,2426.9 2149.0,2418.7 2140.4,2410.1 2131.6,2401.1 2122.6,2391.9 2113.5,2382.4 2104.4,2372.9 2095.4,2363.3 2086.6,2353.8 2078.0,2344.5 2069.8,2335.4 2062.0,2326.7 2054.7,2318.4 2048.0,2310.6 2041.9,2303.4 2036.4,2296.8 2031.8,2291.0 2027.9,2285.9 2024.8,2281.7 2022.6,2278.3 2021.3,2275.8 2020.8,2274.3 2021.3,2273.7 2022.6,2274.0 2024.8,2275.2 2027.9,2277.4 2031.8,2280.5 2036.4,2284.5 2041.9,2289.3 2048.0,2294.8 2054.7,2301.2 2062.0,2308.2 2069.8,2315.8 2078.0,2323.9 2086.6,2332.5 2095.4,2341.5 2104.4,2350.7 2113.5,2360.2 2122.6,2369.8 2131.6,2379.3 2140.4,2388.8 2149.0,2398.2 2157.2,2407.2 2165.0,2416.0 2172.3,2424.3 2179.1,2432.1 2185.2,2439.3 2190.6,2445.8 2195.3,2451.6 2199.2,2456.7 2202.2,2460.9 2204.5,2464.3 2205.8,2466.8Z" fill-rule="evenodd" stroke="none" fill="#DFA1CE" fill-opacity="0.8"/>
<path d="M2206.2,2468.3 2205.8,2469.0 2204.5,2468.6 2202.2,2467.4 2199.2,2465.2 2195.3,2462.1 2190.6,2458.2 2185.2,2453.4 2179.1,2447.8 2172.3,2441.5 2165.0,2434.5 2157.2,2426.9 2149.0,2418.7 2140.4,2410.1 2131.6,2401.1 2122.6,2391.9 2113.5,2382.4 2104.4,2372.9 2095.4,2363.3 2086.6,2353.8 2078.0,2344.5 2069.8,2335.4 2062.0,2326.7 2054.7,2318.4 2048.0,2310.6 2041.9,2303.4 2036.4,2296.8 2031.8,2291.0 2027.9,2285.9 2024.8,2281.7 2022.6,2278.3 2021.3,2275.8 2020.8,2274.3 2021.3,2273.7 2022.6,2274.0 2024.8,2275.2 2027.9,2277.4 2031.8,2280.5 2036.4,2284.5 2041.9,2289.3 2048.0,2294.8 2054.7,2301.2 2062.0,2308.2 2069.8,2315.8 2078.0,2323.9 2086.6,2332.5 2095.4,2341.5 2104.4,2350.7 2113.5,2360.2 2122.6,2369.8 2131.6,2379.3 2140.4,2388.8 2149.0,2398.2 2157.2,2407.2 2165.0,2416.0 2172.3,2424.3 2179.1,2432.1 2185.2,2439.3 2190.6,2445.8 2195.3,2451.6 2199.2,2456.7 2202.2,2460.9 2204.5,2464.3 2205.8,2466.8Z" stroke="none" fill="#BF4595" fill-opacity="0.8"/>
<path d="M2267.0,2533.4 2266.2,2534.4 2264.1,2533.9 2260.5,2531.9 2255.5,2528.3 2249.2,2523.3 2241.6,2516.9 2232.8,2509.0 2222.8,2500.0 2211.9,2489.7 2200.0,2478.3 2187.3,2465.9 2174.0,2452.6 2160.0,2438.6 2145.7,2424.0 2131.1,2408.9 2116.3,2393.5 2101.5,2378.0 2086.9,2362.4 2072.6,2346.9 2058.6,2331.7 2045.3,2316.9 2032.6,2302.7 2020.7,2289.2 2009.8,2276.5 1999.8,2264.8 1991.0,2254.1 1983.4,2244.6 1977.1,2236.4 1972.1,2229.5 1968.5,2224.0 1966.4,2220.0 1965.6,2217.5 1966.4,2216.4 1968.5,2217.0 1972.1,2219.0 1977.1,2222.6 1983.4,2227.6 1991.0,2234.0 1999.8,2241.8 2009.8,2250.9 2020.7,2261.2 2032.6,2272.6 2045.3,2285.0 2058.6,2298.3 2072.6,2312.3 2086.9,2326.9 2101.5,2341.9 2116.3,2357.3 2131.1,2372.9 2145.7,2388.5 2160.0,2404.0 2174.0,2419.2 2187.3,2434.0 2200.0,2448.2 2211.9,2461.7 2222.8,2474.4 2232.8,2486.1 2241.6,2496.7 2249.2,2506.2 2255.5,2514.5 2260.5,2521.4 2264.1,2526.9 2266.2,2530.9Z" fill="none" stroke="#FFA500" stroke-opacity="0.5" stroke-width="3.8"/>
<path d="M2266.1,2533.8 2265.4,2534.9 2263.2,2534.3 2259.6,2532.3 2254.6,2528.7 2248.2,2523.7 2240.6,2517.3 2231.7,2509.5 2221.8,2500.4 2210.7,2490.1 2198.8,2478.7 2186.1,2466.3 2172.6,2453.0 2158.6,2439.0 2144.2,2424.4 2129.5,2409.4 2114.7,2394.0 2099.8,2378.4 2085.1,2362.8 2070.7,2347.3 2056.7,2332.1 2043.3,2317.3 2030.5,2303.1 2018.6,2289.6 2007.6,2276.9 1997.6,2265.2 1988.8,2254.6 1981.1,2245.1 1974.8,2236.8 1969.8,2229.9 1966.2,2224.4 1964.0,2220.4 1963.2,2217.9 1964.0,2216.9 1966.2,2217.4 1969.8,2219.4 1974.8,2223.0 1981.1,2228.0 1988.8,2234.4 1997.6,2242.3 2007.6,2251.3 2018.6,2261.6 2030.5,2273.0 2043.3,2285.4 2056.7,2298.7 2070.7,2312.7 2085.1,2327.3 2099.8,2342.4 2114.7,2357.8 2129.5,2373.3 2144.2,2388.9 2158.6,2404.4 2172.6,2419.6 2186.1,2434.4 2198.8,2448.6 2210.7,2462.1 2221.8,2474.8 2231.7,2486.5 2240.6,2497.2 2248.2,2506.7 2254.6,2514.9 2259.6,2521.8 2263.2,2527.3 2265.4,2531.3Z" fill="none" stroke="#191970" stroke-opacity="0.45" stroke-width="3.8"/>
<path d="M2266.1,2532.1 2265.3,2533.1 2263.1,2532.6 2259.5,2530.5 2254.5,2527.0 2248.1,2521.9 2240.5,2515.5 2231.6,2507.7 2221.6,2498.6 2210.5,2488.3 2198.5,2476.9 2185.8,2464.5 2172.3,2451.2 2158.2,2437.2 2143.8,2422.6 2129.0,2407.5 2114.1,2392.1 2099.2,2376.5 2084.5,2360.9 2070.0,2345.4 2056.0,2330.2 2042.5,2315.4 2029.7,2301.2 2017.7,2287.7 2006.7,2275.0 1996.7,2263.2 1987.8,2252.6 1980.1,2243.1 1973.7,2234.8 1968.7,2227.9 1965.1,2222.4 1962.9,2218.4 1962.2,2215.8 1962.9,2214.8 1965.1,2215.4 1968.7,2217.4 1973.7,2221.0 1980.1,2226.0 1987.8,2232.4 1996.7,2240.2 2006.7,2249.4 2017.7,2259.7 2029.7,2271.1 2042.5,2283.5 2056.0,2296.7 2070.0,2310.7 2084.5,2325.3 2099.2,2340.4 2114.1,2355.8 2129.0,2371.4 2143.8,2387.0 2158.2,2402.5 2172.3,2417.7 2185.8,2432.5 2198.5,2446.7 2210.5,2460.3 2221.6,2473.0 2231.6,2484.7 2240.5,2495.4 2248.1,2504.9 2254.5,2513.1 2259.5,2520.0 2263.1,2525.5 2265.3,2529.5Z" fill="none" stroke="#C71585" stroke-opacity="0.4" stroke-width="3.8"/>
</g>
<g clip-path="url(#c50)">
<path d="M755.2,2911.9 754.4,2927.9 752.2,2943.6 748.5,2958.8 743.3,2973.5 736.8,2987.4 728.9,3000.4 719.8,3012.4 709.5,3023.3 698.2,3032.9 685.9,3041.3 672.8,3048.2 659.0,3053.7 644.6,3057.7 629.8,3060.1 614.6,3061.0 599.4,3060.2 584.1,3057.9 569.0,3054.0 554.1,3048.6 539.7,3041.8 525.9,3033.5 512.8,3023.9 500.5,3013.1 489.2,3001.1 478.9,2988.2 469.8,2974.4 461.9,2959.8 455.4,2944.6 450.2,2928.9 446.5,2912.9 444.3,2896.8 443.5,2880.6 444.3,2864.6 446.5,2849.0 450.2,2833.7 455.4,2819.1 461.9,2805.2 469.8,2792.2 478.9,2780.2 489.2,2769.3 500.5,2759.6 512.8,2751.3 525.9,2744.3 539.7,2738.8 554.1,2734.9 569.0,2732.4 584.1,2731.6 599.4,2732.3 614.6,2734.7 629.8,2738.5 644.6,2743.9 659.0,2750.8 672.8,2759.1 685.9,2768.7 698.2,2779.5 709.5,2791.4 719.8,2804.4 728.9,2818.2 736.8,2832.8 743.3,2848.0 748.5,2863.7 752.2,2879.6 754.4,2895.8Z M694.5,2904.5 694.1,2914.6 692.7,2924.5 690.4,2934.2 687.2,2943.4 683.1,2952.2 678.2,2960.4 672.6,2968.0 666.2,2974.8 659.2,2980.9 651.5,2986.2 643.4,2990.6 634.8,2994.1 625.9,2996.6 616.6,2998.1 607.3,2998.6 597.8,2998.2 588.3,2996.7 578.9,2994.3 569.7,2990.9 560.7,2986.5 552.2,2981.3 544.0,2975.2 536.4,2968.4 529.3,2960.9 523.0,2952.7 517.3,2944.0 512.4,2934.7 508.4,2925.1 505.2,2915.3 502.9,2905.2 501.5,2895.0 501.0,2884.8 501.5,2874.7 502.9,2864.8 505.2,2855.2 508.4,2845.9 512.4,2837.2 517.3,2828.9 523.0,2821.4 529.3,2814.5 536.4,2808.4 544.0,2803.1 552.2,2798.7 560.7,2795.2 569.7,2792.7 578.9,2791.2 588.3,2790.7 597.8,2791.1 607.3,2792.6 616.6,2795.1 625.9,2798.5 634.8,2802.8 643.4,2808.0 651.5,2814.1 659.2,2820.9 666.2,2828.4 672.6,2836.6 678.2,2845.4 683.1,2854.6 687.2,2864.2 690.4,2874.1 692.7,2884.2 694.1,2894.3Z" fill-rule="evenodd" stroke="none" fill="#FFDB99" fill-opacity="1.0"/>
<path d="M694.5,2904.5 694.1,2914.6 692.7,2924.5 690.4,2934.2 687.2,2943.4 683.1,2952.2 678.2,2960.4 672.6,2968.0 666.2,2974.8 659.2,2980.9 651.5,2986.2 643.4,2990.6 634.8,2994.1 625.9,2996.6 616.6,2998.1 607.3,2998.6 597.8,2998.2 588.3,2996.7 578.9,2994.3 569.7,2990.9 560.7,2986.5 552.2,2981.3 544.0,2975.2 536.4,2968.4 529.3,2960.9 523.0,2952.7 517.3,2944.0 512.4,2934.7 508.4,2925.1 505.2,2915.3 502.9,2905.2 501.5,2895.0 501.0,2884.8 501.5,2874.7 502.9,2864.8 505.2,2855.2 508.4,2845.9 512.4,2837.2 517.3,2828.9 523.0,2821.4 529.3,2814.5 536.4,2808.4 544.0,2803.1 552.2,2798.7 560.7,2795.2 569.7,2792.7 578.9,2791.2 588.3,2790.7 597.8,2791.1 607.3,2792.6 616.6,2795.1 625.9,2798.5 634.8,2802.8 643.4,2808.0 651.5,2814.1 659.2,2820.9 666.2,2828.4 672.6,2836.6 678.2,2845.4 683.1,2854.6 687.2,2864.2 690.4,2874.1 692.7,2884.2 694.1,2894.3Z" stroke="none" fill="#FFA500" fill-opacity="1.0"/>
<path d="M741.4,2914.7 740.6,2930.8 738.5,2946.6 734.9,2962.0 729.9,2976.7 723.6,2990.7 716.0,3003.8 707.2,3015.9 697.3,3026.9 686.3,3036.6 674.5,3045.0 661.8,3052.0 648.4,3057.6 634.5,3061.6 620.2,3064.0 605.6,3064.9 590.8,3064.1 576.1,3061.8 561.4,3057.9 547.1,3052.4 533.2,3045.5 519.8,3037.2 507.2,3027.5 495.3,3016.6 484.4,3004.6 474.4,2991.5 465.6,2977.6 458.0,2962.9 451.7,2947.6 446.7,2931.8 443.2,2915.7 441.0,2899.4 440.3,2883.2 441.0,2867.0 443.2,2851.2 446.7,2835.9 451.7,2821.1 458.0,2807.1 465.6,2794.0 474.4,2781.9 484.4,2771.0 495.3,2761.2 507.2,2752.8 519.8,2745.8 533.2,2740.3 547.1,2736.3 561.4,2733.8 576.1,2733.0 590.8,2733.7 605.6,2736.1 620.2,2740.0 634.5,2745.4 648.4,2752.3 661.8,2760.7 674.5,2770.3 686.3,2781.2 697.3,2793.3 707.2,2806.3 716.0,2820.2 723.6,2834.9 729.9,2850.3 734.9,2866.0 738.5,2882.2 740.6,2898.4Z M679.0,2907.2 678.6,2917.4 677.2,2927.4 675.0,2937.1 672.0,2946.4 668.1,2955.2 663.5,2963.5 658.1,2971.2 652.1,2978.1 645.4,2984.2 638.1,2989.5 630.4,2994.0 622.2,2997.5 613.7,3000.0 605.0,3001.5 596.0,3002.1 587.0,3001.6 578.0,3000.1 569.1,2997.6 560.3,2994.2 551.8,2989.8 543.6,2984.6 535.9,2978.5 528.6,2971.6 522.0,2964.0 515.9,2955.8 510.5,2947.0 505.9,2937.7 502.0,2928.0 499.0,2918.0 496.8,2907.9 495.4,2897.6 495.0,2887.3 495.4,2877.2 496.8,2867.2 499.0,2857.5 502.0,2848.2 505.9,2839.4 510.5,2831.1 515.9,2823.4 522.0,2816.5 528.6,2810.4 535.9,2805.1 543.6,2800.6 551.8,2797.1 560.3,2794.6 569.1,2793.1 578.0,2792.5 587.0,2793.0 596.0,2794.5 605.0,2796.9 613.7,2800.4 622.2,2804.8 630.4,2810.0 638.1,2816.1 645.4,2823.0 652.1,2830.6 658.1,2838.8 663.5,2847.6 668.1,2856.9 672.0,2866.6 675.0,2876.5 677.2,2886.7 678.6,2897.0Z" fill-rule="evenodd" stroke="none" fill="#A3A3C6" fill-opacity="0.85"/>
<path d="M679.0,2907.2 678.6,2917.4 677.2,2927.4 675.0,2937.1 672.0,2946.4 668.1,2955.2 663.5,2963.5 658.1,2971.2 652.1,2978.1 645.4,2984.2 638.1,2989.5 630.4,2994.0 622.2,2997.5 613.7,3000.0 605.0,3001.5 596.0,3002.1 587.0,3001.6 578.0,3000.1 569.1,2997.6 560.3,2994.2 551.8,2989.8 543.6,2984.6 535.9,2978.5 528.6,2971.6 522.0,2964.0 515.9,2955.8 510.5,2947.0 505.9,2937.7 502.0,2928.0 499.0,2918.0 496.8,2907.9 495.4,2897.6 495.0,2887.3 495.4,2877.2 496.8,2867.2 499.0,2857.5 502.0,2848.2 505.9,2839.4 510.5,2831.1 515.9,2823.4 522.0,2816.5 528.6,2810.4 535.9,2805.1 543.6,2800.6 551.8,2797.1 560.3,2794.6 569.1,2793.1 578.0,2792.5 587.0,2793.0 596.0,2794.5 605.0,2796.9 613.7,2800.4 622.2,2804.8 630.4,2810.0 638.1,2816.1 645.4,2823.0 652.1,2830.6 658.1,2838.8 663.5,2847.6 668.1,2856.9 672.0,2866.6 675.0,2876.5 677.2,2886.7 678.6,2897.0Z" stroke="none" fill="#191970" fill-opacity="0.85"/>
<path d="M754.5,2912.9 753.7,2929.0 751.5,2944.9 747.8,2960.2 742.6,2975.0 736.1,2989.0 728.3,3002.2 719.2,3014.3 708.9,3025.3 697.6,3035.1 685.3,3043.5 672.2,3050.5 658.4,3056.1 644.1,3060.1 629.3,3062.5 614.2,3063.4 598.9,3062.6 583.7,3060.3 568.6,3056.4 553.7,3050.9 539.4,3044.0 525.6,3035.6 512.5,3025.9 500.2,3015.0 488.9,3003.0 478.6,2989.9 469.5,2975.9 461.7,2961.2 455.2,2945.8 450.0,2930.0 446.3,2913.9 444.1,2897.6 443.3,2881.3 444.1,2865.1 446.3,2849.3 450.0,2833.9 455.2,2819.1 461.7,2805.1 469.5,2791.9 478.6,2779.8 488.9,2768.8 500.2,2759.0 512.5,2750.6 525.6,2743.6 539.4,2738.0 553.7,2734.0 568.6,2731.6 583.7,2730.7 598.9,2731.5 614.2,2733.8 629.3,2737.8 644.1,2743.2 658.4,2750.1 672.2,2758.5 685.3,2768.2 697.6,2779.1 708.9,2791.2 719.2,2804.2 728.3,2818.2 736.1,2832.9 742.6,2848.3 747.8,2864.1 751.5,2880.3 753.7,2896.6Z M693.9,2905.4 693.5,2915.6 692.1,2925.6 689.8,2935.3 686.6,2944.7 682.5,2953.5 677.7,2961.8 672.0,2969.5 665.6,2976.4 658.6,2982.6 651.0,2987.9 642.9,2992.3 634.3,2995.8 625.4,2998.4 616.2,2999.9 606.8,3000.4 597.3,3000.0 587.9,2998.5 578.5,2996.0 569.3,2992.6 560.3,2988.2 551.8,2982.9 543.6,2976.8 536.0,2969.9 529.0,2962.3 522.6,2954.0 517.0,2945.2 512.1,2935.9 508.1,2926.2 504.9,2916.2 502.6,2906.0 501.2,2895.8 500.7,2885.5 501.2,2875.3 502.6,2865.3 504.9,2855.5 508.1,2846.2 512.1,2837.4 517.0,2829.1 522.6,2821.4 529.0,2814.5 536.0,2808.3 543.6,2803.0 551.8,2798.6 560.3,2795.0 569.3,2792.5 578.5,2791.0 587.9,2790.4 597.3,2790.9 606.8,2792.4 616.2,2794.9 625.4,2798.3 634.3,2802.7 642.9,2808.0 651.0,2814.1 658.6,2821.0 665.6,2828.6 672.0,2836.8 677.7,2845.7 682.5,2855.0 686.6,2864.7 689.8,2874.6 692.1,2884.8 693.5,2895.1Z" fill-rule="evenodd" stroke="none" fill="#DFA1CE" fill-opacity="0.8"/>
<path d="M693.9,2905.4 693.5,2915.6 692.1,2925.6 689.8,2935.3 686.6,2944.7 682.5,2953.5 677.7,2961.8 672.0,2969.5 665.6,2976.4 658.6,2982.6 651.0,2987.9 642.9,2992.3 634.3,2995.8 625.4,2998.4 616.2,2999.9 606.8,3000.4 597.3,3000.0 587.9,2998.5 578.5,2996.0 569.3,2992.6 560.3,2988.2 551.8,2982.9 543.6,2976.8 536.0,2969.9 529.0,2962.3 522.6,2954.0 517.0,2945.2 512.1,2935.9 508.1,2926.2 504.9,2916.2 502.6,2906.0 501.2,2895.8 500.7,2885.5 501.2,2875.3 502.6,2865.3 504.9,2855.5 508.1,2846.2 512.1,2837.4 517.0,2829.1 522.6,2821.4 529.0,2814.5 536.0,2808.3 543.6,2803.0 551.8,2798.6 560.3,2795.0 569.3,2792.5 578.5,2791.0 587.9,2790.4 597.3,2790.9 606.8,2792.4 616.2,2794.9 625.4,2798.3 634.3,2802.7 642.9,2808.0 651.0,2814.1 658.6,2821.0 665.6,2828.6 672.0,2836.8 677.7,2845.7 682.5,2855.0 686.6,2864.7 689.8,2874.6 692.1,2884.8 693.5,2895.1Z" stroke="none" fill="#BF4595" fill-opacity="0.8"/>
<path d="M755.2,2911.9 754.4,2927.9 752.2,2943.6 748.5,2958.8 743.3,2973.5 736.8,2987.4 728.9,3000.4 719.8,3012.4 709.5,3023.3 698.2,3032.9 685.9,3041.3 672.8,3048.2 659.0,3053.7 644.6,3057.7 629.8,3060.1 614.6,3061.0 599.4,3060.2 584.1,3057.9 569.0,3054.0 554.1,3048.6 539.7,3041.8 525.9,3033.5 512.8,3023.9 500.5,3013.1 489.2,3001.1 478.9,2988.2 469.8,2974.4 461.9,2959.8 455.4,2944.6 450.2,2928.9 446.5,2912.9 444.3,2896.8 443.5,2880.6 444.3,2864.6 446.5,2849.0 450.2,2833.7 455.4,2819.1 461.9,2805.2 469.8,2792.2 478.9,2780.2 489.2,2769.3 500.5,2759.6 512.8,2751.3 525.9,2744.3 539.7,2738.8 554.1,2734.9 569.0,2732.4 584.1,2731.6 599.4,2732.3 614.6,2734.7 629.8,2738.5 644.6,2743.9 659.0,2750.8 672.8,2759.1 685.9,2768.7 698.2,2779.5 709.5,2791.4 719.8,2804.4 728.9,2818.2 736.8,2832.8 743.3,2848.0 748.5,2863.7 752.2,2879.6 754.4,2895.8Z" fill="none" stroke="#FFA500" stroke-opacity="0.5" stroke-width="3.8"/>
<path d="M741.4,2914.7 740.6,2930.8 738.5,2946.6 734.9,2962.0 729.9,2976.7 723.6,2990.7 716.0,3003.8 707.2,3015.9 697.3,3026.9 686.3,3036.6 674.5,3045.0 661.8,3052.0 648.4,3057.6 634.5,3061.6 620.2,3064.0 605.6,3064.9 590.8,3064.1 576.1,3061.8 561.4,3057.9 547.1,3052.4 533.2,3045.5 519.8,3037.2 507.2,3027.5 495.3,3016.6 484.4,3004.6 474.4,2991.5 465.6,2977.6 458.0,2962.9 451.7,2947.6 446.7,2931.8 443.2,2915.7 441.0,2899.4 440.3,2883.2 441.0,2867.0 443.2,2851.2 446.7,2835.9 451.7,2821.1 458.0,2807.1 465.6,2794.0 474.4,2781.9 484.4,2771.0 495.3,2761.2 507.2,2752.8 519.8,2745.8 533.2,2740.3 547.1,2736.3 561.4,2733.8 576.1,2733.0 590.8,2733.7 605.6,2736.1 620.2,2740.0 634.5,2745.4 648.4,2752.3 661.8,2760.7 674.5,2770.3 686.3,2781.2 697.3,2793.3 707.2,2806.3 716.0,2820.2 723.6,2834.9 729.9,2850.3 734.9,2866.0 738.5,2882.2 740.6,2898.4Z" fill="none" stroke="#191970" stroke-opacity="0.45" stroke-width="3.8"/>
<path d="M754.5,2912.9 753.7,2929.0 751.5,2944.9 747.8,2960.2 742.6,2975.0 736.1,2989.0 728.3,3002.2 719.2,3014.3 708.9,3025.3 697.6,3035.1 685.3,3043.5 672.2,3050.5 658.4,3056.1 644.1,3060.1 629.3,3062.5 614.2,3063.4 598.9,3062.6 583.7,3060.3 568.6,3056.4 553.7,3050.9 539.4,3044.0 525.6,3035.6 512.5,3025.9 500.2,3015.0 488.9,3003.0 478.6,2989.9 469.5,2975.9 461.7,2961.2 455.2,2945.8 450.0,2930.0 446.3,2913.9 444.1,2897.6 443.3,2881.3 444.1,2865.1 446.3,2849.3 450.0,2833.9 455.2,2819.1 461.7,2805.1 469.5,2791.9 478.6,2779.8 488.9,2768.8 500.2,2759.0 512.5,2750.6 525.6,2743.6 539.4,2738.0 553.7,2734.0 568.6,2731.6 583.7,2730.7 598.9,2731.5 614.2,2733.8 629.3,2737.8 644.1,2743.2 658.4,2750.1 672.2,2758.5 685.3,2768.2 697.6,2779.1 708.9,2791.2 719.2,2804.2 728.3,2818.2 736.1,2832.9 742.6,2848.3 747.8,2864.1 751.5,2880.3 753.7,2896.6Z" fill="none" stroke="#C71585" stroke-opacity="0.4" stroke-width="3.8"/>
</g>
<g clip-path="url(#c51)">
<path d="M1250.7,2946.5 1250.0,2961.6 1247.8,2976.1 1244.1,2989.8 1239.0,3002.6 1232.6,3014.4 1224.8,3025.0 1215.9,3034.4 1205.7,3042.5 1194.6,3049.1 1182.5,3054.2 1169.5,3057.8 1155.9,3059.9 1141.7,3060.3 1127.1,3059.2 1112.2,3056.5 1097.1,3052.2 1082.1,3046.5 1067.2,3039.2 1052.6,3030.6 1038.4,3020.7 1024.7,3009.6 1011.8,2997.4 999.7,2984.1 988.5,2970.1 978.4,2955.3 969.5,2939.9 961.7,2924.1 955.3,2908.1 950.2,2891.9 946.5,2875.7 944.3,2859.7 943.6,2844.1 944.3,2829.0 946.5,2814.5 950.2,2800.7 955.3,2787.9 961.7,2776.2 969.5,2765.5 978.4,2756.1 988.5,2748.1 999.7,2741.5 1011.8,2736.3 1024.7,2732.7 1038.4,2730.7 1052.6,2730.2 1067.2,2731.4 1082.1,2734.1 1097.1,2738.3 1112.2,2744.1 1127.1,2751.3 1141.7,2759.9 1155.9,2769.9 1169.5,2781.0 1182.5,2793.2 1194.6,2806.4 1205.7,2820.5 1215.9,2835.3 1224.8,2850.6 1232.6,2866.4 1239.0,2882.5 1244.1,2898.7 1247.8,2914.9 1250.0,2930.8Z M1188.0,2926.4 1187.5,2936.0 1186.2,2945.1 1183.9,2953.8 1180.8,2961.9 1176.8,2969.3 1172.0,2976.0 1166.5,2981.9 1160.3,2987.0 1153.4,2991.1 1145.9,2994.4 1138.0,2996.7 1129.6,2998.0 1120.8,2998.2 1111.8,2997.5 1102.6,2995.8 1093.4,2993.1 1084.1,2989.5 1074.9,2984.9 1065.9,2979.5 1057.2,2973.3 1048.8,2966.2 1040.8,2958.5 1033.4,2950.2 1026.5,2941.3 1020.2,2932.0 1014.7,2922.3 1009.9,2912.4 1006.0,2902.2 1002.8,2892.0 1000.6,2881.8 999.2,2871.7 998.8,2861.9 999.2,2852.3 1000.6,2843.2 1002.8,2834.5 1006.0,2826.5 1009.9,2819.0 1014.7,2812.3 1020.2,2806.4 1026.5,2801.3 1033.4,2797.2 1040.8,2793.9 1048.8,2791.7 1057.2,2790.4 1065.9,2790.1 1074.9,2790.8 1084.1,2792.5 1093.4,2795.2 1102.6,2798.8 1111.8,2803.4 1120.8,2808.8 1129.6,2815.1 1138.0,2822.1 1145.9,2829.8 1153.4,2838.1 1160.3,2847.0 1166.5,2856.3 1172.0,2866.0 1176.8,2876.0 1180.8,2886.1 1183.9,2896.3 1186.2,2906.5 1187.5,2916.6Z" fill-rule="evenodd" stroke="none" fill="#FFDB99" fill-opacity="1.0"/>
<path d="M1188.0,2926.4 1187.5,2936.0 1186.2,2945.1 1183.9,2953.8 1180.8,2961.9 1176.8,2969.3 1172.0,2976.0 1166.5,2981.9 1160.3,2987.0 1153.4,2991.1 1145.9,2994.4 1138.0,2996.7 1129.6,2998.0 1120.8,2998.2 1111.8,2997.5 1102.6,2995.8 1093.4,2993.1 1084.1,2989.5 1074.9,2984.9 1065.9,2979.5 1057.2,2973.3 1048.8,2966.2 1040.8,2958.5 1033.4,2950.2 1026.5,2941.3 1020.2,2932.0 1014.7,2922.3 1009.9,2912.4 1006.0,2902.2 1002.8,2892.0 1000.6,2881.8 999.2,2871.7 998.8,2861.9 999.2,2852.3 1000.6,2843.2 1002.8,2834.5 1006.0,2826.5 1009.9,2819.0 1014.7,2812.3 1020.2,2806.4 1026.5,2801.3 1033.4,2797.2 1040.8,2793.9 1048.8,2791.7 1057.2,2790.4 1065.9,2790.1 1074.9,2790.8 1084.1,2792.5 1093.4,2795.2 1102.6,2798.8 1111.8,2803.4 1120.8,2808.8 1129.6,2815.1 1138.0,2822.1 1145.9,2829.8 1153.4,2838.1 1160.3,2847.0 1166.5,2856.3 1172.0,2866.0 1176.8,2876.0 1180.8,2886.1 1183.9,2896.3 1186.2,2906.5 1187.5,2916.6Z" stroke="none" fill="#FFA500" fill-opacity="1.0"/>
<path d="M1256.6,2949.5 1255.9,2964.7 1253.7,2979.3 1250.1,2993.2 1245.2,3006.1 1238.9,3017.9 1231.3,3028.7 1222.6,3038.1 1212.7,3046.2 1201.8,3052.9 1190.0,3058.1 1177.4,3061.7 1164.1,3063.8 1150.3,3064.2 1136.1,3063.1 1121.5,3060.4 1106.8,3056.1 1092.2,3050.2 1077.6,3043.0 1063.4,3034.3 1049.5,3024.3 1036.3,3013.1 1023.7,3000.8 1011.9,2987.5 1001.0,2973.3 991.1,2958.4 982.3,2942.9 974.8,2927.0 968.5,2910.8 963.6,2894.5 960.0,2878.2 957.8,2862.1 957.1,2846.4 957.8,2831.1 960.0,2816.5 963.6,2802.7 968.5,2789.8 974.8,2777.9 982.3,2767.2 991.1,2757.7 1001.0,2749.6 1011.9,2743.0 1023.7,2737.8 1036.3,2734.1 1049.5,2732.1 1063.4,2731.6 1077.6,2732.7 1092.2,2735.5 1106.8,2739.8 1121.5,2745.6 1136.1,2752.9 1150.3,2761.5 1164.1,2771.5 1177.4,2782.8 1190.0,2795.1 1201.8,2808.4 1212.7,2822.6 1222.6,2837.4 1231.3,2852.9 1238.9,2868.8 1245.2,2885.0 1250.1,2901.4 1253.7,2917.6 1255.9,2933.7Z M1198.5,2929.3 1198.1,2938.9 1196.7,2948.1 1194.5,2956.9 1191.4,2965.0 1187.5,2972.5 1182.8,2979.2 1177.3,2985.2 1171.1,2990.3 1164.3,2994.5 1156.9,2997.8 1149.1,3000.1 1140.8,3001.4 1132.1,3001.7 1123.2,3000.9 1114.1,2999.2 1105.0,2996.5 1095.8,2992.9 1086.7,2988.3 1077.8,2982.8 1069.2,2976.5 1060.9,2969.4 1053.0,2961.6 1045.6,2953.3 1038.8,2944.3 1032.6,2934.9 1027.2,2925.2 1022.5,2915.1 1018.5,2904.9 1015.4,2894.6 1013.2,2884.4 1011.9,2874.2 1011.4,2864.3 1011.9,2854.7 1013.2,2845.5 1015.4,2836.7 1018.5,2828.6 1022.5,2821.1 1027.2,2814.4 1032.6,2808.4 1038.8,2803.3 1045.6,2799.1 1053.0,2795.8 1060.9,2793.5 1069.2,2792.2 1077.8,2791.9 1086.7,2792.6 1095.8,2794.4 1105.0,2797.1 1114.1,2800.7 1123.2,2805.3 1132.1,2810.8 1140.8,2817.1 1149.1,2824.2 1156.9,2831.9 1164.3,2840.3 1171.1,2849.3 1177.3,2858.7 1182.8,2868.4 1187.5,2878.5 1191.4,2888.7 1194.5,2899.0 1196.7,2909.2 1198.1,2919.4Z" fill-rule="evenodd" stroke="none" fill="#A3A3C6" fill-opacity="0.85"/>
<path d="M1198.5,2929.3 1198.1,2938.9 1196.7,2948.1 1194.5,2956.9 1191.4,2965.0 1187.5,2972.5 1182.8,2979.2 1177.3,2985.2 1171.1,2990.3 1164.3,2994.5 1156.9,2997.8 1149.1,3000.1 1140.8,3001.4 1132.1,3001.7 1123.2,3000.9 1114.1,2999.2 1105.0,2996.5 1095.8,2992.9 1086.7,2988.3 1077.8,2982.8 1069.2,2976.5 1060.9,2969.4 1053.0,2961.6 1045.6,2953.3 1038.8,2944.3 1032.6,2934.9 1027.2,2925.2 1022.5,2915.1 1018.5,2904.9 1015.4,2894.6 1013.2,2884.4 1011.9,2874.2 1011.4,2864.3 1011.9,2854.7 1013.2,2845.5 1015.4,2836.7 1018.5,2828.6 1022.5,2821.1 1027.2,2814.4 1032.6,2808.4 1038.8,2803.3 1045.6,2799.1 1053.0,2795.8 1060.9,2793.5 1069.2,2792.2 1077.8,2791.9 1086.7,2792.6 1095.8,2794.4 1105.0,2797.1 1114.1,2800.7 1123.2,2805.3 1132.1,2810.8 1140.8,2817.1 1149.1,2824.2 1156.9,2831.9 1164.3,2840.3 1171.1,2849.3 1177.3,2858.7 1182.8,2868.4 1187.5,2878.5 1191.4,2888.7 1194.5,2899.0 1196.7,2909.2 1198.1,2919.4Z" stroke="none" fill="#191970" fill-opacity="0.85"/>
<path d="M1253.6,2947.7 1252.8,2963.0 1250.6,2977.7 1246.8,2991.5 1241.6,3004.5 1235.0,3016.4 1227.0,3027.1 1217.8,3036.6 1207.4,3044.7 1195.9,3051.4 1183.5,3056.6 1170.2,3060.2 1156.2,3062.3 1141.7,3062.7 1126.6,3061.6 1111.3,3058.9 1095.9,3054.6 1080.4,3048.7 1065.1,3041.4 1050.1,3032.7 1035.5,3022.7 1021.5,3011.5 1008.2,2999.1 995.8,2985.8 984.3,2971.6 973.9,2956.7 964.7,2941.1 956.8,2925.2 950.1,2909.0 944.9,2892.6 941.2,2876.3 938.9,2860.2 938.1,2844.4 938.9,2829.1 941.2,2814.4 944.9,2800.6 950.1,2787.6 956.8,2775.8 964.7,2765.0 973.9,2755.5 984.3,2747.4 995.8,2740.7 1008.2,2735.5 1021.5,2731.9 1035.5,2729.8 1050.1,2729.4 1065.1,2730.5 1080.4,2733.2 1095.9,2737.6 1111.3,2743.4 1126.6,2750.7 1141.7,2759.4 1156.2,2769.4 1170.2,2780.6 1183.5,2793.0 1195.9,2806.3 1207.4,2820.5 1217.8,2835.5 1227.0,2851.0 1235.0,2866.9 1241.6,2883.1 1246.8,2899.5 1250.6,2915.8 1252.8,2932.0Z M1189.5,2927.5 1189.0,2937.2 1187.6,2946.4 1185.3,2955.1 1182.1,2963.3 1178.0,2970.8 1173.1,2977.6 1167.4,2983.5 1161.0,2988.7 1154.0,2992.9 1146.3,2996.1 1138.1,2998.4 1129.5,2999.7 1120.5,3000.0 1111.3,2999.3 1101.8,2997.6 1092.3,2994.9 1082.8,2991.2 1073.4,2986.6 1064.1,2981.1 1055.1,2974.8 1046.5,2967.7 1038.3,2959.9 1030.7,2951.5 1023.6,2942.6 1017.2,2933.1 1011.5,2923.4 1006.6,2913.3 1002.5,2903.1 999.3,2892.8 997.0,2882.5 995.6,2872.3 995.1,2862.3 995.6,2852.7 997.0,2843.5 999.3,2834.7 1002.5,2826.6 1006.6,2819.1 1011.5,2812.3 1017.2,2806.3 1023.6,2801.2 1030.7,2797.0 1038.3,2793.7 1046.5,2791.4 1055.1,2790.1 1064.1,2789.8 1073.4,2790.6 1082.8,2792.3 1092.3,2795.0 1101.8,2798.7 1111.3,2803.3 1120.5,2808.8 1129.5,2815.1 1138.1,2822.2 1146.3,2829.9 1154.0,2838.4 1161.0,2847.3 1167.4,2856.7 1173.1,2866.5 1178.0,2876.6 1182.1,2886.8 1185.3,2897.1 1187.6,2907.4 1189.0,2917.6Z" fill-rule="evenodd" stroke="none" fill="#DFA1CE" fill-opacity="0.8"/>
<path d="M1189.5,2927.5 1189.0,2937.2 1187.6,2946.4 1185.3,2955.1 1182.1,2963.3 1178.0,2970.8 1173.1,2977.6 1167.4,2983.5 1161.0,2988.7 1154.0,2992.9 1146.3,2996.1 1138.1,2998.4 1129.5,2999.7 1120.5,3000.0 1111.3,2999.3 1101.8,2997.6 1092.3,2994.9 1082.8,2991.2 1073.4,2986.6 1064.1,2981.1 1055.1,2974.8 1046.5,2967.7 1038.3,2959.9 1030.7,2951.5 1023.6,2942.6 1017.2,2933.1 1011.5,2923.4 1006.6,2913.3 1002.5,2903.1 999.3,2892.8 997.0,2882.5 995.6,2872.3 995.1,2862.3 995.6,2852.7 997.0,2843.5 999.3,2834.7 1002.5,2826.6 1006.6,2819.1 1011.5,2812.3 1017.2,2806.3 1023.6,2801.2 1030.7,2797.0 1038.3,2793.7 1046.5,2791.4 1055.1,2790.1 1064.1,2789.8 1073.4,2790.6 1082.8,2792.3 1092.3,2795.0 1101.8,2798.7 1111.3,2803.3 1120.5,2808.8 1129.5,2815.1 1138.1,2822.2 1146.3,2829.9 1154.0,2838.4 1161.0,2847.3 1167.4,2856.7 1173.1,2866.5 1178.0,2876.6 1182.1,2886.8 1185.3,2897.1 1187.6,2907.4 1189.0,2917.6Z" stroke="none" fill="#BF4595" fill-opacity="0.8"/>
<path d="M1250.7,2946.5 1250.0,2961.6 1247.8,2976.1 1244.1,2989.8 1239.0,3002.6 1232.6,3014.4 1224.8,3025.0 1215.9,3034.4 1205.7,3042.5 1194.6,3049.1 1182.5,3054.2 1169.5,3057.8 1155.9,3059.9 1141.7,3060.3 1127.1,3059.2 1112.2,3056.5 1097.1,3052.2 1082.1,3046.5 1067.2,3039.2 1052.6,3030.6 1038.4,3020.7 1024.7,3009.6 1011.8,2997.4 999.7,2984.1 988.5,2970.1 978.4,2955.3 969.5,2939.9 961.7,2924.1 955.3,2908.1 950.2,2891.9 946.5,2875.7 944.3,2859.7 943.6,2844.1 944.3,2829.0 946.5,2814.5 950.2,2800.7 955.3,2787.9 961.7,2776.2 969.5,2765.5 978.4,2756.1 988.5,2748.1 999.7,2741.5 1011.8,2736.3 1024.7,2732.7 1038.4,2730.7 1052.6,2730.2 1067.2,2731.4 1082.1,2734.1 1097.1,2738.3 1112.2,2744.1 1127.1,2751.3 1141.7,2759.9 1155.9,2769.9 1169.5,2781.0 1182.5,2793.2 1194.6,2806.4 1205.7,2820.5 1215.9,2835.3 1224.8,2850.6 1232.6,2866.4 1239.0,2882.5 1244.1,2898.7 1247.8,2914.9 1250.0,2930.8Z" fill="none" stroke="#FFA500" stroke-opacity="0.5" stroke-width="3.8"/>
<path d="M1256.6,2949.5 1255.9,2964.7 1253.7,2979.3 1250.1,2993.2 1245.2,3006.1 1238.9,3017.9 1231.3,3028.7 1222.6,3038.1 1212.7,3046.2 1201.8,3052.9 1190.0,3058.1 1177.4,3061.7 1164.1,3063.8 1150.3,3064.2 1136.1,3063.1 1121.5,3060.4 1106.8,3056.1 1092.2,3050.2 1077.6,3043.0 1063.4,3034.3 1049.5,3024.3 1036.3,3013.1 1023.7,3000.8 1011.9,2987.5 1001.0,2973.3 991.1,2958.4 982.3,2942.9 974.8,2927.0 968.5,2910.8 963.6,2894.5 960.0,2878.2 957.8,2862.1 957.1,2846.4 957.8,2831.1 960.0,2816.5 963.6,2802.7 968.5,2789.8 974.8,2777.9 982.3,2767.2 991.1,2757.7 1001.0,2749.6 1011.9,2743.0 1023.7,2737.8 1036.3,2734.1 1049.5,2732.1 1063.4,2731.6 1077.6,2732.7 1092.2,2735.5 1106.8,2739.8 1121.5,2745.6 1136.1,2752.9 1150.3,2761.5 1164.1,2771.5 1177.4,2782.8 1190.0,2795.1 1201.8,2808.4 1212.7,2822.6 1222.6,2837.4 1231.3,2852.9 1238.9,2868.8 1245.2,2885.0 1250.1,2901.4 1253.7,2917.6 1255.9,2933.7Z" fill="none" stroke="#191970" stroke-opacity="0.45" stroke-width="3.8"/>
<path d="M1253.6,2947.7 1252.8,2963.0 1250.6,2977.7 1246.8,2991.5 1241.6,3004.5 1235.0,3016.4 1227.0,3027.1 1217.8,3036.6 1207.4,3044.7 1195.9,3051.4 1183.5,3056.6 1170.2,3060.2 1156.2,3062.3 1141.7,3062.7 1126.6,3061.6 1111.3,3058.9 1095.9,3054.6 1080.4,3048.7 1065.1,3041.4 1050.1,3032.7 1035.5,3022.7 1021.5,3011.5 1008.2,2999.1 995.8,2985.8 984.3,2971.6 973.9,2956.7 964.7,2941.1 956.8,2925.2 950.1,2909.0 944.9,2892.6 941.2,2876.3 938.9,2860.2 938.1,2844.4 938.9,2829.1 941.2,2814.4 944.9,2800.6 950.1,2787.6 956.8,2775.8 964.7,2765.0 973.9,2755.5 984.3,2747.4 995.8,2740.7 1008.2,2735.5 1021.5,2731.9 1035.5,2729.8 1050.1,2729.4 1065.1,2730.5 1080.4,2733.2 1095.9,2737.6 1111.3,2743.4 1126.6,2750.7 1141.7,2759.4 1156.2,2769.4 1170.2,2780.6 1183.5,2793.0 1195.9,2806.3 1207.4,2820.5 1217.8,2835.5 1227.0,2851.0 1235.0,2866.9 1241.6,2883.1 1246.8,2899.5 1250.6,2915.8 1252.8,2932.0Z" fill="none" stroke="#C71585" stroke-opacity="0.4" stroke-width="3.8"/>
</g>
<g clip-path="url(#c52)">
<path d="M1761.1,2850.3 1760.3,2866.0 1758.1,2882.1 1754.4,2898.3 1749.3,2914.5 1742.8,2930.5 1735.0,2946.1 1725.9,2961.3 1715.7,2975.8 1704.4,2989.6 1692.2,3002.5 1679.2,3014.3 1665.4,3025.0 1651.1,3034.5 1636.4,3042.6 1621.3,3049.3 1606.2,3054.6 1591.0,3058.3 1575.9,3060.4 1561.2,3061.0 1546.9,3059.9 1533.1,3057.3 1520.1,3053.1 1507.9,3047.4 1496.6,3040.3 1486.4,3031.8 1477.3,3021.9 1469.5,3010.8 1463.0,2998.7 1457.9,2985.5 1454.2,2971.5 1452.0,2956.7 1451.2,2941.4 1452.0,2925.6 1454.2,2909.6 1457.9,2893.4 1463.0,2877.2 1469.5,2861.2 1477.3,2845.5 1486.4,2830.4 1496.6,2815.8 1507.9,2802.0 1520.1,2789.2 1533.1,2777.3 1546.9,2766.6 1561.2,2757.2 1575.9,2749.0 1591.0,2742.3 1606.2,2737.1 1621.3,2733.4 1636.4,2731.3 1651.1,2730.7 1665.4,2731.7 1679.2,2734.4 1692.2,2738.5 1704.4,2744.2 1715.7,2751.4 1725.9,2759.9 1735.0,2769.7 1742.8,2780.8 1749.3,2793.0 1754.4,2806.1 1758.1,2820.2 1760.3,2834.9Z M1704.7,2865.7 1704.3,2875.6 1702.9,2885.8 1700.6,2896.0 1697.4,2906.2 1693.3,2916.3 1688.4,2926.1 1682.7,2935.7 1676.3,2944.9 1669.3,2953.6 1661.6,2961.7 1653.5,2969.2 1644.9,2975.9 1635.9,2981.9 1626.7,2987.0 1617.3,2991.2 1607.7,2994.5 1598.2,2996.9 1588.8,2998.2 1579.6,2998.5 1570.6,2997.9 1562.0,2996.2 1553.9,2993.6 1546.2,2990.0 1539.2,2985.5 1532.8,2980.1 1527.1,2973.9 1522.2,2967.0 1518.1,2959.3 1514.9,2951.0 1512.6,2942.1 1511.2,2932.8 1510.8,2923.2 1511.2,2913.2 1512.6,2903.1 1514.9,2892.9 1518.1,2882.7 1522.2,2872.6 1527.1,2862.7 1532.8,2853.2 1539.2,2844.0 1546.2,2835.3 1553.9,2827.2 1562.0,2819.7 1570.6,2813.0 1579.6,2807.0 1588.8,2801.9 1598.2,2797.7 1607.7,2794.4 1617.3,2792.0 1626.7,2790.7 1635.9,2790.3 1644.9,2791.0 1653.5,2792.6 1661.6,2795.3 1669.3,2798.8 1676.3,2803.3 1682.7,2808.7 1688.4,2814.9 1693.3,2821.9 1697.4,2829.6 1700.6,2837.9 1702.9,2846.7 1704.3,2856.0Z" fill-rule="evenodd" stroke="none" fill="#FFDB99" fill-opacity="1.0"/>
<path d="M1704.7,2865.7 1704.3,2875.6 1702.9,2885.8 1700.6,2896.0 1697.4,2906.2 1693.3,2916.3 1688.4,2926.1 1682.7,2935.7 1676.3,2944.9 1669.3,2953.6 1661.6,2961.7 1653.5,2969.2 1644.9,2975.9 1635.9,2981.9 1626.7,2987.0 1617.3,2991.2 1607.7,2994.5 1598.2,2996.9 1588.8,2998.2 1579.6,2998.5 1570.6,2997.9 1562.0,2996.2 1553.9,2993.6 1546.2,2990.0 1539.2,2985.5 1532.8,2980.1 1527.1,2973.9 1522.2,2967.0 1518.1,2959.3 1514.9,2951.0 1512.6,2942.1 1511.2,2932.8 1510.8,2923.2 1511.2,2913.2 1512.6,2903.1 1514.9,2892.9 1518.1,2882.7 1522.2,2872.6 1527.1,2862.7 1532.8,2853.2 1539.2,2844.0 1546.2,2835.3 1553.9,2827.2 1562.0,2819.7 1570.6,2813.0 1579.6,2807.0 1588.8,2801.9 1598.2,2797.7 1607.7,2794.4 1617.3,2792.0 1626.7,2790.7 1635.9,2790.3 1644.9,2791.0 1653.5,2792.6 1661.6,2795.3 1669.3,2798.8 1676.3,2803.3 1682.7,2808.7 1688.4,2814.9 1693.3,2821.9 1697.4,2829.6 1700.6,2837.9 1702.9,2846.7 1704.3,2856.0Z" stroke="none" fill="#FFA500" fill-opacity="1.0"/>
<path d="M1758.4,2852.5 1757.7,2868.4 1755.5,2884.6 1751.8,2900.9 1746.7,2917.2 1740.3,2933.4 1732.5,2949.1 1723.5,2964.4 1713.4,2979.1 1702.2,2993.0 1690.1,3005.9 1677.2,3017.9 1663.5,3028.6 1649.3,3038.2 1634.7,3046.4 1619.8,3053.1 1604.7,3058.4 1589.6,3062.1 1574.7,3064.3 1560.1,3064.8 1545.9,3063.8 1532.2,3061.2 1519.3,3057.0 1507.2,3051.2 1496.0,3044.0 1485.9,3035.4 1476.9,3025.5 1469.1,3014.4 1462.7,3002.1 1457.6,2988.8 1453.9,2974.7 1451.7,2959.8 1451.0,2944.4 1451.7,2928.5 1453.9,2912.3 1457.6,2896.0 1462.7,2879.7 1469.1,2863.6 1476.9,2847.8 1485.9,2832.5 1496.0,2817.9 1507.2,2804.0 1519.3,2791.0 1532.2,2779.1 1545.9,2768.3 1560.1,2758.8 1574.7,2750.6 1589.6,2743.8 1604.7,2738.5 1619.8,2734.8 1634.7,2732.7 1649.3,2732.1 1663.5,2733.1 1677.2,2735.8 1690.1,2740.0 1702.2,2745.7 1713.4,2752.9 1723.5,2761.5 1732.5,2771.4 1740.3,2782.6 1746.7,2794.8 1751.8,2808.1 1755.5,2822.2 1757.7,2837.1Z M1702.5,2868.1 1702.1,2878.1 1700.7,2888.3 1698.4,2898.6 1695.2,2908.9 1691.2,2919.1 1686.3,2929.0 1680.7,2938.7 1674.3,2947.9 1667.3,2956.6 1659.8,2964.8 1651.7,2972.3 1643.1,2979.1 1634.2,2985.2 1625.1,2990.3 1615.7,2994.6 1606.3,2997.9 1596.9,3000.3 1587.5,3001.6 1578.4,3002.0 1569.5,3001.3 1560.9,2999.6 1552.8,2997.0 1545.2,2993.4 1538.2,2988.8 1531.9,2983.4 1526.3,2977.2 1521.4,2970.1 1517.4,2962.4 1514.2,2954.0 1511.9,2945.1 1510.5,2935.8 1510.1,2926.0 1510.5,2916.0 1511.9,2905.8 1514.2,2895.5 1517.4,2885.2 1521.4,2875.1 1526.3,2865.1 1531.9,2855.5 1538.2,2846.2 1545.2,2837.5 1552.8,2829.3 1560.9,2821.8 1569.5,2815.0 1578.4,2809.0 1587.5,2803.8 1596.9,2799.6 1606.3,2796.2 1615.7,2793.9 1625.1,2792.5 1634.2,2792.2 1643.1,2792.8 1651.7,2794.5 1659.8,2797.1 1667.3,2800.8 1674.3,2805.3 1680.7,2810.7 1686.3,2817.0 1691.2,2824.0 1695.2,2831.7 1698.4,2840.1 1700.7,2849.0 1702.1,2858.4Z" fill-rule="evenodd" stroke="none" fill="#A3A3C6" fill-opacity="0.85"/>
<path d="M1702.5,2868.1 1702.1,2878.1 1700.7,2888.3 1698.4,2898.6 1695.2,2908.9 1691.2,2919.1 1686.3,2929.0 1680.7,2938.7 1674.3,2947.9 1667.3,2956.6 1659.8,2964.8 1651.7,2972.3 1643.1,2979.1 1634.2,2985.2 1625.1,2990.3 1615.7,2994.6 1606.3,2997.9 1596.9,3000.3 1587.5,3001.6 1578.4,3002.0 1569.5,3001.3 1560.9,2999.6 1552.8,2997.0 1545.2,2993.4 1538.2,2988.8 1531.9,2983.4 1526.3,2977.2 1521.4,2970.1 1517.4,2962.4 1514.2,2954.0 1511.9,2945.1 1510.5,2935.8 1510.1,2926.0 1510.5,2916.0 1511.9,2905.8 1514.2,2895.5 1517.4,2885.2 1521.4,2875.1 1526.3,2865.1 1531.9,2855.5 1538.2,2846.2 1545.2,2837.5 1552.8,2829.3 1560.9,2821.8 1569.5,2815.0 1578.4,2809.0 1587.5,2803.8 1596.9,2799.6 1606.3,2796.2 1615.7,2793.9 1625.1,2792.5 1634.2,2792.2 1643.1,2792.8 1651.7,2794.5 1659.8,2797.1 1667.3,2800.8 1674.3,2805.3 1680.7,2810.7 1686.3,2817.0 1691.2,2824.0 1695.2,2831.7 1698.4,2840.1 1700.7,2849.0 1702.1,2858.4Z" stroke="none" fill="#191970" fill-opacity="0.85"/>
<path d="M1765.0,2850.6 1764.2,2866.5 1761.9,2882.7 1758.2,2899.1 1753.0,2915.4 1746.4,2931.6 1738.4,2947.4 1729.2,2962.7 1718.8,2977.4 1707.4,2991.3 1695.0,3004.3 1681.7,3016.3 1667.7,3027.1 1653.2,3036.6 1638.2,3044.8 1622.9,3051.6 1607.5,3056.9 1592.0,3060.6 1576.7,3062.8 1561.7,3063.4 1547.2,3062.3 1533.2,3059.7 1520.0,3055.5 1507.5,3049.7 1496.1,3042.5 1485.7,3033.9 1476.5,3023.9 1468.5,3012.8 1461.9,3000.5 1456.7,2987.2 1453.0,2973.0 1450.7,2958.1 1449.9,2942.6 1450.7,2926.7 1453.0,2910.5 1456.7,2894.1 1461.9,2877.8 1468.5,2861.6 1476.5,2845.8 1485.7,2830.5 1496.1,2815.8 1507.5,2801.9 1520.0,2788.9 1533.2,2776.9 1547.2,2766.1 1561.7,2756.6 1576.7,2748.4 1592.0,2741.6 1607.5,2736.3 1622.9,2732.6 1638.2,2730.4 1653.2,2729.9 1667.7,2730.9 1681.7,2733.5 1695.0,2737.8 1707.4,2743.5 1718.8,2750.7 1729.2,2759.3 1738.4,2769.3 1746.4,2780.5 1753.0,2792.7 1758.2,2806.0 1761.9,2820.2 1764.2,2835.1Z M1707.6,2866.2 1707.1,2876.2 1705.7,2886.5 1703.4,2896.8 1700.1,2907.1 1696.0,2917.3 1691.0,2927.2 1685.2,2936.9 1678.8,2946.1 1671.6,2954.9 1663.8,2963.1 1655.5,2970.7 1646.8,2977.5 1637.7,2983.5 1628.3,2988.7 1618.7,2992.9 1609.0,2996.3 1599.4,2998.6 1589.8,3000.0 1580.4,3000.3 1571.3,2999.7 1562.6,2998.0 1554.3,2995.4 1546.5,2991.7 1539.3,2987.2 1532.8,2981.8 1527.1,2975.5 1522.1,2968.4 1518.0,2960.7 1514.7,2952.3 1512.4,2943.4 1510.9,2934.0 1510.5,2924.2 1510.9,2914.2 1512.4,2904.0 1514.7,2893.6 1518.0,2883.3 1522.1,2873.2 1527.1,2863.2 1532.8,2853.5 1539.3,2844.3 1546.5,2835.5 1554.3,2827.3 1562.6,2819.8 1571.3,2813.0 1580.4,2806.9 1589.8,2801.8 1599.4,2797.5 1609.0,2794.2 1618.7,2791.8 1628.3,2790.4 1637.7,2790.1 1646.8,2790.7 1655.5,2792.4 1663.8,2795.1 1671.6,2798.7 1678.8,2803.2 1685.2,2808.7 1691.0,2814.9 1696.0,2822.0 1700.1,2829.7 1703.4,2838.1 1705.7,2847.0 1707.1,2856.4Z" fill-rule="evenodd" stroke="none" fill="#DFA1CE" fill-opacity="0.8"/>
<path d="M1707.6,2866.2 1707.1,2876.2 1705.7,2886.5 1703.4,2896.8 1700.1,2907.1 1696.0,2917.3 1691.0,2927.2 1685.2,2936.9 1678.8,2946.1 1671.6,2954.9 1663.8,2963.1 1655.5,2970.7 1646.8,2977.5 1637.7,2983.5 1628.3,2988.7 1618.7,2992.9 1609.0,2996.3 1599.4,2998.6 1589.8,3000.0 1580.4,3000.3 1571.3,2999.7 1562.6,2998.0 1554.3,2995.4 1546.5,2991.7 1539.3,2987.2 1532.8,2981.8 1527.1,2975.5 1522.1,2968.4 1518.0,2960.7 1514.7,2952.3 1512.4,2943.4 1510.9,2934.0 1510.5,2924.2 1510.9,2914.2 1512.4,2904.0 1514.7,2893.6 1518.0,2883.3 1522.1,2873.2 1527.1,2863.2 1532.8,2853.5 1539.3,2844.3 1546.5,2835.5 1554.3,2827.3 1562.6,2819.8 1571.3,2813.0 1580.4,2806.9 1589.8,2801.8 1599.4,2797.5 1609.0,2794.2 1618.7,2791.8 1628.3,2790.4 1637.7,2790.1 1646.8,2790.7 1655.5,2792.4 1663.8,2795.1 1671.6,2798.7 1678.8,2803.2 1685.2,2808.7 1691.0,2814.9 1696.0,2822.0 1700.1,2829.7 1703.4,2838.1 1705.7,2847.0 1707.1,2856.4Z" stroke="none" fill="#BF4595" fill-opacity="0.8"/>
<path d="M1761.1,2850.3 1760.3,2866.0 1758.1,2882.1 1754.4,2898.3 1749.3,2914.5 1742.8,2930.5 1735.0,2946.1 1725.9,2961.3 1715.7,2975.8 1704.4,2989.6 1692.2,3002.5 1679.2,3014.3 1665.4,3025.0 1651.1,3034.5 1636.4,3042.6 1621.3,3049.3 1606.2,3054.6 1591.0,3058.3 1575.9,3060.4 1561.2,3061.0 1546.9,3059.9 1533.1,3057.3 1520.1,3053.1 1507.9,3047.4 1496.6,3040.3 1486.4,3031.8 1477.3,3021.9 1469.5,3010.8 1463.0,2998.7 1457.9,2985.5 1454.2,2971.5 1452.0,2956.7 1451.2,2941.4 1452.0,2925.6 1454.2,2909.6 1457.9,2893.4 1463.0,2877.2 1469.5,2861.2 1477.3,2845.5 1486.4,2830.4 1496.6,2815.8 1507.9,2802.0 1520.1,2789.2 1533.1,2777.3 1546.9,2766.6 1561.2,2757.2 1575.9,2749.0 1591.0,2742.3 1606.2,2737.1 1621.3,2733.4 1636.4,2731.3 1651.1,2730.7 1665.4,2731.7 1679.2,2734.4 1692.2,2738.5 1704.4,2744.2 1715.7,2751.4 1725.9,2759.9 1735.0,2769.7 1742.8,2780.8 1749.3,2793.0 1754.4,2806.1 1758.1,2820.2 1760.3,2834.9Z" fill="none" stroke="#FFA500" stroke-opacity="0.5" stroke-width="3.8"/>
<path d="M1758.4,2852.5 1757.7,2868.4 1755.5,2884.6 1751.8,2900.9 1746.7,2917.2 1740.3,2933.4 1732.5,2949.1 1723.5,2964.4 1713.4,2979.1 1702.2,2993.0 1690.1,3005.9 1677.2,3017.9 1663.5,3028.6 1649.3,3038.2 1634.7,3046.4 1619.8,3053.1 1604.7,3058.4 1589.6,3062.1 1574.7,3064.3 1560.1,3064.8 1545.9,3063.8 1532.2,3061.2 1519.3,3057.0 1507.2,3051.2 1496.0,3044.0 1485.9,3035.4 1476.9,3025.5 1469.1,3014.4 1462.7,3002.1 1457.6,2988.8 1453.9,2974.7 1451.7,2959.8 1451.0,2944.4 1451.7,2928.5 1453.9,2912.3 1457.6,2896.0 1462.7,2879.7 1469.1,2863.6 1476.9,2847.8 1485.9,2832.5 1496.0,2817.9 1507.2,2804.0 1519.3,2791.0 1532.2,2779.1 1545.9,2768.3 1560.1,2758.8 1574.7,2750.6 1589.6,2743.8 1604.7,2738.5 1619.8,2734.8 1634.7,2732.7 1649.3,2732.1 1663.5,2733.1 1677.2,2735.8 1690.1,2740.0 1702.2,2745.7 1713.4,2752.9 1723.5,2761.5 1732.5,2771.4 1740.3,2782.6 1746.7,2794.8 1751.8,2808.1 1755.5,2822.2 1757.7,2837.1Z" fill="none" stroke="#191970" stroke-opacity="0.45" stroke-width="3.8"/>
<path d="M1765.0,2850.6 1764.2,2866.5 1761.9,2882.7 1758.2,2899.1 1753.0,2915.4 1746.4,2931.6 1738.4,2947.4 1729.2,2962.7 1718.8,2977.4 1707.4,2991.3 1695.0,3004.3 1681.7,3016.3 1667.7,3027.1 1653.2,3036.6 1638.2,3044.8 1622.9,3051.6 1607.5,3056.9 1592.0,3060.6 1576.7,3062.8 1561.7,3063.4 1547.2,3062.3 1533.2,3059.7 1520.0,3055.5 1507.5,3049.7 1496.1,3042.5 1485.7,3033.9 1476.5,3023.9 1468.5,3012.8 1461.9,3000.5 1456.7,2987.2 1453.0,2973.0 1450.7,2958.1 1449.9,2942.6 1450.7,2926.7 1453.0,2910.5 1456.7,2894.1 1461.9,2877.8 1468.5,2861.6 1476.5,2845.8 1485.7,2830.5 1496.1,2815.8 1507.5,2801.9 1520.0,2788.9 1533.2,2776.9 1547.2,2766.1 1561.7,2756.6 1576.7,2748.4 1592.0,2741.6 1607.5,2736.3 1622.9,2732.6 1638.2,2730.4 1653.2,2729.9 1667.7,2730.9 1681.7,2733.5 1695.0,2737.8 1707.4,2743.5 1718.8,2750.7 1729.2,2759.3 1738.4,2769.3 1746.4,2780.5 1753.0,2792.7 1758.2,2806.0 1761.9,2820.2 1764.2,2835.1Z" fill="none" stroke="#C71585" stroke-opacity="0.4" stroke-width="3.8"/>
</g>
<g clip-path="url(#c53)">
<path d="M2263.9,2921.4 2263.1,2937.7 2261.0,2953.5 2257.4,2968.7 2252.4,2983.3 2246.1,2997.0 2238.6,3009.7 2229.8,3021.3 2219.9,3031.7 2209.0,3040.8 2197.2,3048.5 2184.5,3054.7 2171.2,3059.3 2157.4,3062.4 2143.1,3063.9 2128.5,3063.8 2113.8,3062.0 2099.1,3058.7 2084.5,3053.7 2070.2,3047.3 2056.4,3039.3 2043.1,3030.0 2030.4,3019.4 2018.6,3007.6 2007.7,2994.7 1997.8,2980.8 1989.0,2966.2 1981.5,2950.8 1975.2,2934.9 1970.2,2918.6 1966.6,2902.2 1964.5,2885.6 1963.7,2869.1 1964.5,2852.9 1966.6,2837.1 1970.2,2821.8 1975.2,2807.3 1981.5,2793.6 1989.0,2780.9 1997.8,2769.3 2007.7,2758.9 2018.6,2749.8 2030.4,2742.1 2043.1,2735.9 2056.4,2731.2 2070.2,2728.1 2084.5,2726.6 2099.1,2726.8 2113.8,2728.5 2128.5,2731.9 2143.1,2736.8 2157.4,2743.3 2171.2,2751.2 2184.5,2760.6 2197.2,2771.2 2209.0,2783.0 2219.9,2795.9 2229.8,2809.7 2238.6,2824.4 2246.1,2839.7 2252.4,2855.6 2257.4,2871.9 2261.0,2888.4 2263.1,2905.0Z M2206.2,2910.5 2205.7,2920.6 2204.4,2930.4 2202.3,2940.0 2199.3,2949.0 2195.4,2957.6 2190.9,2965.5 2185.6,2972.7 2179.6,2979.2 2173.0,2984.9 2165.8,2989.7 2158.1,2993.6 2150.1,2996.5 2141.7,2998.4 2133.0,2999.3 2124.2,2999.2 2115.3,2998.1 2106.4,2996.0 2097.6,2993.0 2088.9,2988.9 2080.5,2984.0 2072.5,2978.2 2064.8,2971.6 2057.7,2964.2 2051.1,2956.1 2045.1,2947.5 2039.8,2938.4 2035.2,2928.8 2031.4,2918.9 2028.4,2908.7 2026.2,2898.4 2024.9,2888.1 2024.4,2877.8 2024.9,2867.7 2026.2,2857.9 2028.4,2848.4 2031.4,2839.3 2035.2,2830.8 2039.8,2822.8 2045.1,2815.6 2051.1,2809.1 2057.7,2803.4 2064.8,2798.6 2072.5,2794.8 2080.5,2791.9 2088.9,2789.9 2097.6,2789.0 2106.4,2789.1 2115.3,2790.2 2124.2,2792.3 2133.0,2795.4 2141.7,2799.4 2150.1,2804.3 2158.1,2810.1 2165.8,2816.8 2173.0,2824.1 2179.6,2832.2 2185.6,2840.8 2190.9,2850.0 2195.4,2859.5 2199.3,2869.4 2202.3,2879.6 2204.4,2889.9 2205.7,2900.2Z" fill-rule="evenodd" stroke="none" fill="#FFDB99" fill-opacity="1.0"/>
<path d="M2206.2,2910.5 2205.7,2920.6 2204.4,2930.4 2202.3,2940.0 2199.3,2949.0 2195.4,2957.6 2190.9,2965.5 2185.6,2972.7 2179.6,2979.2 2173.0,2984.9 2165.8,2989.7 2158.1,2993.6 2150.1,2996.5 2141.7,2998.4 2133.0,2999.3 2124.2,2999.2 2115.3,2998.1 2106.4,2996.0 2097.6,2993.0 2088.9,2988.9 2080.5,2984.0 2072.5,2978.2 2064.8,2971.6 2057.7,2964.2 2051.1,2956.1 2045.1,2947.5 2039.8,2938.4 2035.2,2928.8 2031.4,2918.9 2028.4,2908.7 2026.2,2898.4 2024.9,2888.1 2024.4,2877.8 2024.9,2867.7 2026.2,2857.9 2028.4,2848.4 2031.4,2839.3 2035.2,2830.8 2039.8,2822.8 2045.1,2815.6 2051.1,2809.1 2057.7,2803.4 2064.8,2798.6 2072.5,2794.8 2080.5,2791.9 2088.9,2789.9 2097.6,2789.0 2106.4,2789.1 2115.3,2790.2 2124.2,2792.3 2133.0,2795.4 2141.7,2799.4 2150.1,2804.3 2158.1,2810.1 2165.8,2816.8 2173.0,2824.1 2179.6,2832.2 2185.6,2840.8 2190.9,2850.0 2195.4,2859.5 2199.3,2869.4 2202.3,2879.6 2204.4,2889.9 2205.7,2900.2Z" stroke="none" fill="#FFA500" fill-opacity="1.0"/>
<path d="M2262.6,2924.3 2261.9,2940.6 2259.7,2956.5 2256.1,2971.9 2251.1,2986.6 2244.8,3000.3 2237.2,3013.2 2228.4,3024.9 2218.4,3035.3 2207.4,3044.5 2195.6,3052.2 2182.9,3058.5 2169.5,3063.2 2155.5,3066.3 2141.2,3067.8 2126.5,3067.7 2111.7,3065.9 2097.0,3062.5 2082.3,3057.5 2068.0,3051.0 2054.0,3043.0 2040.6,3033.6 2027.9,3023.0 2016.1,3011.1 2005.1,2998.1 1995.1,2984.1 1986.3,2969.3 1978.7,2953.9 1972.4,2937.9 1967.4,2921.5 1963.8,2904.8 1961.6,2888.2 1960.9,2871.6 1961.6,2855.2 1963.8,2839.3 1967.4,2823.9 1972.4,2809.3 1978.7,2795.5 1986.3,2782.7 1995.1,2771.0 2005.1,2760.5 2016.1,2751.3 2027.9,2743.6 2040.6,2737.3 2054.0,2732.6 2068.0,2729.5 2082.3,2728.0 2097.0,2728.2 2111.7,2729.9 2126.5,2733.3 2141.2,2738.3 2155.5,2744.8 2169.5,2752.8 2182.9,2762.2 2195.6,2772.9 2207.4,2784.8 2218.4,2797.8 2228.4,2811.7 2237.2,2826.5 2244.8,2842.0 2251.1,2858.0 2256.1,2874.4 2259.7,2891.0 2261.9,2907.7Z M2204.6,2913.2 2204.2,2923.4 2202.8,2933.4 2200.7,2942.9 2197.6,2952.1 2193.8,2960.7 2189.2,2968.7 2183.9,2976.0 2177.8,2982.5 2171.2,2988.2 2164.0,2993.0 2156.3,2996.9 2148.2,2999.9 2139.8,3001.8 2131.1,3002.7 2122.2,3002.7 2113.3,3001.5 2104.3,2999.4 2095.4,2996.3 2086.7,2992.3 2078.3,2987.3 2070.2,2981.4 2062.5,2974.8 2055.3,2967.3 2048.7,2959.2 2042.7,2950.5 2037.3,2941.3 2032.7,2931.7 2028.9,2921.7 2025.9,2911.5 2023.7,2901.1 2022.4,2890.7 2021.9,2880.4 2022.4,2870.2 2023.7,2860.2 2025.9,2850.7 2028.9,2841.5 2032.7,2832.9 2037.3,2824.9 2042.7,2817.6 2048.7,2811.1 2055.3,2805.4 2062.5,2800.6 2070.2,2796.7 2078.3,2793.7 2086.7,2791.8 2095.4,2790.9 2104.3,2790.9 2113.3,2792.0 2122.2,2794.2 2131.1,2797.3 2139.8,2801.3 2148.2,2806.3 2156.3,2812.2 2164.0,2818.8 2171.2,2826.3 2177.8,2834.3 2183.9,2843.0 2189.2,2852.3 2193.8,2861.9 2197.6,2871.9 2200.7,2882.1 2202.8,2892.5 2204.2,2902.9Z" fill-rule="evenodd" stroke="none" fill="#A3A3C6" fill-opacity="0.85"/>
<path d="M2204.6,2913.2 2204.2,2923.4 2202.8,2933.4 2200.7,2942.9 2197.6,2952.1 2193.8,2960.7 2189.2,2968.7 2183.9,2976.0 2177.8,2982.5 2171.2,2988.2 2164.0,2993.0 2156.3,2996.9 2148.2,2999.9 2139.8,3001.8 2131.1,3002.7 2122.2,3002.7 2113.3,3001.5 2104.3,2999.4 2095.4,2996.3 2086.7,2992.3 2078.3,2987.3 2070.2,2981.4 2062.5,2974.8 2055.3,2967.3 2048.7,2959.2 2042.7,2950.5 2037.3,2941.3 2032.7,2931.7 2028.9,2921.7 2025.9,2911.5 2023.7,2901.1 2022.4,2890.7 2021.9,2880.4 2022.4,2870.2 2023.7,2860.2 2025.9,2850.7 2028.9,2841.5 2032.7,2832.9 2037.3,2824.9 2042.7,2817.6 2048.7,2811.1 2055.3,2805.4 2062.5,2800.6 2070.2,2796.7 2078.3,2793.7 2086.7,2791.8 2095.4,2790.9 2104.3,2790.9 2113.3,2792.0 2122.2,2794.2 2131.1,2797.3 2139.8,2801.3 2148.2,2806.3 2156.3,2812.2 2164.0,2818.8 2171.2,2826.3 2177.8,2834.3 2183.9,2843.0 2189.2,2852.3 2193.8,2861.9 2197.6,2871.9 2200.7,2882.1 2202.8,2892.5 2204.2,2902.9Z" stroke="none" fill="#191970" fill-opacity="0.85"/>
<path d="M2259.3,2922.5 2258.5,2938.8 2256.4,2954.8 2252.7,2970.2 2247.7,2984.9 2241.4,2998.7 2233.8,3011.6 2224.9,3023.3 2214.9,3033.8 2203.9,3043.0 2192.0,3050.7 2179.3,3057.0 2165.8,3061.7 2151.8,3064.8 2137.4,3066.3 2122.7,3066.2 2107.9,3064.4 2093.1,3061.0 2078.4,3056.0 2064.0,3049.5 2050.0,3041.5 2036.5,3032.1 2023.8,3021.4 2011.9,3009.4 2000.9,2996.4 1990.9,2982.4 1982.0,2967.6 1974.4,2952.1 1968.1,2936.1 1963.1,2919.7 1959.4,2903.0 1957.3,2886.3 1956.5,2869.6 1957.3,2853.3 1959.4,2837.3 1963.1,2821.9 1968.1,2807.2 1974.4,2793.4 1982.0,2780.6 1990.9,2768.8 2000.9,2758.3 2011.9,2749.2 2023.8,2741.4 2036.5,2735.1 2050.0,2730.4 2064.0,2727.3 2078.4,2725.8 2093.1,2725.9 2107.9,2727.7 2122.7,2731.1 2137.4,2736.1 2151.8,2742.6 2165.8,2750.6 2179.3,2760.0 2192.0,2770.7 2203.9,2782.7 2214.9,2795.7 2224.9,2809.7 2233.8,2824.5 2241.4,2840.0 2247.7,2856.0 2252.7,2872.5 2256.4,2889.1 2258.5,2905.8Z M2201.1,2911.4 2200.6,2921.6 2199.3,2931.6 2197.1,2941.2 2194.1,2950.3 2190.2,2958.9 2185.6,2967.0 2180.3,2974.3 2174.2,2980.8 2167.6,2986.5 2160.3,2991.4 2152.6,2995.3 2144.5,2998.2 2136.0,3000.2 2127.3,3001.1 2118.4,3001.0 2109.4,2999.9 2100.4,2997.8 2091.5,2994.7 2082.8,2990.6 2074.3,2985.6 2066.2,2979.8 2058.5,2973.1 2051.3,2965.6 2044.6,2957.5 2038.6,2948.8 2033.2,2939.6 2028.6,2929.9 2024.7,2919.9 2021.7,2909.6 2019.5,2899.3 2018.2,2888.8 2017.8,2878.5 2018.2,2868.3 2019.5,2858.3 2021.7,2848.7 2024.7,2839.5 2028.6,2830.9 2033.2,2822.9 2038.6,2815.6 2044.6,2809.1 2051.3,2803.3 2058.5,2798.5 2066.2,2794.6 2074.3,2791.6 2082.8,2789.7 2091.5,2788.8 2100.4,2788.8 2109.4,2790.0 2118.4,2792.1 2127.3,2795.2 2136.0,2799.3 2144.5,2804.2 2152.6,2810.1 2160.3,2816.8 2167.6,2824.2 2174.2,2832.4 2180.3,2841.1 2185.6,2850.3 2190.2,2860.0 2194.1,2870.0 2197.1,2880.2 2199.3,2890.6 2200.6,2901.0Z" fill-rule="evenodd" stroke="none" fill="#DFA1CE" fill-opacity="0.8"/>
<path d="M2201.1,2911.4 2200.6,2921.6 2199.3,2931.6 2197.1,2941.2 2194.1,2950.3 2190.2,2958.9 2185.6,2967.0 2180.3,2974.3 2174.2,2980.8 2167.6,2986.5 2160.3,2991.4 2152.6,2995.3 2144.5,2998.2 2136.0,3000.2 2127.3,3001.1 2118.4,3001.0 2109.4,2999.9 2100.4,2997.8 2091.5,2994.7 2082.8,2990.6 2074.3,2985.6 2066.2,2979.8 2058.5,2973.1 2051.3,2965.6 2044.6,2957.5 2038.6,2948.8 2033.2,2939.6 2028.6,2929.9 2024.7,2919.9 2021.7,2909.6 2019.5,2899.3 2018.2,2888.8 2017.8,2878.5 2018.2,2868.3 2019.5,2858.3 2021.7,2848.7 2024.7,2839.5 2028.6,2830.9 2033.2,2822.9 2038.6,2815.6 2044.6,2809.1 2051.3,2803.3 2058.5,2798.5 2066.2,2794.6 2074.3,2791.6 2082.8,2789.7 2091.5,2788.8 2100.4,2788.8 2109.4,2790.0 2118.4,2792.1 2127.3,2795.2 2136.0,2799.3 2144.5,2804.2 2152.6,2810.1 2160.3,2816.8 2167.6,2824.2 2174.2,2832.4 2180.3,2841.1 2185.6,2850.3 2190.2,2860.0 2194.1,2870.0 2197.1,2880.2 2199.3,2890.6 2200.6,2901.0Z" stroke="none" fill="#BF4595" fill-opacity="0.8"/>
<path d="M2263.9,2921.4 2263.1,2937.7 2261.0,2953.5 2257.4,2968.7 2252.4,2983.3 2246.1,2997.0 2238.6,3009.7 2229.8,3021.3 2219.9,3031.7 2209.0,3040.8 2197.2,3048.5 2184.5,3054.7 2171.2,3059.3 2157.4,3062.4 2143.1,3063.9 2128.5,3063.8 2113.8,3062.0 2099.1,3058.7 2084.5,3053.7 2070.2,3047.3 2056.4,3039.3 2043.1,3030.0 2030.4,3019.4 2018.6,3007.6 2007.7,2994.7 1997.8,2980.8 1989.0,2966.2 1981.5,2950.8 1975.2,2934.9 1970.2,2918.6 1966.6,2902.2 1964.5,2885.6 1963.7,2869.1 1964.5,2852.9 1966.6,2837.1 1970.2,2821.8 1975.2,2807.3 1981.5,2793.6 1989.0,2780.9 1997.8,2769.3 2007.7,2758.9 2018.6,2749.8 2030.4,2742.1 2043.1,2735.9 2056.4,2731.2 2070.2,2728.1 2084.5,2726.6 2099.1,2726.8 2113.8,2728.5 2128.5,2731.9 2143.1,2736.8 2157.4,2743.3 2171.2,2751.2 2184.5,2760.6 2197.2,2771.2 2209.0,2783.0 2219.9,2795.9 2229.8,2809.7 2238.6,2824.4 2246.1,2839.7 2252.4,2855.6 2257.4,2871.9 2261.0,2888.4 2263.1,2905.0Z" fill="none" stroke="#FFA500" stroke-opacity="0.5" stroke-width="3.8"/>
<path d="M2262.6,2924.3 2261.9,2940.6 2259.7,2956.5 2256.1,2971.9 2251.1,2986.6 2244.8,3000.3 2237.2,3013.2 2228.4,3024.9 2218.4,3035.3 2207.4,3044.5 2195.6,3052.2 2182.9,3058.5 2169.5,3063.2 2155.5,3066.3 2141.2,3067.8 2126.5,3067.7 2111.7,3065.9 2097.0,3062.5 2082.3,3057.5 2068.0,3051.0 2054.0,3043.0 2040.6,3033.6 2027.9,3023.0 2016.1,3011.1 2005.1,2998.1 1995.1,2984.1 1986.3,2969.3 1978.7,2953.9 1972.4,2937.9 1967.4,2921.5 1963.8,2904.8 1961.6,2888.2 1960.9,2871.6 1961.6,2855.2 1963.8,2839.3 1967.4,2823.9 1972.4,2809.3 1978.7,2795.5 1986.3,2782.7 1995.1,2771.0 2005.1,2760.5 2016.1,2751.3 2027.9,2743.6 2040.6,2737.3 2054.0,2732.6 2068.0,2729.5 2082.3,2728.0 2097.0,2728.2 2111.7,2729.9 2126.5,2733.3 2141.2,2738.3 2155.5,2744.8 2169.5,2752.8 2182.9,2762.2 2195.6,2772.9 2207.4,2784.8 2218.4,2797.8 2228.4,2811.7 2237.2,2826.5 2244.8,2842.0 2251.1,2858.0 2256.1,2874.4 2259.7,2891.0 2261.9,2907.7Z" fill="none" stroke="#191970" stroke-opacity="0.45" stroke-width="3.8"/>
<path d="M2259.3,2922.5 2258.5,2938.8 2256.4,2954.8 2252.7,2970.2 2247.7,2984.9 2241.4,2998.7 2233.8,3011.6 2224.9,3023.3 2214.9,3033.8 2203.9,3043.0 2192.0,3050.7 2179.3,3057.0 2165.8,3061.7 2151.8,3064.8 2137.4,3066.3 2122.7,3066.2 2107.9,3064.4 2093.1,3061.0 2078.4,3056.0 2064.0,3049.5 2050.0,3041.5 2036.5,3032.1 2023.8,3021.4 2011.9,3009.4 2000.9,2996.4 1990.9,2982.4 1982.0,2967.6 1974.4,2952.1 1968.1,2936.1 1963.1,2919.7 1959.4,2903.0 1957.3,2886.3 1956.5,2869.6 1957.3,2853.3 1959.4,2837.3 1963.1,2821.9 1968.1,2807.2 1974.4,2793.4 1982.0,2780.6 1990.9,2768.8 2000.9,2758.3 2011.9,2749.2 2023.8,2741.4 2036.5,2735.1 2050.0,2730.4 2064.0,2727.3 2078.4,2725.8 2093.1,2725.9 2107.9,2727.7 2122.7,2731.1 2137.4,2736.1 2151.8,2742.6 2165.8,2750.6 2179.3,2760.0 2192.0,2770.7 2203.9,2782.7 2214.9,2795.7 2224.9,2809.7 2233.8,2824.5 2241.4,2840.0 2247.7,2856.0 2252.7,2872.5 2256.4,2889.1 2258.5,2905.8Z" fill="none" stroke="#C71585" stroke-opacity="0.4" stroke-width="3.8"/>
</g>
<g clip-path="url(#c54)">
<path d="M2767.6,2880.2 2766.9,2896.6 2764.7,2913.1 2761.0,2929.3 2756.0,2945.3 2749.5,2960.7 2741.8,2975.6 2732.9,2989.6 2722.8,3002.8 2711.7,3014.9 2699.7,3025.8 2686.8,3035.5 2673.3,3043.9 2659.1,3050.8 2644.6,3056.2 2629.8,3060.1 2614.8,3062.4 2599.8,3063.1 2585.0,3062.1 2570.4,3059.6 2556.3,3055.4 2542.8,3049.8 2529.9,3042.6 2517.9,3034.0 2506.8,3024.1 2496.7,3013.0 2487.8,3000.7 2480.0,2987.4 2473.6,2973.2 2468.6,2958.2 2464.9,2942.7 2462.7,2926.7 2462.0,2910.4 2462.7,2893.9 2464.9,2877.5 2468.6,2861.2 2473.6,2845.3 2480.0,2829.8 2487.8,2815.0 2496.7,2800.9 2506.8,2787.8 2517.9,2775.7 2529.9,2764.7 2542.8,2755.0 2556.3,2746.7 2570.4,2739.8 2585.0,2734.3 2599.8,2730.5 2614.8,2728.2 2629.8,2727.5 2644.6,2728.4 2659.1,2731.0 2673.3,2735.1 2686.8,2740.8 2699.7,2747.9 2711.7,2756.5 2722.8,2766.4 2732.9,2777.6 2741.8,2789.9 2749.5,2803.2 2756.0,2817.4 2761.0,2832.3 2764.7,2847.9 2766.9,2863.9Z M2709.5,2884.7 2709.0,2895.0 2707.7,2905.3 2705.4,2915.5 2702.3,2925.4 2698.4,2935.1 2693.7,2944.4 2688.2,2953.2 2682.1,2961.4 2675.2,2969.0 2667.9,2975.8 2660.0,2981.9 2651.7,2987.1 2643.0,2991.4 2634.1,2994.8 2625.0,2997.2 2615.9,2998.7 2606.7,2999.1 2597.6,2998.5 2588.7,2996.9 2580.0,2994.3 2571.7,2990.8 2563.8,2986.3 2556.5,2980.9 2549.7,2974.7 2543.5,2967.8 2538.0,2960.1 2533.3,2951.8 2529.4,2942.9 2526.3,2933.5 2524.0,2923.8 2522.7,2913.8 2522.2,2903.6 2522.7,2893.3 2524.0,2883.0 2526.3,2872.9 2529.4,2862.9 2533.3,2853.2 2538.0,2843.9 2543.5,2835.2 2549.7,2826.9 2556.5,2819.4 2563.8,2812.5 2571.7,2806.4 2580.0,2801.2 2588.7,2796.9 2597.6,2793.5 2606.7,2791.1 2615.9,2789.6 2625.0,2789.2 2634.1,2789.8 2643.0,2791.4 2651.7,2794.0 2660.0,2797.5 2667.9,2802.0 2675.2,2807.4 2682.1,2813.6 2688.2,2820.6 2693.7,2828.2 2698.4,2836.6 2702.3,2845.4 2705.4,2854.8 2707.7,2864.5 2709.0,2874.5Z" fill-rule="evenodd" stroke="none" fill="#FFDB99" fill-opacity="1.0"/>
<path d="M2709.5,2884.7 2709.0,2895.0 2707.7,2905.3 2705.4,2915.5 2702.3,2925.4 2698.4,2935.1 2693.7,2944.4 2688.2,2953.2 2682.1,2961.4 2675.2,2969.0 2667.9,2975.8 2660.0,2981.9 2651.7,2987.1 2643.0,2991.4 2634.1,2994.8 2625.0,2997.2 2615.9,2998.7 2606.7,2999.1 2597.6,2998.5 2588.7,2996.9 2580.0,2994.3 2571.7,2990.8 2563.8,2986.3 2556.5,2980.9 2549.7,2974.7 2543.5,2967.8 2538.0,2960.1 2533.3,2951.8 2529.4,2942.9 2526.3,2933.5 2524.0,2923.8 2522.7,2913.8 2522.2,2903.6 2522.7,2893.3 2524.0,2883.0 2526.3,2872.9 2529.4,2862.9 2533.3,2853.2 2538.0,2843.9 2543.5,2835.2 2549.7,2826.9 2556.5,2819.4 2563.8,2812.5 2571.7,2806.4 2580.0,2801.2 2588.7,2796.9 2597.6,2793.5 2606.7,2791.1 2615.9,2789.6 2625.0,2789.2 2634.1,2789.8 2643.0,2791.4 2651.7,2794.0 2660.0,2797.5 2667.9,2802.0 2675.2,2807.4 2682.1,2813.6 2688.2,2820.6 2693.7,2828.2 2698.4,2836.6 2702.3,2845.4 2705.4,2854.8 2707.7,2864.5 2709.0,2874.5Z" stroke="none" fill="#FFA500" fill-opacity="1.0"/>
<path d="M2769.6,2882.7 2768.9,2899.3 2766.7,2915.8 2763.0,2932.2 2758.0,2948.3 2751.5,2963.9 2743.8,2978.8 2734.9,2993.0 2724.8,3006.2 2713.7,3018.4 2701.7,3029.4 2688.8,3039.2 2675.3,3047.6 2661.1,3054.6 2646.6,3060.1 2631.8,3064.0 2616.8,3066.3 2601.8,3067.0 2587.0,3066.0 2572.4,3063.4 2558.3,3059.3 2544.8,3053.6 2531.9,3046.4 2519.9,3037.7 2508.8,3027.7 2498.7,3016.5 2489.8,3004.1 2482.0,2990.7 2475.6,2976.4 2470.6,2961.3 2466.9,2945.7 2464.7,2929.6 2464.0,2913.1 2464.7,2896.6 2466.9,2880.0 2470.6,2863.6 2475.6,2847.5 2482.0,2832.0 2489.8,2817.0 2498.7,2802.9 2508.8,2789.6 2519.9,2777.4 2531.9,2766.4 2544.8,2756.6 2558.3,2748.2 2572.4,2741.2 2587.0,2735.8 2601.8,2731.9 2616.8,2729.6 2631.8,2728.9 2646.6,2729.8 2661.1,2732.4 2675.3,2736.6 2688.8,2742.3 2701.7,2749.5 2713.7,2758.1 2724.8,2768.1 2734.9,2779.4 2743.8,2791.7 2751.5,2805.1 2758.0,2819.4 2763.0,2834.5 2766.7,2850.2 2768.9,2866.3Z M2711.5,2887.3 2711.0,2897.6 2709.7,2908.0 2707.4,2918.3 2704.3,2928.3 2700.4,2938.0 2695.7,2947.4 2690.2,2956.2 2684.1,2964.5 2677.2,2972.2 2669.9,2979.1 2662.0,2985.2 2653.7,2990.4 2645.0,2994.8 2636.1,2998.2 2627.0,3000.7 2617.9,3002.1 2608.7,3002.5 2599.6,3001.9 2590.7,3000.3 2582.0,2997.7 2573.7,2994.1 2565.8,2989.6 2558.5,2984.2 2551.7,2978.0 2545.5,2970.9 2540.0,2963.2 2535.3,2954.8 2531.4,2945.9 2528.3,2936.5 2526.0,2926.7 2524.7,2916.6 2524.2,2906.3 2524.7,2895.9 2526.0,2885.6 2528.3,2875.3 2531.4,2865.3 2535.3,2855.6 2540.0,2846.2 2545.5,2837.4 2551.7,2829.1 2558.5,2821.4 2565.8,2814.5 2573.7,2808.4 2582.0,2803.2 2590.7,2798.8 2599.6,2795.4 2608.7,2792.9 2617.9,2791.5 2627.0,2791.1 2636.1,2791.7 2645.0,2793.3 2653.7,2795.9 2662.0,2799.5 2669.9,2804.0 2677.2,2809.4 2684.1,2815.6 2690.2,2822.6 2695.7,2830.4 2700.4,2838.8 2704.3,2847.7 2707.4,2857.1 2709.7,2866.9 2711.0,2877.0Z" fill-rule="evenodd" stroke="none" fill="#A3A3C6" fill-opacity="0.85"/>
<path d="M2711.5,2887.3 2711.0,2897.6 2709.7,2908.0 2707.4,2918.3 2704.3,2928.3 2700.4,2938.0 2695.7,2947.4 2690.2,2956.2 2684.1,2964.5 2677.2,2972.2 2669.9,2979.1 2662.0,2985.2 2653.7,2990.4 2645.0,2994.8 2636.1,2998.2 2627.0,3000.7 2617.9,3002.1 2608.7,3002.5 2599.6,3001.9 2590.7,3000.3 2582.0,2997.7 2573.7,2994.1 2565.8,2989.6 2558.5,2984.2 2551.7,2978.0 2545.5,2970.9 2540.0,2963.2 2535.3,2954.8 2531.4,2945.9 2528.3,2936.5 2526.0,2926.7 2524.7,2916.6 2524.2,2906.3 2524.7,2895.9 2526.0,2885.6 2528.3,2875.3 2531.4,2865.3 2535.3,2855.6 2540.0,2846.2 2545.5,2837.4 2551.7,2829.1 2558.5,2821.4 2565.8,2814.5 2573.7,2808.4 2582.0,2803.2 2590.7,2798.8 2599.6,2795.4 2608.7,2792.9 2617.9,2791.5 2627.0,2791.1 2636.1,2791.7 2645.0,2793.3 2653.7,2795.9 2662.0,2799.5 2669.9,2804.0 2677.2,2809.4 2684.1,2815.6 2690.2,2822.6 2695.7,2830.4 2700.4,2838.8 2704.3,2847.7 2707.4,2857.1 2709.7,2866.9 2711.0,2877.0Z" stroke="none" fill="#191970" fill-opacity="0.85"/>
<path d="M2773.8,2880.8 2773.1,2897.4 2770.9,2914.0 2767.2,2930.4 2762.2,2946.5 2755.8,2962.1 2748.0,2977.1 2739.1,2991.3 2729.0,3004.6 2717.9,3016.8 2705.9,3027.9 2693.0,3037.7 2679.4,3046.1 2665.3,3053.1 2650.7,3058.6 2635.9,3062.5 2620.9,3064.8 2605.9,3065.5 2591.1,3064.5 2576.5,3061.9 2562.4,3057.8 2548.8,3052.1 2535.9,3044.8 2523.9,3036.2 2512.8,3026.1 2502.7,3014.9 2493.7,3002.5 2486.0,2989.0 2479.6,2974.7 2474.6,2959.6 2470.9,2943.9 2468.7,2927.8 2468.0,2911.3 2468.7,2894.7 2470.9,2878.1 2474.6,2861.7 2479.6,2845.6 2486.0,2830.0 2493.7,2815.0 2502.7,2800.8 2512.8,2787.5 2523.9,2775.3 2535.9,2764.2 2548.8,2754.4 2562.4,2746.0 2576.5,2739.0 2591.1,2733.5 2605.9,2729.6 2620.9,2727.3 2635.9,2726.6 2650.7,2727.6 2665.3,2730.2 2679.4,2734.3 2693.0,2740.1 2705.9,2747.3 2717.9,2756.0 2729.0,2766.0 2739.1,2777.2 2748.0,2789.6 2755.8,2803.1 2762.2,2817.4 2767.2,2832.5 2770.9,2848.2 2773.1,2864.3Z M2715.7,2885.4 2715.2,2895.8 2713.9,2906.2 2711.6,2916.4 2708.5,2926.5 2704.6,2936.3 2699.9,2945.6 2694.4,2954.5 2688.2,2962.8 2681.4,2970.5 2674.0,2977.4 2666.1,2983.5 2657.8,2988.8 2649.2,2993.2 2640.2,2996.6 2631.1,2999.0 2622.0,3000.5 2612.8,3000.9 2603.7,3000.3 2594.8,2998.7 2586.1,2996.1 2577.8,2992.5 2569.9,2988.0 2562.5,2982.6 2555.7,2976.3 2549.5,2969.3 2544.1,2961.5 2539.3,2953.1 2535.4,2944.1 2532.3,2934.7 2530.1,2924.9 2528.7,2914.8 2528.3,2904.5 2528.7,2894.1 2530.1,2883.7 2532.3,2873.4 2535.4,2863.4 2539.3,2853.6 2544.1,2844.2 2549.5,2835.4 2555.7,2827.1 2562.5,2819.4 2569.9,2812.5 2577.8,2806.4 2586.1,2801.1 2594.8,2796.7 2603.7,2793.3 2612.8,2790.9 2622.0,2789.4 2631.1,2789.0 2640.2,2789.6 2649.2,2791.2 2657.8,2793.8 2666.1,2797.4 2674.0,2801.9 2681.4,2807.3 2688.2,2813.6 2694.4,2820.6 2699.9,2828.4 2704.6,2836.8 2708.5,2845.7 2711.6,2855.2 2713.9,2865.0 2715.2,2875.1Z" fill-rule="evenodd" stroke="none" fill="#DFA1CE" fill-opacity="0.8"/>
<path d="M2715.7,2885.4 2715.2,2895.8 2713.9,2906.2 2711.6,2916.4 2708.5,2926.5 2704.6,2936.3 2699.9,2945.6 2694.4,2954.5 2688.2,2962.8 2681.4,2970.5 2674.0,2977.4 2666.1,2983.5 2657.8,2988.8 2649.2,2993.2 2640.2,2996.6 2631.1,2999.0 2622.0,3000.5 2612.8,3000.9 2603.7,3000.3 2594.8,2998.7 2586.1,2996.1 2577.8,2992.5 2569.9,2988.0 2562.5,2982.6 2555.7,2976.3 2549.5,2969.3 2544.1,2961.5 2539.3,2953.1 2535.4,2944.1 2532.3,2934.7 2530.1,2924.9 2528.7,2914.8 2528.3,2904.5 2528.7,2894.1 2530.1,2883.7 2532.3,2873.4 2535.4,2863.4 2539.3,2853.6 2544.1,2844.2 2549.5,2835.4 2555.7,2827.1 2562.5,2819.4 2569.9,2812.5 2577.8,2806.4 2586.1,2801.1 2594.8,2796.7 2603.7,2793.3 2612.8,2790.9 2622.0,2789.4 2631.1,2789.0 2640.2,2789.6 2649.2,2791.2 2657.8,2793.8 2666.1,2797.4 2674.0,2801.9 2681.4,2807.3 2688.2,2813.6 2694.4,2820.6 2699.9,2828.4 2704.6,2836.8 2708.5,2845.7 2711.6,2855.2 2713.9,2865.0 2715.2,2875.1Z" stroke="none" fill="#BF4595" fill-opacity="0.8"/>
<path d="M2767.6,2880.2 2766.9,2896.6 2764.7,2913.1 2761.0,2929.3 2756.0,2945.3 2749.5,2960.7 2741.8,2975.6 2732.9,2989.6 2722.8,3002.8 2711.7,3014.9 2699.7,3025.8 2686.8,3035.5 2673.3,3043.9 2659.1,3050.8 2644.6,3056.2 2629.8,3060.1 2614.8,3062.4 2599.8,3063.1 2585.0,3062.1 2570.4,3059.6 2556.3,3055.4 2542.8,3049.8 2529.9,3042.6 2517.9,3034.0 2506.8,3024.1 2496.7,3013.0 2487.8,3000.7 2480.0,2987.4 2473.6,2973.2 2468.6,2958.2 2464.9,2942.7 2462.7,2926.7 2462.0,2910.4 2462.7,2893.9 2464.9,2877.5 2468.6,2861.2 2473.6,2845.3 2480.0,2829.8 2487.8,2815.0 2496.7,2800.9 2506.8,2787.8 2517.9,2775.7 2529.9,2764.7 2542.8,2755.0 2556.3,2746.7 2570.4,2739.8 2585.0,2734.3 2599.8,2730.5 2614.8,2728.2 2629.8,2727.5 2644.6,2728.4 2659.1,2731.0 2673.3,2735.1 2686.8,2740.8 2699.7,2747.9 2711.7,2756.5 2722.8,2766.4 2732.9,2777.6 2741.8,2789.9 2749.5,2803.2 2756.0,2817.4 2761.0,2832.3 2764.7,2847.9 2766.9,2863.9Z" fill="none" stroke="#FFA500" stroke-opacity="0.5" stroke-width="3.8"/>
<path d="M2769.6,2882.7 2768.9,2899.3 2766.7,2915.8 2763.0,2932.2 2758.0,2948.3 2751.5,2963.9 2743.8,2978.8 2734.9,2993.0 2724.8,3006.2 2713.7,3018.4 2701.7,3029.4 2688.8,3039.2 2675.3,3047.6 2661.1,3054.6 2646.6,3060.1 2631.8,3064.0 2616.8,3066.3 2601.8,3067.0 2587.0,3066.0 2572.4,3063.4 2558.3,3059.3 2544.8,3053.6 2531.9,3046.4 2519.9,3037.7 2508.8,3027.7 2498.7,3016.5 2489.8,3004.1 2482.0,2990.7 2475.6,2976.4 2470.6,2961.3 2466.9,2945.7 2464.7,2929.6 2464.0,2913.1 2464.7,2896.6 2466.9,2880.0 2470.6,2863.6 2475.6,2847.5 2482.0,2832.0 2489.8,2817.0 2498.7,2802.9 2508.8,2789.6 2519.9,2777.4 2531.9,2766.4 2544.8,2756.6 2558.3,2748.2 2572.4,2741.2 2587.0,2735.8 2601.8,2731.9 2616.8,2729.6 2631.8,2728.9 2646.6,2729.8 2661.1,2732.4 2675.3,2736.6 2688.8,2742.3 2701.7,2749.5 2713.7,2758.1 2724.8,2768.1 2734.9,2779.4 2743.8,2791.7 2751.5,2805.1 2758.0,2819.4 2763.0,2834.5 2766.7,2850.2 2768.9,2866.3Z" fill="none" stroke="#191970" stroke-opacity="0.45" stroke-width="3.8"/>
<path d="M2773.8,2880.8 2773.1,2897.4 2770.9,2914.0 2767.2,2930.4 2762.2,2946.5 2755.8,2962.1 2748.0,2977.1 2739.1,2991.3 2729.0,3004.6 2717.9,3016.8 2705.9,3027.9 2693.0,3037.7 2679.4,3046.1 2665.3,3053.1 2650.7,3058.6 2635.9,3062.5 2620.9,3064.8 2605.9,3065.5 2591.1,3064.5 2576.5,3061.9 2562.4,3057.8 2548.8,3052.1 2535.9,3044.8 2523.9,3036.2 2512.8,3026.1 2502.7,3014.9 2493.7,3002.5 2486.0,2989.0 2479.6,2974.7 2474.6,2959.6 2470.9,2943.9 2468.7,2927.8 2468.0,2911.3 2468.7,2894.7 2470.9,2878.1 2474.6,2861.7 2479.6,2845.6 2486.0,2830.0 2493.7,2815.0 2502.7,2800.8 2512.8,2787.5 2523.9,2775.3 2535.9,2764.2 2548.8,2754.4 2562.4,2746.0 2576.5,2739.0 2591.1,2733.5 2605.9,2729.6 2620.9,2727.3 2635.9,2726.6 2650.7,2727.6 2665.3,2730.2 2679.4,2734.3 2693.0,2740.1 2705.9,2747.3 2717.9,2756.0 2729.0,2766.0 2739.1,2777.2 2748.0,2789.6 2755.8,2803.1 2762.2,2817.4 2767.2,2832.5 2770.9,2848.2 2773.1,2864.3Z" fill="none" stroke="#C71585" stroke-opacity="0.4" stroke-width="3.8"/>
</g>
<path d="M508.55,534.70v-28.8 M679.75,534.70v-28.8 M508.55,1059.10v-28.8 M508.55,538.90v28.8 M679.75,1059.10v-28.8 M679.75,538.90v28.8 M348.50,1019.30h28.8 M851.70,1019.30h-28.8 M348.50,828.36h28.8 M851.70,828.36h-28.8 M348.50,637.42h28.8 M851.70,637.42h-28.8 M1074.90,1059.10v-28.8 M1259.60,1059.10v-28.8 M508.55,1583.50v-28.8 M508.55,1063.30v28.8 M679.75,1583.50v-28.8 M679.75,1063.30v28.8 M348.50,1467.51h28.8 M851.70,1467.51h-28.8 M348.50,1296.98h28.8 M851.70,1296.98h-28.8 M348.50,1126.44h28.8 M851.70,1126.44h-28.8 M1074.90,1583.50v-28.8 M1074.90,1063.30v28.8 M1259.60,1583.50v-28.8 M1259.60,1063.30v28.8 M851.70,1467.51h28.8 M1354.90,1467.51h-28.8 M851.70,1296.98h28.8 M1354.90,1296.98h-28.8 M851.70,1126.44h28.8 M1354.90,1126.44h-28.8 M1467.10,1583.50v-28.8 M1673.30,1583.50v-28.8 M508.55,2107.90v-28.8 M508.55,1587.70v28.8 M679.75,2107.90v-28.8 M679.75,1587.70v28.8 M348.50,2004.42h28.8 M851.70,2004.42h-28.8 M348.50,1850.69h28.8 M851.70,1850.69h-28.8 M348.50,1696.97h28.8 M851.70,1696.97h-28.8 M1074.90,2107.90v-28.8 M1074.90,1587.70v28.8 M1259.60,2107.90v-28.8 M1259.60,1587.70v28.8 M851.70,2004.42h28.8 M1354.90,2004.42h-28.8 M851.70,1850.69h28.8 M1354.90,1850.69h-28.8 M851.70,1696.97h28.8 M1354.90,1696.97h-28.8 M1467.10,2107.90v-28.8 M1467.10,1587.70v28.8 M1673.30,2107.90v-28.8 M1673.30,1587.70v28.8 M1354.90,2004.42h28.8 M1858.10,2004.42h-28.8 M1354.90,1850.69h28.8 M1858.10,1850.69h-28.8 M1354.90,1696.97h28.8 M1858.10,1696.97h-28.8 M1958.20,2107.90v-28.8 M2106.90,2107.90v-28.8 M2255.60,2107.90v-28.8 M508.55,2632.30v-28.8 M508.55,2112.10v28.8 M679.75,2632.30v-28.8 M679.75,2112.10v28.8 M348.50,2554.87h28.8 M851.70,2554.87h-28.8 M348.50,2362.90h28.8 M851.70,2362.90h-28.8 M348.50,2170.92h28.8 M851.70,2170.92h-28.8 M1074.90,2632.30v-28.8 M1074.90,2112.10v28.8 M1259.60,2632.30v-28.8 M1259.60,2112.10v28.8 M851.70,2554.87h28.8 M1354.90,2554.87h-28.8 M851.70,2362.90h28.8 M1354.90,2362.90h-28.8 M851.70,2170.92h28.8 M1354.90,2170.92h-28.8 M1467.10,2632.30v-28.8 M1467.10,2112.10v28.8 M1673.30,2632.30v-28.8 M1673.30,2112.10v28.8 M1354.90,2554.87h28.8 M1858.10,2554.87h-28.8 M1354.90,2362.90h28.8 M1858.10,2362.90h-28.8 M1354.90,2170.92h28.8 M1858.10,2170.92h-28.8 M1958.20,2632.30v-28.8 M1958.20,2112.10v28.8 M2106.90,2632.30v-28.8 M2106.90,2112.10v28.8 M2255.60,2632.30v-28.8 M2255.60,2112.10v28.8 M1858.10,2554.87h28.8 M2361.30,2554.87h-28.8 M1858.10,2362.90h28.8 M2361.30,2362.90h-28.8 M1858.10,2170.92h28.8 M2361.30,2170.92h-28.8 M2436.20,2632.30v-28.8 M2621.90,2632.30v-28.8 M508.55,3156.70v-28.8 M508.55,2636.50v28.8 M679.75,3156.70v-28.8 M679.75,2636.50v28.8 M348.50,3064.59h28.8 M851.70,3064.59h-28.8 M348.50,2953.30h28.8 M851.70,2953.30h-28.8 M348.50,2842.02h28.8 M851.70,2842.02h-28.8 M348.50,2730.73h28.8 M851.70,2730.73h-28.8 M1074.90,3156.70v-28.8 M1074.90,2636.50v28.8 M1259.60,3156.70v-28.8 M1259.60,2636.50v28.8 M851.70,3064.59h28.8 M1354.90,3064.59h-28.8 M851.70,2953.30h28.8 M1354.90,2953.30h-28.8 M851.70,2842.02h28.8 M1354.90,2842.02h-28.8 M851.70,2730.73h28.8 M1354.90,2730.73h-28.8 M1467.10,3156.70v-28.8 M1467.10,2636.50v28.8 M1673.30,3156.70v-28.8 M1673.30,2636.50v28.8 M1354.90,3064.59h28.8 M1858.10,3064.59h-28.8 M1354.90,2953.30h28.8 M1858.10,2953.30h-28.8 M1354.90,2842.02h28.8 M1858.10,2842.02h-28.8 M1354.90,2730.73h28.8 M1858.10,2730.73h-28.8 M1958.20,3156.70v-28.8 M1958.20,2636.50v28.8 M2106.90,3156.70v-28.8 M2106.90,2636.50v28.8 M2255.60,3156.70v-28.8 M2255.60,2636.50v28.8 M1858.10,3064.59h28.8 M2361.30,3064.59h-28.8 M1858.10,2953.30h28.8 M2361.30,2953.30h-28.8 M1858.10,2842.02h28.8 M2361.30,2842.02h-28.8 M1858.10,2730.73h28.8 M2361.30,2730.73h-28.8 M2436.20,3156.70v-28.8 M2436.20,2636.50v28.8 M2621.90,3156.70v-28.8 M2621.90,2636.50v28.8 M2361.30,3064.59h28.8 M2864.50,3064.59h-28.8 M2361.30,2953.30h28.8 M2864.50,2953.30h-28.8 M2361.30,2842.02h28.8 M2864.50,2842.02h-28.8 M2361.30,2730.73h28.8 M2864.50,2730.73h-28.8 M2953.60,3156.70v-28.8 M3168.90,3156.70v-28.8" stroke="#000" stroke-width="6.7" fill="none"/>
<g clip-path="url(#c00)" fill="none" stroke-width="5.0" stroke-linejoin="round">
<path d="M318.7,534.7 322.1,534.7 325.5,534.7 328.9,534.7 332.3,534.7 335.8,534.7 339.2,534.7 342.7,534.6 346.2,534.6 349.6,534.6 353.1,534.6 356.6,534.5 360.1,534.5 363.6,534.4 367.1,534.4 370.7,534.3 374.2,534.2 377.7,534.0 381.3,533.9 384.8,533.7 388.4,533.4 391.9,533.1 395.5,532.7 399.1,532.3 402.7,531.8 406.3,531.1 409.9,530.4 413.5,529.4 417.1,528.4 420.8,527.1 424.4,525.6 428.1,523.9 431.7,521.9 435.4,519.6 439.0,517.0 442.7,513.9 446.4,510.5 450.1,506.5 453.8,502.1 457.5,497.1 461.2,491.5 464.9,485.2 468.7,478.3 472.4,470.7 476.2,462.3 479.9,453.2 483.7,443.2 487.5,432.4 491.2,420.8 495.0,408.4 498.8,395.2 502.6,381.2 506.4,366.4 510.2,350.9 514.1,334.8 517.9,318.2 521.7,301.0 525.6,283.5 529.4,265.8 533.3,247.9 537.2,230.0 541.1,212.2 545.0,194.7 548.9,177.7 552.8,161.3 556.7,145.7 560.6,131.0 564.5,117.4 568.4,105.0 572.4,93.9 576.3,84.3 580.3,76.3 584.3,70.0 588.2,65.5 592.2,62.7 596.2,61.8 600.2,62.7 604.2,65.5 608.2,70.0 612.3,76.3 616.3,84.3 620.3,93.9 624.4,105.0 628.4,117.4 632.5,131.0 636.5,145.7 640.6,161.3 644.7,177.7 648.8,194.7 652.9,212.2 657.0,230.0 661.1,247.9 665.2,265.8 669.4,283.5 673.5,301.0 677.7,318.2 681.8,334.8 686.0,350.9 690.1,366.4 694.3,381.2 698.5,395.2 702.7,408.4 706.9,420.8 711.1,432.4 715.3,443.2 719.5,453.2 723.8,462.3 728.0,470.7 732.3,478.3 736.5,485.2 740.8,491.5 745.1,497.1 749.3,502.1 753.6,506.5 757.9,510.5 762.2,513.9 766.5,517.0 770.8,519.6 775.2,521.9 779.5,523.9 783.8,525.6 788.2,527.1 792.5,528.4 796.9,529.4 801.3,530.4 805.7,531.1 810.1,531.8 814.5,532.3 818.9,532.7 823.3,533.1 827.7,533.4 832.1,533.7 836.5,533.9 841.0,534.0 845.4,534.2 849.9,534.3 854.4,534.4 858.8,534.4 863.3,534.5 867.8,534.5 872.3,534.6 876.8,534.6 881.3,534.6" stroke="#FFA500"/>
<path d="M320.0,534.7 322.7,534.7 325.4,534.7 328.1,534.7 330.8,534.7 333.6,534.7 336.3,534.7 339.1,534.7 341.9,534.7 344.7,534.7 347.5,534.7 350.3,534.7 353.2,534.6 356.0,534.6 358.9,534.6 361.8,534.6 364.7,534.5 367.7,534.5 370.6,534.4 373.6,534.4 376.5,534.3 379.5,534.2 382.5,534.0 385.5,533.9 388.6,533.7 391.6,533.4 394.7,533.1 397.8,532.7 400.9,532.3 404.0,531.8 407.1,531.1 410.3,530.4 413.4,529.4 416.6,528.4 419.8,527.1 423.0,525.6 426.2,523.9 429.5,521.9 432.7,519.6 436.0,517.0 439.3,513.9 442.6,510.5 445.9,506.5 449.2,502.1 452.6,497.1 455.9,491.5 459.3,485.2 462.7,478.3 466.1,470.7 469.6,462.3 473.0,453.2 476.5,443.2 479.9,432.4 483.4,420.8 486.9,408.4 490.4,395.2 494.0,381.2 497.5,366.4 501.1,350.9 504.7,334.8 508.3,318.2 511.9,301.0 515.5,283.5 519.2,265.8 522.8,247.9 526.5,230.0 530.2,212.2 533.9,194.7 537.6,177.7 541.4,161.3 545.1,145.7 548.9,131.0 552.7,117.4 556.5,105.0 560.3,93.9 564.1,84.3 568.0,76.3 571.8,70.0 575.7,65.5 579.6,62.7 583.5,61.8 587.5,62.7 591.4,65.5 595.4,70.0 599.3,76.3 603.3,84.3 607.3,93.9 611.3,105.0 615.4,117.4 619.4,131.0 623.5,145.7 627.6,161.3 631.7,177.7 635.8,194.7 639.9,212.2 644.1,230.0 648.2,247.9 652.4,265.8 656.6,283.5 660.8,301.0 665.0,318.2 669.3,334.8 673.5,350.9 677.8,366.4 682.1,381.2 686.4,395.2 690.7,408.4 695.0,420.8 699.4,432.4 703.7,443.2 708.1,453.2 712.5,462.3 716.9,470.7 721.4,478.3 725.8,485.2 730.3,491.5 734.7,497.1 739.2,502.1 743.7,506.5 748.2,510.5 752.8,513.9 757.3,517.0 761.9,519.6 766.5,521.9 771.1,523.9 775.7,525.6 780.3,527.1 785.0,528.4 789.6,529.4 794.3,530.4 799.0,531.1 803.7,531.8 808.4,532.3 813.2,532.7 817.9,533.1 822.7,533.4 827.5,533.7 832.3,533.9 837.1,534.0 841.9,534.2 846.8,534.3 851.6,534.4 856.5,534.4 861.4,534.5 866.3,534.5 871.3,534.6 876.2,534.6 881.2,534.6" stroke="#00008B"/>
<path d="M318.7,534.7 322.1,534.7 325.5,534.7 328.9,534.7 332.3,534.7 335.8,534.7 339.2,534.7 342.7,534.6 346.1,534.6 349.6,534.6 353.1,534.6 356.6,534.5 360.1,534.5 363.6,534.4 367.1,534.4 370.6,534.3 374.1,534.2 377.6,534.0 381.2,533.9 384.7,533.7 388.3,533.4 391.8,533.1 395.4,532.7 399.0,532.3 402.6,531.8 406.2,531.1 409.8,530.4 413.4,529.4 417.0,528.4 420.6,527.1 424.2,525.6 427.9,523.9 431.5,521.9 435.2,519.6 438.8,517.0 442.5,513.9 446.2,510.5 449.9,506.5 453.6,502.1 457.3,497.1 461.0,491.5 464.7,485.2 468.4,478.3 472.2,470.7 475.9,462.3 479.7,453.2 483.4,443.2 487.2,432.4 490.9,420.8 494.7,408.4 498.5,395.2 502.3,381.2 506.1,366.4 509.9,350.9 513.7,334.8 517.6,318.2 521.4,301.0 525.3,283.5 529.1,265.8 533.0,247.9 536.8,230.0 540.7,212.2 544.6,194.7 548.5,177.7 552.4,161.3 556.3,145.7 560.2,131.0 564.1,117.4 568.0,105.0 572.0,93.9 575.9,84.3 579.9,76.3 583.8,70.0 587.8,65.5 591.8,62.7 595.8,61.8 599.8,62.7 603.8,65.5 607.8,70.0 611.8,76.3 615.8,84.3 619.8,93.9 623.9,105.0 627.9,117.4 632.0,131.0 636.0,145.7 640.1,161.3 644.2,177.7 648.3,194.7 652.4,212.2 656.5,230.0 660.6,247.9 664.7,265.8 668.8,283.5 672.9,301.0 677.1,318.2 681.2,334.8 685.4,350.9 689.5,366.4 693.7,381.2 697.9,395.2 702.1,408.4 706.3,420.8 710.5,432.4 714.7,443.2 718.9,453.2 723.1,462.3 727.4,470.7 731.6,478.3 735.9,485.2 740.1,491.5 744.4,497.1 748.6,502.1 752.9,506.5 757.2,510.5 761.5,513.9 765.8,517.0 770.1,519.6 774.4,521.9 778.8,523.9 783.1,525.6 787.5,527.1 791.8,528.4 796.2,529.4 800.5,530.4 804.9,531.1 809.3,531.8 813.7,532.3 818.1,532.7 822.5,533.1 826.9,533.4 831.3,533.7 835.7,533.9 840.2,534.0 844.6,534.2 849.1,534.3 853.5,534.4 858.0,534.4 862.5,534.5 867.0,534.5 871.5,534.6 876.0,534.6 880.5,534.6" stroke="#FF00FF"/>
</g>
<g clip-path="url(#c11)" fill="none" stroke-width="5.0" stroke-linejoin="round">
<path d="M824.8,1059.1 828.3,1059.1 831.8,1059.1 835.3,1059.1 838.8,1059.0 842.3,1059.0 845.8,1059.0 849.3,1059.0 852.8,1058.9 856.3,1058.9 859.9,1058.8 863.4,1058.8 866.9,1058.7 870.5,1058.6 874.0,1058.4 877.6,1058.3 881.2,1058.1 884.7,1057.8 888.3,1057.5 891.9,1057.1 895.5,1056.7 899.1,1056.2 902.7,1055.5 906.3,1054.8 909.9,1053.8 913.6,1052.8 917.2,1051.5 920.8,1050.0 924.5,1048.3 928.1,1046.3 931.8,1044.0 935.4,1041.4 939.1,1038.3 942.8,1034.9 946.4,1030.9 950.1,1026.5 953.8,1021.5 957.5,1015.9 961.2,1009.6 964.9,1002.7 968.6,995.1 972.4,986.7 976.1,977.6 979.8,967.6 983.6,956.8 987.3,945.2 991.1,932.8 994.8,919.6 998.6,905.6 1002.3,890.8 1006.1,875.3 1009.9,859.2 1013.7,842.6 1017.5,825.4 1021.3,807.9 1025.1,790.2 1028.9,772.3 1032.7,754.4 1036.5,736.6 1040.4,719.1 1044.2,702.1 1048.1,685.7 1051.9,670.1 1055.8,655.4 1059.6,641.8 1063.5,629.4 1067.4,618.3 1071.2,608.7 1075.1,600.7 1079.0,594.4 1082.9,589.9 1086.8,587.1 1090.7,586.2 1094.6,587.1 1098.6,589.9 1102.5,594.4 1106.4,600.7 1110.4,608.7 1114.3,618.3 1118.3,629.4 1122.2,641.8 1126.2,655.4 1130.1,670.1 1134.1,685.7 1138.1,702.1 1142.1,719.1 1146.1,736.6 1150.1,754.4 1154.1,772.3 1158.1,790.2 1162.1,807.9 1166.2,825.4 1170.2,842.6 1174.2,859.2 1178.3,875.3 1182.3,890.8 1186.4,905.6 1190.4,919.6 1194.5,932.8 1198.6,945.2 1202.7,956.8 1206.7,967.6 1210.8,977.6 1214.9,986.7 1219.0,995.1 1223.1,1002.7 1227.3,1009.6 1231.4,1015.9 1235.5,1021.5 1239.7,1026.5 1243.8,1030.9 1247.9,1034.9 1252.1,1038.3 1256.3,1041.4 1260.4,1044.0 1264.6,1046.3 1268.8,1048.3 1273.0,1050.0 1277.1,1051.5 1281.3,1052.8 1285.5,1053.8 1289.7,1054.8 1294.0,1055.5 1298.2,1056.2 1302.4,1056.7 1306.6,1057.1 1310.9,1057.5 1315.1,1057.8 1319.4,1058.1 1323.6,1058.3 1327.9,1058.4 1332.2,1058.6 1336.4,1058.7 1340.7,1058.8 1345.0,1058.8 1349.3,1058.9 1353.6,1058.9 1357.9,1059.0 1362.2,1059.0 1366.5,1059.0 1370.9,1059.0 1375.2,1059.1 1379.5,1059.1 1383.9,1059.1" stroke="#FFA500"/>
<path d="M823.0,1059.1 826.7,1059.1 830.4,1059.1 834.1,1059.1 837.8,1059.1 841.6,1059.1 845.3,1059.0 849.0,1059.0 852.7,1059.0 856.5,1059.0 860.2,1058.9 863.9,1058.9 867.7,1058.8 871.4,1058.8 875.1,1058.7 878.9,1058.6 882.6,1058.4 886.4,1058.3 890.1,1058.1 893.9,1057.8 897.6,1057.5 901.4,1057.1 905.2,1056.7 908.9,1056.2 912.7,1055.5 916.4,1054.8 920.2,1053.8 924.0,1052.8 927.7,1051.5 931.5,1050.0 935.3,1048.3 939.1,1046.3 942.8,1044.0 946.6,1041.4 950.4,1038.3 954.2,1034.9 958.0,1030.9 961.8,1026.5 965.6,1021.5 969.4,1015.9 973.2,1009.6 977.0,1002.7 980.8,995.1 984.6,986.7 988.4,977.6 992.2,967.6 996.0,956.8 999.8,945.2 1003.6,932.8 1007.4,919.6 1011.2,905.6 1015.1,890.8 1018.9,875.3 1022.7,859.2 1026.5,842.6 1030.4,825.4 1034.2,807.9 1038.0,790.2 1041.8,772.3 1045.7,754.4 1049.5,736.6 1053.4,719.1 1057.2,702.1 1061.0,685.7 1064.9,670.1 1068.7,655.4 1072.6,641.8 1076.4,629.4 1080.3,618.3 1084.2,608.7 1088.0,600.7 1091.9,594.4 1095.7,589.9 1099.6,587.1 1103.5,586.2 1107.3,587.1 1111.2,589.9 1115.1,594.4 1119.0,600.7 1122.8,608.7 1126.7,618.3 1130.6,629.4 1134.5,641.8 1138.4,655.4 1142.3,670.1 1146.2,685.7 1150.1,702.1 1153.9,719.1 1157.8,736.6 1161.7,754.4 1165.6,772.3 1169.5,790.2 1173.5,807.9 1177.4,825.4 1181.3,842.6 1185.2,859.2 1189.1,875.3 1193.0,890.8 1196.9,905.6 1200.9,919.6 1204.8,932.8 1208.7,945.2 1212.6,956.8 1216.6,967.6 1220.5,977.6 1224.4,986.7 1228.4,995.1 1232.3,1002.7 1236.2,1009.6 1240.2,1015.9 1244.1,1021.5 1248.1,1026.5 1252.0,1030.9 1256.0,1034.9 1259.9,1038.3 1263.9,1041.4 1267.8,1044.0 1271.8,1046.3 1275.7,1048.3 1279.7,1050.0 1283.7,1051.5 1287.6,1052.8 1291.6,1053.8 1295.6,1054.8 1299.5,1055.5 1303.5,1056.2 1307.5,1056.7 1311.5,1057.1 1315.5,1057.5 1319.4,1057.8 1323.4,1058.1 1327.4,1058.3 1331.4,1058.4 1335.4,1058.6 1339.4,1058.7 1343.4,1058.8 1347.4,1058.8 1351.4,1058.9 1355.4,1058.9 1359.4,1059.0 1363.4,1059.0 1367.4,1059.0 1371.4,1059.0 1375.4,1059.1 1379.5,1059.1 1383.5,1059.1" stroke="#00008B"/>
<path d="M822.3,1059.1 825.9,1059.1 829.5,1059.0 833.2,1059.0 836.8,1059.0 840.5,1059.0 844.1,1058.9 847.8,1058.9 851.5,1058.8 855.1,1058.8 858.8,1058.7 862.5,1058.6 866.2,1058.4 869.9,1058.3 873.6,1058.1 877.3,1057.8 881.0,1057.5 884.7,1057.1 888.4,1056.7 892.2,1056.2 895.9,1055.5 899.6,1054.8 903.4,1053.8 907.1,1052.8 910.9,1051.5 914.7,1050.0 918.4,1048.3 922.2,1046.3 926.0,1044.0 929.8,1041.4 933.6,1038.3 937.3,1034.9 941.2,1030.9 945.0,1026.5 948.8,1021.5 952.6,1015.9 956.4,1009.6 960.2,1002.7 964.1,995.1 967.9,986.7 971.8,977.6 975.6,967.6 979.5,956.8 983.3,945.2 987.2,932.8 991.1,919.6 995.0,905.6 998.9,890.8 1002.8,875.3 1006.6,859.2 1010.6,842.6 1014.5,825.4 1018.4,807.9 1022.3,790.2 1026.2,772.3 1030.2,754.4 1034.1,736.6 1038.0,719.1 1042.0,702.1 1045.9,685.7 1049.9,670.1 1053.9,655.4 1057.8,641.8 1061.8,629.4 1065.8,618.3 1069.8,608.7 1073.8,600.7 1077.8,594.4 1081.8,589.9 1085.8,587.1 1089.8,586.2 1093.8,587.1 1097.9,589.9 1101.9,594.4 1105.9,600.7 1110.0,608.7 1114.0,618.3 1118.1,629.4 1122.1,641.8 1126.2,655.4 1130.3,670.1 1134.3,685.7 1138.4,702.1 1142.5,719.1 1146.6,736.6 1150.7,754.4 1154.8,772.3 1158.9,790.2 1163.1,807.9 1167.2,825.4 1171.3,842.6 1175.4,859.2 1179.6,875.3 1183.7,890.8 1187.9,905.6 1192.0,919.6 1196.2,932.8 1200.4,945.2 1204.5,956.8 1208.7,967.6 1212.9,977.6 1217.1,986.7 1221.3,995.1 1225.5,1002.7 1229.7,1009.6 1233.9,1015.9 1238.1,1021.5 1242.3,1026.5 1246.6,1030.9 1250.8,1034.9 1255.1,1038.3 1259.3,1041.4 1263.6,1044.0 1267.8,1046.3 1272.1,1048.3 1276.3,1050.0 1280.6,1051.5 1284.9,1052.8 1289.2,1053.8 1293.5,1054.8 1297.8,1055.5 1302.1,1056.2 1306.4,1056.7 1310.7,1057.1 1315.0,1057.5 1319.3,1057.8 1323.7,1058.1 1328.0,1058.3 1332.4,1058.4 1336.7,1058.6 1341.1,1058.7 1345.4,1058.8 1349.8,1058.8 1354.1,1058.9 1358.5,1058.9 1362.9,1059.0 1367.3,1059.0 1371.7,1059.0 1376.1,1059.0 1380.5,1059.1 1384.9,1059.1" stroke="#FF00FF"/>
</g>
<g clip-path="url(#c22)" fill="none" stroke-width="5.0" stroke-linejoin="round">
<path d="M1328.4,1583.4 1332.8,1583.4 1337.2,1583.3 1341.6,1583.3 1346.0,1583.2 1350.4,1583.2 1354.8,1583.1 1359.1,1583.0 1363.5,1582.8 1367.9,1582.7 1372.2,1582.5 1376.6,1582.2 1380.9,1581.9 1385.3,1581.5 1389.6,1581.1 1394.0,1580.6 1398.3,1579.9 1402.6,1579.2 1407.0,1578.2 1411.3,1577.2 1415.6,1575.9 1419.9,1574.4 1424.2,1572.7 1428.5,1570.7 1432.8,1568.4 1437.1,1565.8 1441.3,1562.7 1445.6,1559.3 1449.9,1555.3 1454.1,1550.9 1458.4,1545.9 1462.7,1540.3 1466.9,1534.0 1471.2,1527.1 1475.4,1519.5 1479.6,1511.1 1483.9,1502.0 1488.1,1492.0 1492.3,1481.2 1496.5,1469.6 1500.7,1457.2 1504.9,1444.0 1509.1,1430.0 1513.3,1415.2 1517.5,1399.7 1521.7,1383.6 1525.9,1367.0 1530.1,1349.8 1534.2,1332.3 1538.4,1314.6 1542.6,1296.7 1546.7,1278.8 1550.9,1261.0 1555.0,1243.5 1559.1,1226.5 1563.3,1210.1 1567.4,1194.5 1571.5,1179.8 1575.6,1166.2 1579.8,1153.8 1583.9,1142.7 1588.0,1133.1 1592.1,1125.1 1596.2,1118.8 1600.2,1114.3 1604.3,1111.5 1608.4,1110.6 1612.5,1111.5 1616.5,1114.3 1620.6,1118.8 1624.7,1125.1 1628.7,1133.1 1632.8,1142.7 1636.8,1153.8 1640.8,1166.2 1644.9,1179.8 1648.9,1194.5 1652.9,1210.1 1656.9,1226.5 1660.9,1243.5 1665.0,1261.0 1669.0,1278.8 1673.0,1296.7 1676.9,1314.6 1680.9,1332.3 1684.9,1349.8 1688.9,1367.0 1692.9,1383.6 1696.8,1399.7 1700.8,1415.2 1704.7,1430.0 1708.7,1444.0 1712.6,1457.2 1716.6,1469.6 1720.5,1481.2 1724.4,1492.0 1728.4,1502.0 1732.3,1511.1 1736.2,1519.5 1740.1,1527.1 1744.0,1534.0 1747.9,1540.3 1751.8,1545.9 1755.7,1550.9 1759.6,1555.3 1763.5,1559.3 1767.3,1562.7 1771.2,1565.8 1775.1,1568.4 1778.9,1570.7 1782.8,1572.7 1786.6,1574.4 1790.5,1575.9 1794.3,1577.2 1798.2,1578.2 1802.0,1579.2 1805.8,1579.9 1809.6,1580.6 1813.4,1581.1 1817.2,1581.5 1821.0,1581.9 1824.8,1582.2 1828.6,1582.5 1832.4,1582.7 1836.2,1582.8 1840.0,1583.0 1843.8,1583.1 1847.5,1583.2 1851.3,1583.2 1855.0,1583.3 1858.8,1583.3 1862.5,1583.4 1866.3,1583.4 1870.0,1583.4 1873.8,1583.4 1877.5,1583.5 1881.2,1583.5 1884.9,1583.5" stroke="#FFA500"/>
<path d="M1329.0,1583.4 1333.4,1583.4 1337.8,1583.3 1342.1,1583.3 1346.5,1583.2 1350.8,1583.2 1355.2,1583.1 1359.5,1583.0 1363.9,1582.8 1368.2,1582.7 1372.5,1582.5 1376.9,1582.2 1381.2,1581.9 1385.5,1581.5 1389.8,1581.1 1394.1,1580.6 1398.4,1579.9 1402.7,1579.2 1407.0,1578.2 1411.3,1577.2 1415.6,1575.9 1419.8,1574.4 1424.1,1572.7 1428.4,1570.7 1432.6,1568.4 1436.9,1565.8 1441.1,1562.7 1445.4,1559.3 1449.6,1555.3 1453.9,1550.9 1458.1,1545.9 1462.3,1540.3 1466.5,1534.0 1470.7,1527.1 1475.0,1519.5 1479.2,1511.1 1483.4,1502.0 1487.5,1492.0 1491.7,1481.2 1495.9,1469.6 1500.1,1457.2 1504.3,1444.0 1508.4,1430.0 1512.6,1415.2 1516.8,1399.7 1520.9,1383.6 1525.1,1367.0 1529.2,1349.8 1533.3,1332.3 1537.5,1314.6 1541.6,1296.7 1545.7,1278.8 1549.8,1261.0 1554.0,1243.5 1558.1,1226.5 1562.2,1210.1 1566.3,1194.5 1570.4,1179.8 1574.4,1166.2 1578.5,1153.8 1582.6,1142.7 1586.7,1133.1 1590.7,1125.1 1594.8,1118.8 1598.9,1114.3 1602.9,1111.5 1607.0,1110.6 1611.0,1111.5 1615.0,1114.3 1619.1,1118.8 1623.1,1125.1 1627.1,1133.1 1631.1,1142.7 1635.1,1153.8 1639.1,1166.2 1643.1,1179.8 1647.1,1194.5 1651.1,1210.1 1655.1,1226.5 1659.1,1243.5 1663.1,1261.0 1667.0,1278.8 1671.0,1296.7 1675.0,1314.6 1678.9,1332.3 1682.9,1349.8 1686.8,1367.0 1690.7,1383.6 1694.7,1399.7 1698.6,1415.2 1702.5,1430.0 1706.5,1444.0 1710.4,1457.2 1714.3,1469.6 1718.2,1481.2 1722.1,1492.0 1726.0,1502.0 1729.9,1511.1 1733.8,1519.5 1737.6,1527.1 1741.5,1534.0 1745.4,1540.3 1749.2,1545.9 1753.1,1550.9 1756.9,1555.3 1760.8,1559.3 1764.6,1562.7 1768.5,1565.8 1772.3,1568.4 1776.1,1570.7 1780.0,1572.7 1783.8,1574.4 1787.6,1575.9 1791.4,1577.2 1795.2,1578.2 1799.0,1579.2 1802.8,1579.9 1806.6,1580.6 1810.4,1581.1 1814.1,1581.5 1817.9,1581.9 1821.7,1582.2 1825.4,1582.5 1829.2,1582.7 1832.9,1582.8 1836.7,1583.0 1840.4,1583.1 1844.2,1583.2 1847.9,1583.2 1851.6,1583.3 1855.4,1583.3 1859.1,1583.4 1862.8,1583.4 1866.5,1583.4 1870.2,1583.4 1873.9,1583.5 1877.6,1583.5 1881.3,1583.5 1884.9,1583.5" stroke="#00008B"/>
<path d="M1325.4,1583.4 1329.8,1583.4 1334.3,1583.3 1338.8,1583.3 1343.2,1583.2 1347.7,1583.2 1352.1,1583.1 1356.6,1583.0 1361.0,1582.8 1365.4,1582.7 1369.9,1582.5 1374.3,1582.2 1378.7,1581.9 1383.1,1581.5 1387.5,1581.1 1391.9,1580.6 1396.3,1579.9 1400.7,1579.2 1405.1,1578.2 1409.5,1577.2 1413.9,1575.9 1418.2,1574.4 1422.6,1572.7 1427.0,1570.7 1431.3,1568.4 1435.7,1565.8 1440.0,1562.7 1444.4,1559.3 1448.7,1555.3 1453.0,1550.9 1457.3,1545.9 1461.7,1540.3 1466.0,1534.0 1470.3,1527.1 1474.6,1519.5 1478.9,1511.1 1483.2,1502.0 1487.5,1492.0 1491.8,1481.2 1496.1,1469.6 1500.3,1457.2 1504.6,1444.0 1508.9,1430.0 1513.1,1415.2 1517.4,1399.7 1521.6,1383.6 1525.9,1367.0 1530.1,1349.8 1534.3,1332.3 1538.6,1314.6 1542.8,1296.7 1547.0,1278.8 1551.2,1261.0 1555.4,1243.5 1559.6,1226.5 1563.8,1210.1 1568.0,1194.5 1572.2,1179.8 1576.4,1166.2 1580.6,1153.8 1584.8,1142.7 1588.9,1133.1 1593.1,1125.1 1597.3,1118.8 1601.4,1114.3 1605.6,1111.5 1609.7,1110.6 1613.8,1111.5 1618.0,1114.3 1622.1,1118.8 1626.2,1125.1 1630.3,1133.1 1634.5,1142.7 1638.6,1153.8 1642.7,1166.2 1646.8,1179.8 1650.9,1194.5 1654.9,1210.1 1659.0,1226.5 1663.1,1243.5 1667.2,1261.0 1671.2,1278.8 1675.3,1296.7 1679.4,1314.6 1683.4,1332.3 1687.5,1349.8 1691.5,1367.0 1695.5,1383.6 1699.6,1399.7 1703.6,1415.2 1707.6,1430.0 1711.6,1444.0 1715.6,1457.2 1719.6,1469.6 1723.6,1481.2 1727.6,1492.0 1731.6,1502.0 1735.6,1511.1 1739.6,1519.5 1743.6,1527.1 1747.5,1534.0 1751.5,1540.3 1755.5,1545.9 1759.4,1550.9 1763.4,1555.3 1767.3,1559.3 1771.3,1562.7 1775.2,1565.8 1779.1,1568.4 1783.1,1570.7 1787.0,1572.7 1790.9,1574.4 1794.8,1575.9 1798.7,1577.2 1802.6,1578.2 1806.5,1579.2 1810.4,1579.9 1814.3,1580.6 1818.1,1581.1 1822.0,1581.5 1825.9,1581.9 1829.8,1582.2 1833.6,1582.5 1837.5,1582.7 1841.3,1582.8 1845.2,1583.0 1849.0,1583.1 1852.8,1583.2 1856.7,1583.2 1860.5,1583.3 1864.3,1583.3 1868.1,1583.4 1871.9,1583.4 1875.7,1583.4 1879.5,1583.4 1883.3,1583.5 1887.1,1583.5" stroke="#FF00FF"/>
</g>
<g clip-path="url(#c33)" fill="none" stroke-width="5.0" stroke-linejoin="round">
<path d="M1830.9,2107.6 1837.6,2107.5 1844.3,2107.4 1850.8,2107.2 1857.2,2107.1 1863.6,2106.9 1869.8,2106.6 1876.0,2106.3 1882.0,2105.9 1888.0,2105.5 1893.9,2105.0 1899.7,2104.3 1905.4,2103.6 1911.1,2102.6 1916.6,2101.6 1922.1,2100.3 1927.5,2098.8 1932.8,2097.1 1938.1,2095.1 1943.2,2092.8 1948.4,2090.2 1953.4,2087.1 1958.4,2083.7 1963.3,2079.7 1968.1,2075.3 1972.9,2070.3 1977.6,2064.7 1982.2,2058.4 1986.8,2051.5 1991.4,2043.9 1995.9,2035.5 2000.3,2026.4 2004.7,2016.4 2009.0,2005.6 2013.3,1994.0 2017.5,1981.6 2021.7,1968.4 2025.8,1954.4 2029.9,1939.6 2034.0,1924.1 2038.0,1908.0 2042.0,1891.4 2045.9,1874.2 2049.8,1856.7 2053.7,1839.0 2057.5,1821.1 2061.3,1803.2 2065.1,1785.4 2068.9,1767.9 2072.6,1750.9 2076.3,1734.5 2080.0,1718.9 2083.6,1704.2 2087.3,1690.6 2090.9,1678.2 2094.5,1667.1 2098.1,1657.5 2101.7,1649.5 2105.3,1643.2 2108.8,1638.7 2112.4,1635.9 2115.9,1635.0 2119.5,1635.9 2123.0,1638.7 2126.5,1643.2 2130.1,1649.5 2133.6,1657.5 2137.2,1667.1 2140.7,1678.2 2144.3,1690.6 2147.8,1704.2 2151.4,1718.9 2155.0,1734.5 2158.6,1750.9 2162.2,1767.9 2165.8,1785.4 2169.4,1803.2 2173.1,1821.1 2176.8,1839.0 2180.5,1856.7 2184.2,1874.2 2187.9,1891.4 2191.7,1908.0 2195.5,1924.1 2199.3,1939.6 2203.2,1954.4 2207.1,1968.4 2211.0,1981.6 2215.0,1994.0 2219.0,2005.6 2223.0,2016.4 2227.1,2026.4 2231.3,2035.5 2235.4,2043.9 2239.6,2051.5 2243.9,2058.4 2248.2,2064.7 2252.6,2070.3 2257.0,2075.3 2261.5,2079.7 2266.0,2083.7 2270.6,2087.1 2275.2,2090.2 2279.9,2092.8 2284.7,2095.1 2289.5,2097.1 2294.4,2098.8 2299.3,2100.3 2304.4,2101.6 2309.4,2102.6 2314.6,2103.6 2319.8,2104.3 2325.1,2105.0 2330.5,2105.5 2336.0,2105.9 2341.5,2106.3 2347.1,2106.6 2352.8,2106.9 2358.6,2107.1 2364.5,2107.2 2370.5,2107.4 2376.5,2107.5 2382.6,2107.6 2388.9,2107.6" stroke="#FFA500"/>
<path d="M1834.2,2107.5 1840.9,2107.4 1847.4,2107.2 1853.9,2107.1 1860.3,2106.9 1866.5,2106.6 1872.7,2106.3 1878.8,2105.9 1884.8,2105.5 1890.7,2105.0 1896.6,2104.3 1902.3,2103.6 1908.0,2102.6 1913.6,2101.6 1919.1,2100.3 1924.5,2098.8 1929.9,2097.1 1935.1,2095.1 1940.3,2092.8 1945.5,2090.2 1950.5,2087.1 1955.5,2083.7 1960.4,2079.7 1965.3,2075.3 1970.1,2070.3 1974.8,2064.7 1979.5,2058.4 1984.1,2051.5 1988.7,2043.9 1993.2,2035.5 1997.6,2026.4 2002.0,2016.4 2006.4,2005.6 2010.7,1994.0 2014.9,1981.6 2019.1,1968.4 2023.3,1954.4 2027.4,1939.6 2031.5,1924.1 2035.5,1908.0 2039.5,1891.4 2043.5,1874.2 2047.4,1856.7 2051.3,1839.0 2055.2,1821.1 2059.0,1803.2 2062.8,1785.4 2066.6,1767.9 2070.3,1750.9 2074.0,1734.5 2077.7,1718.9 2081.4,1704.2 2085.1,1690.6 2088.7,1678.2 2092.4,1667.1 2096.0,1657.5 2099.6,1649.5 2103.2,1643.2 2106.7,1638.7 2110.3,1635.9 2113.9,1635.0 2117.4,1635.9 2121.0,1638.7 2124.5,1643.2 2128.1,1649.5 2131.7,1657.5 2135.2,1667.1 2138.8,1678.2 2142.4,1690.6 2145.9,1704.2 2149.5,1718.9 2153.1,1734.5 2156.7,1750.9 2160.4,1767.9 2164.0,1785.4 2167.6,1803.2 2171.3,1821.1 2175.0,1839.0 2178.7,1856.7 2182.5,1874.2 2186.3,1891.4 2190.0,1908.0 2193.9,1924.1 2197.7,1939.6 2201.6,1954.4 2205.5,1968.4 2209.5,1981.6 2213.5,1994.0 2217.5,2005.6 2221.6,2016.4 2225.7,2026.4 2229.8,2035.5 2234.0,2043.9 2238.3,2051.5 2242.5,2058.4 2246.9,2064.7 2251.3,2070.3 2255.7,2075.3 2260.2,2079.7 2264.7,2083.7 2269.3,2087.1 2274.0,2090.2 2278.7,2092.8 2283.5,2095.1 2288.4,2097.1 2293.3,2098.8 2298.3,2100.3 2303.3,2101.6 2308.4,2102.6 2313.6,2103.6 2318.9,2104.3 2324.2,2105.0 2329.6,2105.5 2335.1,2105.9 2340.7,2106.3 2346.3,2106.6 2352.1,2106.9 2357.9,2107.1 2363.8,2107.2 2369.8,2107.4 2375.8,2107.5 2382.0,2107.6 2388.3,2107.6" stroke="#00008B"/>
<path d="M1829.4,2107.5 1836.1,2107.4 1842.7,2107.2 1849.2,2107.1 1855.6,2106.9 1861.9,2106.6 1868.1,2106.3 1874.2,2105.9 1880.2,2105.5 1886.1,2105.0 1892.0,2104.3 1897.8,2103.6 1903.4,2102.6 1909.1,2101.6 1914.6,2100.3 1920.0,2098.8 1925.4,2097.1 1930.7,2095.1 1935.9,2092.8 1941.1,2090.2 1946.1,2087.1 1951.1,2083.7 1956.1,2079.7 1961.0,2075.3 1965.8,2070.3 1970.5,2064.7 1975.2,2058.4 1979.9,2051.5 1984.4,2043.9 1988.9,2035.5 1993.4,2026.4 1997.8,2016.4 2002.2,2005.6 2006.5,1994.0 2010.8,1981.6 2015.0,1968.4 2019.1,1954.4 2023.3,1939.6 2027.4,1924.1 2031.4,1908.0 2035.4,1891.4 2039.4,1874.2 2043.3,1856.7 2047.2,1839.0 2051.1,1821.1 2055.0,1803.2 2058.8,1785.4 2062.6,1767.9 2066.3,1750.9 2070.1,1734.5 2073.8,1718.9 2077.5,1704.2 2081.1,1690.6 2084.8,1678.2 2088.4,1667.1 2092.1,1657.5 2095.7,1649.5 2099.3,1643.2 2102.9,1638.7 2106.4,1635.9 2110.0,1635.0 2113.6,1635.9 2117.2,1638.7 2120.7,1643.2 2124.3,1649.5 2127.9,1657.5 2131.4,1667.1 2135.0,1678.2 2138.6,1690.6 2142.2,1704.2 2145.8,1718.9 2149.4,1734.5 2153.0,1750.9 2156.7,1767.9 2160.3,1785.4 2164.0,1803.2 2167.7,1821.1 2171.4,1839.0 2175.1,1856.7 2178.9,1874.2 2182.7,1891.4 2186.5,1908.0 2190.3,1924.1 2194.2,1939.6 2198.1,1954.4 2202.0,1968.4 2206.0,1981.6 2210.0,1994.0 2214.0,2005.6 2218.1,2016.4 2222.2,2026.4 2226.4,2035.5 2230.6,2043.9 2234.8,2051.5 2239.1,2058.4 2243.5,2064.7 2247.9,2070.3 2252.3,2075.3 2256.9,2079.7 2261.4,2083.7 2266.0,2087.1 2270.7,2090.2 2275.5,2092.8 2280.3,2095.1 2285.1,2097.1 2290.1,2098.8 2295.1,2100.3 2300.1,2101.6 2305.3,2102.6 2310.5,2103.6 2315.7,2104.3 2321.1,2105.0 2326.5,2105.5 2332.0,2105.9 2337.6,2106.3 2343.3,2106.6 2349.0,2106.9 2354.9,2107.1 2360.8,2107.2 2366.8,2107.4 2372.9,2107.5 2379.1,2107.6 2385.4,2107.6" stroke="#FF00FF"/>
</g>
<g clip-path="url(#c44)" fill="none" stroke-width="5.0" stroke-linejoin="round">
<path d="M2337.0,2631.8 2343.5,2631.6 2350.0,2631.5 2356.3,2631.3 2362.6,2631.0 2368.8,2630.7 2374.9,2630.3 2380.9,2629.9 2386.9,2629.4 2392.7,2628.7 2398.5,2628.0 2404.2,2627.0 2409.9,2626.0 2415.4,2624.7 2420.9,2623.2 2426.3,2621.5 2431.7,2619.5 2436.9,2617.2 2442.1,2614.6 2447.3,2611.5 2452.4,2608.1 2457.4,2604.1 2462.3,2599.7 2467.2,2594.7 2472.1,2589.1 2476.9,2582.8 2481.6,2575.9 2486.3,2568.3 2490.9,2559.9 2495.4,2550.8 2500.0,2540.8 2504.4,2530.0 2508.8,2518.4 2513.2,2506.0 2517.6,2492.8 2521.8,2478.8 2526.1,2464.0 2530.3,2448.5 2534.5,2432.4 2538.6,2415.8 2542.7,2398.6 2546.7,2381.1 2550.8,2363.4 2554.8,2345.5 2558.7,2327.6 2562.7,2309.8 2566.6,2292.3 2570.4,2275.3 2574.3,2258.9 2578.1,2243.3 2581.9,2228.6 2585.7,2215.0 2589.5,2202.6 2593.3,2191.5 2597.0,2181.9 2600.7,2173.9 2604.4,2167.6 2608.1,2163.1 2611.8,2160.3 2615.5,2159.4 2619.2,2160.3 2622.8,2163.1 2626.5,2167.6 2630.1,2173.9 2633.8,2181.9 2637.4,2191.5 2641.1,2202.6 2644.7,2215.0 2648.4,2228.6 2652.1,2243.3 2655.7,2258.9 2659.4,2275.3 2663.1,2292.3 2666.8,2309.8 2670.5,2327.6 2674.2,2345.5 2678.0,2363.4 2681.7,2381.1 2685.5,2398.6 2689.3,2415.8 2693.1,2432.4 2696.9,2448.5 2700.8,2464.0 2704.6,2478.8 2708.5,2492.8 2712.5,2506.0 2716.4,2518.4 2720.4,2530.0 2724.4,2540.8 2728.5,2550.8 2732.6,2559.9 2736.7,2568.3 2740.9,2575.9 2745.1,2582.8 2749.3,2589.1 2753.6,2594.7 2757.9,2599.7 2762.3,2604.1 2766.7,2608.1 2771.2,2611.5 2775.7,2614.6 2780.3,2617.2 2784.9,2619.5 2789.5,2621.5 2794.3,2623.2 2799.0,2624.7 2803.9,2626.0 2808.8,2627.0 2813.7,2628.0 2818.7,2628.7 2823.8,2629.4 2828.9,2629.9 2834.1,2630.3 2839.4,2630.7 2844.7,2631.0 2850.1,2631.3 2855.6,2631.5 2861.2,2631.6 2866.8,2631.8 2872.5,2631.9 2878.3,2632.0 2884.1,2632.0 2890.1,2632.1" stroke="#FFA500"/>
<path d="M2332.3,2631.9 2339.0,2631.8 2345.5,2631.6 2352.0,2631.5 2358.3,2631.3 2364.6,2631.0 2370.8,2630.7 2376.9,2630.3 2382.9,2629.9 2388.9,2629.4 2394.7,2628.7 2400.5,2628.0 2406.2,2627.0 2411.9,2626.0 2417.4,2624.7 2422.9,2623.2 2428.3,2621.5 2433.7,2619.5 2438.9,2617.2 2444.1,2614.6 2449.3,2611.5 2454.4,2608.1 2459.4,2604.1 2464.3,2599.7 2469.2,2594.7 2474.1,2589.1 2478.9,2582.8 2483.6,2575.9 2488.3,2568.3 2492.9,2559.9 2497.4,2550.8 2502.0,2540.8 2506.4,2530.0 2510.8,2518.4 2515.2,2506.0 2519.6,2492.8 2523.8,2478.8 2528.1,2464.0 2532.3,2448.5 2536.5,2432.4 2540.6,2415.8 2544.7,2398.6 2548.7,2381.1 2552.8,2363.4 2556.8,2345.5 2560.7,2327.6 2564.7,2309.8 2568.6,2292.3 2572.4,2275.3 2576.3,2258.9 2580.1,2243.3 2583.9,2228.6 2587.7,2215.0 2591.5,2202.6 2595.3,2191.5 2599.0,2181.9 2602.7,2173.9 2606.4,2167.6 2610.1,2163.1 2613.8,2160.3 2617.5,2159.4 2621.2,2160.3 2624.8,2163.1 2628.5,2167.6 2632.1,2173.9 2635.8,2181.9 2639.4,2191.5 2643.1,2202.6 2646.7,2215.0 2650.4,2228.6 2654.1,2243.3 2657.7,2258.9 2661.4,2275.3 2665.1,2292.3 2668.8,2309.8 2672.5,2327.6 2676.2,2345.5 2680.0,2363.4 2683.7,2381.1 2687.5,2398.6 2691.3,2415.8 2695.1,2432.4 2698.9,2448.5 2702.8,2464.0 2706.6,2478.8 2710.5,2492.8 2714.5,2506.0 2718.4,2518.4 2722.4,2530.0 2726.4,2540.8 2730.5,2550.8 2734.6,2559.9 2738.7,2568.3 2742.9,2575.9 2747.1,2582.8 2751.3,2589.1 2755.6,2594.7 2759.9,2599.7 2764.3,2604.1 2768.7,2608.1 2773.2,2611.5 2777.7,2614.6 2782.3,2617.2 2786.9,2619.5 2791.5,2621.5 2796.3,2623.2 2801.0,2624.7 2805.9,2626.0 2810.8,2627.0 2815.7,2628.0 2820.7,2628.7 2825.8,2629.4 2830.9,2629.9 2836.1,2630.3 2841.4,2630.7 2846.7,2631.0 2852.1,2631.3 2857.6,2631.5 2863.2,2631.6 2868.8,2631.8 2874.5,2631.9 2880.3,2632.0 2886.1,2632.0 2892.1,2632.1" stroke="#00008B"/>
<path d="M2336.2,2631.9 2342.8,2631.8 2349.4,2631.6 2355.8,2631.5 2362.2,2631.3 2368.5,2631.0 2374.7,2630.7 2380.8,2630.3 2386.8,2629.9 2392.8,2629.4 2398.6,2628.7 2404.4,2628.0 2410.2,2627.0 2415.8,2626.0 2421.4,2624.7 2426.8,2623.2 2432.3,2621.5 2437.6,2619.5 2442.9,2617.2 2448.1,2614.6 2453.3,2611.5 2458.3,2608.1 2463.4,2604.1 2468.3,2599.7 2473.2,2594.7 2478.1,2589.1 2482.9,2582.8 2487.6,2575.9 2492.3,2568.3 2496.9,2559.9 2501.4,2550.8 2506.0,2540.8 2510.4,2530.0 2514.9,2518.4 2519.2,2506.0 2523.6,2492.8 2527.9,2478.8 2532.1,2464.0 2536.3,2448.5 2540.5,2432.4 2544.6,2415.8 2548.7,2398.6 2552.8,2381.1 2556.8,2363.4 2560.8,2345.5 2564.8,2327.6 2568.7,2309.8 2572.6,2292.3 2576.5,2275.3 2580.4,2258.9 2584.2,2243.3 2588.0,2228.6 2591.8,2215.0 2595.6,2202.6 2599.3,2191.5 2603.1,2181.9 2606.8,2173.9 2610.5,2167.6 2614.2,2163.1 2617.9,2160.3 2621.6,2159.4 2625.3,2160.3 2628.9,2163.1 2632.6,2167.6 2636.2,2173.9 2639.9,2181.9 2643.6,2191.5 2647.2,2202.6 2650.9,2215.0 2654.5,2228.6 2658.2,2243.3 2661.9,2258.9 2665.5,2275.3 2669.2,2292.3 2672.9,2309.8 2676.6,2327.6 2680.4,2345.5 2684.1,2363.4 2687.9,2381.1 2691.6,2398.6 2695.4,2415.8 2699.2,2432.4 2703.1,2448.5 2706.9,2464.0 2710.8,2478.8 2714.7,2492.8 2718.7,2506.0 2722.6,2518.4 2726.6,2530.0 2730.6,2540.8 2734.7,2550.8 2738.8,2559.9 2742.9,2568.3 2747.1,2575.9 2751.3,2582.8 2755.5,2589.1 2759.8,2594.7 2764.2,2599.7 2768.5,2604.1 2772.9,2608.1 2777.4,2611.5 2781.9,2614.6 2786.5,2617.2 2791.1,2619.5 2795.8,2621.5 2800.5,2623.2 2805.3,2624.7 2810.1,2626.0 2815.0,2627.0 2820.0,2628.0 2825.0,2628.7 2830.1,2629.4 2835.2,2629.9 2840.4,2630.3 2845.7,2630.7 2851.0,2631.0 2856.5,2631.3 2861.9,2631.5 2867.5,2631.6 2873.1,2631.8 2878.8,2631.9 2884.6,2632.0 2890.5,2632.0" stroke="#FF00FF"/>
</g>
<g clip-path="url(#c55)" fill="none" stroke-width="5.0" stroke-linejoin="round">
<path d="M2838.7,3156.6 2843.1,3156.5 2847.5,3156.5 2851.9,3156.4 2856.3,3156.4 2860.7,3156.3 2865.1,3156.2 2869.5,3156.0 2873.8,3155.9 2878.2,3155.7 2882.6,3155.4 2887.0,3155.1 2891.4,3154.7 2895.7,3154.3 2900.1,3153.8 2904.5,3153.1 2908.8,3152.4 2913.2,3151.4 2917.5,3150.4 2921.9,3149.1 2926.2,3147.6 2930.6,3145.9 2934.9,3143.9 2939.3,3141.6 2943.6,3139.0 2948.0,3135.9 2952.3,3132.5 2956.6,3128.5 2960.9,3124.1 2965.3,3119.1 2969.6,3113.5 2973.9,3107.2 2978.2,3100.3 2982.5,3092.7 2986.8,3084.3 2991.1,3075.2 2995.5,3065.2 2999.8,3054.4 3004.1,3042.8 3008.3,3030.4 3012.6,3017.2 3016.9,3003.2 3021.2,2988.4 3025.5,2972.9 3029.8,2956.8 3034.1,2940.2 3038.3,2923.0 3042.6,2905.5 3046.9,2887.8 3051.1,2869.9 3055.4,2852.0 3059.7,2834.2 3063.9,2816.7 3068.2,2799.7 3072.4,2783.3 3076.7,2767.7 3080.9,2753.0 3085.2,2739.4 3089.4,2727.0 3093.6,2715.9 3097.9,2706.3 3102.1,2698.3 3106.3,2692.0 3110.6,2687.5 3114.8,2684.7 3119.0,2683.8 3123.2,2684.7 3127.4,2687.5 3131.7,2692.0 3135.9,2698.3 3140.1,2706.3 3144.3,2715.9 3148.5,2727.0 3152.7,2739.4 3156.9,2753.0 3161.1,2767.7 3165.2,2783.3 3169.4,2799.7 3173.6,2816.7 3177.8,2834.2 3182.0,2852.0 3186.1,2869.9 3190.3,2887.8 3194.5,2905.5 3198.6,2923.0 3202.8,2940.2 3207.0,2956.8 3211.1,2972.9 3215.3,2988.4 3219.4,3003.2 3223.6,3017.2 3227.7,3030.4 3231.9,3042.8 3236.0,3054.4 3240.1,3065.2 3244.3,3075.2 3248.4,3084.3 3252.5,3092.7 3256.7,3100.3 3260.8,3107.2 3264.9,3113.5 3269.0,3119.1 3273.1,3124.1 3277.2,3128.5 3281.3,3132.5 3285.5,3135.9 3289.6,3139.0 3293.7,3141.6 3297.7,3143.9 3301.8,3145.9 3305.9,3147.6 3310.0,3149.1 3314.1,3150.4 3318.2,3151.4 3322.3,3152.4 3326.3,3153.1 3330.4,3153.8 3334.5,3154.3 3338.5,3154.7 3342.6,3155.1 3346.7,3155.4 3350.7,3155.7 3354.8,3155.9 3358.8,3156.0 3362.9,3156.2 3366.9,3156.3 3371.0,3156.4 3375.0,3156.4 3379.1,3156.5 3383.1,3156.5 3387.1,3156.6 3391.2,3156.6 3395.2,3156.6" stroke="#FFA500"/>
<path d="M2838.5,3156.5 2843.0,3156.5 2847.4,3156.4 2851.8,3156.4 2856.3,3156.3 2860.7,3156.2 2865.1,3156.0 2869.5,3155.9 2873.9,3155.7 2878.3,3155.4 2882.7,3155.1 2887.2,3154.7 2891.6,3154.3 2896.0,3153.8 2900.3,3153.1 2904.7,3152.4 2909.1,3151.4 2913.5,3150.4 2917.9,3149.1 2922.3,3147.6 2926.7,3145.9 2931.0,3143.9 2935.4,3141.6 2939.8,3139.0 2944.2,3135.9 2948.5,3132.5 2952.9,3128.5 2957.2,3124.1 2961.6,3119.1 2965.9,3113.5 2970.3,3107.2 2974.6,3100.3 2979.0,3092.7 2983.3,3084.3 2987.7,3075.2 2992.0,3065.2 2996.3,3054.4 3000.7,3042.8 3005.0,3030.4 3009.3,3017.2 3013.6,3003.2 3017.9,2988.4 3022.3,2972.9 3026.6,2956.8 3030.9,2940.2 3035.2,2923.0 3039.5,2905.5 3043.8,2887.8 3048.1,2869.9 3052.4,2852.0 3056.7,2834.2 3061.0,2816.7 3065.3,2799.7 3069.5,2783.3 3073.8,2767.7 3078.1,2753.0 3082.4,2739.4 3086.6,2727.0 3090.9,2715.9 3095.2,2706.3 3099.4,2698.3 3103.7,2692.0 3108.0,2687.5 3112.2,2684.7 3116.5,2683.8 3120.7,2684.7 3125.0,2687.5 3129.2,2692.0 3133.4,2698.3 3137.7,2706.3 3141.9,2715.9 3146.1,2727.0 3150.4,2739.4 3154.6,2753.0 3158.8,2767.7 3163.0,2783.3 3167.3,2799.7 3171.5,2816.7 3175.7,2834.2 3179.9,2852.0 3184.1,2869.9 3188.3,2887.8 3192.5,2905.5 3196.7,2923.0 3200.9,2940.2 3205.1,2956.8 3209.3,2972.9 3213.4,2988.4 3217.6,3003.2 3221.8,3017.2 3226.0,3030.4 3230.2,3042.8 3234.3,3054.4 3238.5,3065.2 3242.7,3075.2 3246.8,3084.3 3251.0,3092.7 3255.1,3100.3 3259.3,3107.2 3263.4,3113.5 3267.6,3119.1 3271.7,3124.1 3275.9,3128.5 3280.0,3132.5 3284.2,3135.9 3288.3,3139.0 3292.4,3141.6 3296.5,3143.9 3300.7,3145.9 3304.8,3147.6 3308.9,3149.1 3313.0,3150.4 3317.1,3151.4 3321.2,3152.4 3325.3,3153.1 3329.5,3153.8 3333.6,3154.3 3337.7,3154.7 3341.7,3155.1 3345.8,3155.4 3349.9,3155.7 3354.0,3155.9 3358.1,3156.0 3362.2,3156.2 3366.3,3156.3 3370.3,3156.4 3374.4,3156.4 3378.5,3156.5 3382.5,3156.5 3386.6,3156.6 3390.7,3156.6 3394.7,3156.6" stroke="#00008B"/>
<path d="M2835.3,3156.6 2839.7,3156.5 2844.2,3156.5 2848.6,3156.4 2853.1,3156.4 2857.5,3156.3 2861.9,3156.2 2866.4,3156.0 2870.8,3155.9 2875.2,3155.7 2879.6,3155.4 2884.0,3155.1 2888.5,3154.7 2892.9,3154.3 2897.3,3153.8 2901.7,3153.1 2906.1,3152.4 2910.5,3151.4 2914.9,3150.4 2919.3,3149.1 2923.7,3147.6 2928.1,3145.9 2932.4,3143.9 2936.8,3141.6 2941.2,3139.0 2945.6,3135.9 2949.9,3132.5 2954.3,3128.5 2958.7,3124.1 2963.1,3119.1 2967.4,3113.5 2971.8,3107.2 2976.1,3100.3 2980.5,3092.7 2984.8,3084.3 2989.2,3075.2 2993.5,3065.2 2997.9,3054.4 3002.2,3042.8 3006.5,3030.4 3010.9,3017.2 3015.2,3003.2 3019.5,2988.4 3023.9,2972.9 3028.2,2956.8 3032.5,2940.2 3036.8,2923.0 3041.1,2905.5 3045.4,2887.8 3049.7,2869.9 3054.0,2852.0 3058.3,2834.2 3062.6,2816.7 3066.9,2799.7 3071.2,2783.3 3075.5,2767.7 3079.8,2753.0 3084.1,2739.4 3088.4,2727.0 3092.7,2715.9 3096.9,2706.3 3101.2,2698.3 3105.5,2692.0 3109.7,2687.5 3114.0,2684.7 3118.3,2683.8 3122.5,2684.7 3126.8,2687.5 3131.0,2692.0 3135.3,2698.3 3139.5,2706.3 3143.8,2715.9 3148.0,2727.0 3152.2,2739.4 3156.5,2753.0 3160.7,2767.7 3164.9,2783.3 3169.2,2799.7 3173.4,2816.7 3177.6,2834.2 3181.8,2852.0 3186.0,2869.9 3190.3,2887.8 3194.5,2905.5 3198.7,2923.0 3202.9,2940.2 3207.1,2956.8 3211.3,2972.9 3215.5,2988.4 3219.7,3003.2 3223.8,3017.2 3228.0,3030.4 3232.2,3042.8 3236.4,3054.4 3240.6,3065.2 3244.7,3075.2 3248.9,3084.3 3253.1,3092.7 3257.2,3100.3 3261.4,3107.2 3265.6,3113.5 3269.7,3119.1 3273.9,3124.1 3278.0,3128.5 3282.2,3132.5 3286.3,3135.9 3290.5,3139.0 3294.6,3141.6 3298.7,3143.9 3302.9,3145.9 3307.0,3147.6 3311.1,3149.1 3315.3,3150.4 3319.4,3151.4 3323.5,3152.4 3327.6,3153.1 3331.7,3153.8 3335.8,3154.3 3339.9,3154.7 3344.1,3155.1 3348.2,3155.4 3352.3,3155.7 3356.4,3155.9 3360.4,3156.0 3364.5,3156.2 3368.6,3156.3 3372.7,3156.4 3376.8,3156.4 3380.9,3156.5 3384.9,3156.5 3389.0,3156.6 3393.1,3156.6 3397.2,3156.6" stroke="#FF00FF"/>
</g>
<path d="M348.50,14.50h503.2v520.2h-503.2z M348.50,538.90h503.2v520.2h-503.2z M851.70,538.90h503.2v520.2h-503.2z M348.50,1063.30h503.2v520.2h-503.2z M851.70,1063.30h503.2v520.2h-503.2z M1354.90,1063.30h503.2v520.2h-503.2z M348.50,1587.70h503.2v520.2h-503.2z M851.70,1587.70h503.2v520.2h-503.2z M1354.90,1587.70h503.2v520.2h-503.2z M1858.10,1587.70h503.2v520.2h-503.2z M348.50,2112.10h503.2v520.2h-503.2z M851.70,2112.10h503.2v520.2h-503.2z M1354.90,2112.10h503.2v520.2h-503.2z M1858.10,2112.10h503.2v520.2h-503.2z M2361.30,2112.10h503.2v520.2h-503.2z M348.50,2636.50h503.2v520.2h-503.2z M851.70,2636.50h503.2v520.2h-503.2z M1354.90,2636.50h503.2v520.2h-503.2z M1858.10,2636.50h503.2v520.2h-503.2z M2361.30,2636.50h503.2v520.2h-503.2z M2864.50,2636.50h503.2v520.2h-503.2z" stroke="#000" stroke-width="6.7" fill="none" stroke-linejoin="miter"/>
<text font-size="51.31" transform="translate(451.25 3221.09) scale(1.0977 1)">0.68</text>
<text font-size="51.31" transform="translate(627.47 3221.09) scale(1.0364 1)">0.70</text>
<text font-size="51.31" transform="translate(1017.26 3221.09) scale(1.0938 1)">0.30</text>
<text font-size="51.31" transform="translate(1202.69 3221.09) scale(1.0770 1)">0.32</text>
<text font-size="51.31" transform="translate(1381.88 3221.09) scale(1.0837 1)">0.0220</text>
<text font-size="51.31" transform="translate(1587.37 3221.09) scale(1.0847 1)">0.0225</text>
<text font-size="51.31" transform="translate(1898.77 3221.09) scale(1.1414 1)">−0.1</text>
<text font-size="51.31" transform="translate(2066.16 3221.09) scale(1.0915 1)">0.0</text>
<text font-size="51.31" transform="translate(2215.32 3221.09) scale(1.0609 1)">0.1</text>
<text font-size="51.31" transform="translate(2376.97 3221.09) scale(1.1414 1)">−0.1</text>
<text font-size="51.31" transform="translate(2580.56 3221.09) scale(1.0915 1)">0.0</text>
<text font-size="51.31" transform="translate(2903.14 3221.69) scale(1.1065 1)">146</text>
<text font-size="52.80" transform="translate(3118.97 3218.60) scale(1.0682 1)">147</text>
<text font-size="51.31" transform="translate(204.76 652.39) scale(1.0906 1)">0.32</text>
<text font-size="51.31" transform="translate(204.75 843.59) scale(1.0969 1)">0.30</text>
<text font-size="51.31" transform="translate(213.73 1035.09) scale(1.0590 1)">0.28</text>
<text font-size="51.31" transform="translate(147.54 1141.99) scale(1.0993 1)">0.0228</text>
<text font-size="51.31" transform="translate(147.56 1312.49) scale(1.0938 1)">0.0224</text>
<text font-size="51.31" transform="translate(148.06 1482.09) scale(1.0922 1)">0.0220</text>
<text font-size="51.31" transform="translate(238.19 1711.79) scale(1.0759 1)">0.1</text>
<text font-size="51.31" transform="translate(238.16 1865.99) scale(1.0915 1)">0.0</text>
<text font-size="51.31" transform="translate(199.16 2020.09) scale(1.1455 1)">−0.1</text>
<text font-size="51.31" transform="translate(238.30 2186.49) scale(1.0699 1)">0.1</text>
<text font-size="51.31" transform="translate(238.27 2377.99) scale(1.0870 1)">0.0</text>
<text font-size="51.31" transform="translate(199.27 2570.69) scale(1.1414 1)">−0.1</text>
<text font-size="52.04" transform="translate(172.84 2744.88) scale(1.0656 1)">147.5</text>
<text font-size="51.31" transform="translate(172.80 2857.19) scale(1.0919 1)">147.0</text>
<text font-size="51.31" transform="translate(172.84 2968.99) scale(1.0808 1)">146.5</text>
<text font-size="51.31" transform="translate(172.80 3080.49) scale(1.0919 1)">146.0</text>
<text font-style="italic" font-size="77.10" transform="translate(576.94 3340.70) scale(1.0797 1)">h</text>
<text font-size="78.85" transform="translate(1045.20 3339.00) scale(0.9858 1)">Ω</text>
<text font-style="italic" font-size="55.26" transform="translate(1104.06 3351.00) scale(1.0741 1)">m</text>
<text font-size="79.35" transform="translate(1515.50 3334.85) scale(0.9777 1)">Ω</text>
<text font-style="italic" font-size="54.15" transform="translate(1574.66 3346.56) scale(1.0392 1)">b</text>
<text font-style="italic" font-size="78.14" transform="translate(1609.62 3334.85) scale(1.0082 1)">h</text>
<text font-size="55.05" transform="translate(1660.92 3306.60) scale(1.0100 1)">2</text>
<text font-style="italic" font-size="77.44" transform="translate(2073.23 3341.43) scale(1.0238 1)">α</text>
<text font-style="italic" font-size="106.53" transform="translate(2117.33 3357.24) scale(0.9462 1)">′</text>
<text font-style="italic" font-size="76.03" transform="translate(2590.86 3340.92) scale(0.9764 1)">β</text>
<text font-style="italic" font-size="79.07" transform="translate(2973.24 3340.50) scale(1.1310 1)">r</text>
<text font-style="italic" font-size="54.69" transform="translate(3003.40 3352.15) scale(1.0139 1)">d</text>
<text font-size="75.60" transform="translate(3050.54 3338.81) scale(1.0707 1)">(Mpc)</text>
<text font-size="80.86" transform="translate(154.40 857.83) rotate(-90) scale(0.9688 1)">Ω</text>
<text font-style="italic" font-size="55.44" transform="translate(166.00 798.40) rotate(-90) scale(1.0330 1)">m</text>
<text font-size="78.85" transform="translate(91.20 1414.55) rotate(-90) scale(0.9705 1)">Ω</text>
<text font-style="italic" font-size="54.56" transform="translate(103.15 1355.43) rotate(-90) scale(1.0171 1)">b</text>
<text font-style="italic" font-size="77.66" transform="translate(91.20 1320.38) rotate(-90) scale(1.0145 1)">h</text>
<text font-size="56.06" transform="translate(63.10 1268.54) rotate(-90) scale(0.9762 1)">2</text>
<text font-style="italic" font-size="78.36" transform="translate(149.02 1884.36) rotate(-90) scale(0.8974 1)">α</text>
<text font-style="italic" font-size="106.93" transform="translate(164.01 1841.64) rotate(-90) scale(0.9501 1)">′</text>
<text font-style="italic" font-size="77.86" transform="translate(146.25 2395.21) rotate(-90) scale(0.9692 1)">β</text>
<text font-style="italic" font-size="78.14" transform="translate(122.20 3038.67) rotate(-90) scale(1.1518 1)">r</text>
<text font-style="italic" font-size="55.37" transform="translate(134.05 3008.97) rotate(-90) scale(0.9818 1)">d</text>
<text font-size="77.43" transform="translate(121.03 2961.66) rotate(-90) scale(1.0460 1)">(Mpc)</text>
<rect x="2052.1" y="14.5" width="1315.6" height="311.6" rx="11" ry="11" fill="#fff" stroke="#E0E0E0" stroke-width="8.4"/>
<rect x="2074.4" y="42.75" width="140.2" height="54.35" fill="#FFA500" stroke="none"/>
<text font-size="70.35" transform="translate(2262.83 89.90) scale(0.9428 1)">DESI</text>
<text font-size="70.35" transform="translate(2434.69 89.90) scale(0.9842 1)">DR2</text>
<text font-size="85.92" transform="translate(2598.21 97.42) scale(1.0027 1)">+</text>
<text font-size="70.35" transform="translate(2671.51 89.90) scale(0.9347 1)">CMB</text>
<text font-size="85.92" transform="translate(2842.78 97.42) scale(1.0099 1)">+</text>
<text font-size="70.35" transform="translate(2915.06 89.90) scale(1.0402 1)">Pantheon</text>
<rect x="2074.4" y="139.1" width="140.2" height="54.35" fill="#3F3C7E" stroke="none"/>
<text font-size="70.35" transform="translate(2262.83 190.20) scale(0.9428 1)">DESI</text>
<text font-size="70.35" transform="translate(2434.69 190.20) scale(0.9842 1)">DR2</text>
<text font-size="85.92" transform="translate(2598.21 197.72) scale(1.0027 1)">+</text>
<text font-size="70.35" transform="translate(2671.51 190.20) scale(0.9347 1)">CMB</text>
<text font-size="85.92" transform="translate(2842.78 197.72) scale(1.0099 1)">+</text>
<text font-size="70.35" transform="translate(2915.24 190.20) scale(1.0099 1)">DES-Dovekie</text>
<rect x="2074.4" y="235.9" width="140.2" height="54.35" fill="#C76CA8" stroke="none"/>
<text font-size="70.35" transform="translate(2262.83 287.00) scale(0.9428 1)">DESI</text>
<text font-size="70.35" transform="translate(2434.69 287.00) scale(0.9842 1)">DR2</text>
<text font-size="85.92" transform="translate(2598.21 294.52) scale(1.0027 1)">+</text>
<text font-size="70.35" transform="translate(2671.51 287.00) scale(0.9347 1)">CMB</text>
<text font-size="85.92" transform="translate(2842.78 294.52) scale(1.0099 1)">+</text>
<text font-size="70.35" transform="translate(2915.43 287.00) scale(1.0397 1)">Union3</text>
<text font-size="57.76" transform="translate(3240.07 69.55) scale(1.0300 1)">+</text>
</svg>
</body></html>
